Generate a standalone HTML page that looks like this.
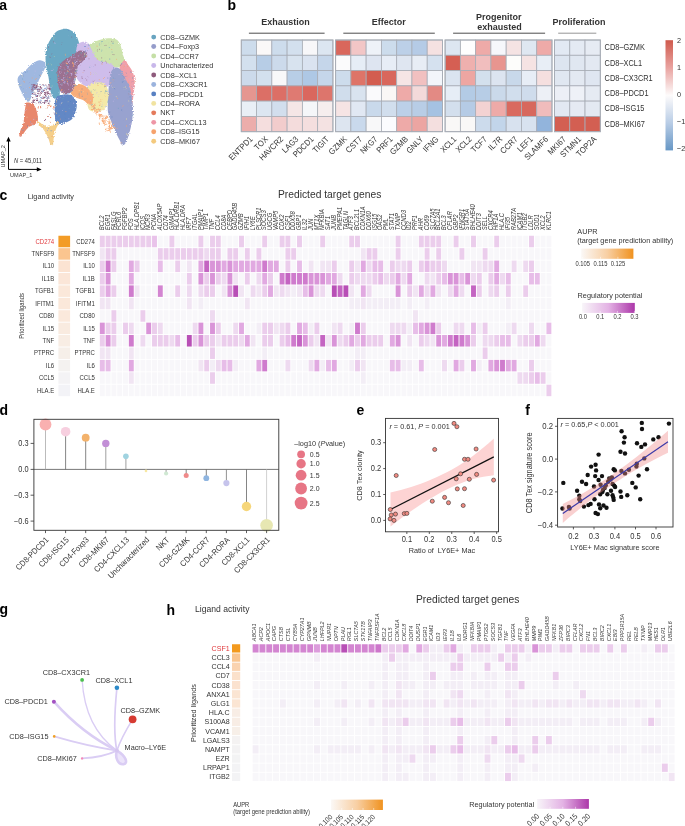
<!DOCTYPE html>
<html><head><meta charset="utf-8"><title>Figure</title>
<style>
html,body{margin:0;padding:0;background:#fff;}
body{width:685px;height:826px;overflow:hidden;}
svg{display:block;font-family:"Liberation Sans",sans-serif;will-change:transform;-webkit-font-smoothing:antialiased;}
</style></head><body>
<svg width="685" height="826" viewBox="0 0 685 826">
<rect width="685" height="826" fill="#fff"/>
<text transform="translate(-0.8 10)" font-size="14" font-weight="bold">a</text>
<defs><filter id="rough" x="-10%" y="-10%" width="120%" height="120%"><feTurbulence type="fractalNoise" baseFrequency="0.9" numOctaves="1" seed="3" result="n"/><feDisplacementMap in="SourceGraphic" in2="n" scale="3.2" xChannelSelector="R" yChannelSelector="G"/></filter></defs>
<g filter="url(#rough)">
<path d="M17.8 78C18.25 76.55 19.27 75.7 20.7 74.3C22.13 72.9 24.68 71.18 26.4 69.6C28.12 68.02 29.27 66.23 31 64.8C32.73 63.37 35.13 61.72 36.8 61C38.47 60.28 39.63 60.25 41 60.5C42.37 60.75 44.33 61.25 45 62.5C45.67 63.75 45.67 65.75 45 68C44.33 70.25 42.33 73.33 41 76C39.67 78.67 38.33 81.17 37 84C35.67 86.83 34.25 90.17 33 93C31.75 95.83 30.67 99.75 29.5 101C28.33 102.25 27.25 101.83 26 100.5C24.75 99.17 23.08 95.08 22 93C20.92 90.92 20.17 89.67 19.5 88C18.83 86.33 18.28 84.67 18 83C17.72 81.33 17.35 79.45 17.8 78Z" fill="#9fb8e0"/>
<path d="M66 28.8C68 28.97 70.33 29.97 72 31C73.67 32.03 74.92 33.33 76 35C77.08 36.67 77.83 38.67 78.5 41C79.17 43.33 80.08 46.67 80 49C79.92 51.33 79.67 53.17 78 55C76.33 56.83 72.5 58.17 70 60C67.5 61.83 64.67 63.5 63 66C61.33 68.5 60.5 71.33 60 75C59.5 78.67 60.17 84.33 60 88C59.83 91.67 60 95.33 59 97C58 98.67 55.33 98.67 54 98C52.67 97.33 51.75 95.33 51 93C50.25 90.67 50 87.17 49.5 84C49 80.83 48.58 77.17 48 74C47.42 70.83 46.42 68 46 65C45.58 62 45.42 58.83 45.5 56C45.58 53.17 45.92 50.33 46.5 48C47.08 45.67 48.08 43.83 49 42C49.92 40.17 50.83 38.67 52 37C53.17 35.33 54.67 33.17 56 32C57.33 30.83 58.33 30.53 60 30C61.67 29.47 64 28.63 66 28.8Z" fill="#6ba8c4"/>
<path d="M84 47C84.37 45.67 87.75 45.13 90.2 44C92.65 42.87 95.7 41.15 98.7 40.2C101.7 39.25 105.35 38.47 108.2 38.3C111.05 38.13 113.9 38.42 115.8 39.2C117.7 39.98 118.65 41.42 119.6 43C120.55 44.58 120.87 46.48 121.5 48.7C122.13 50.92 122.77 54.25 123.4 56.3C124.03 58.35 125.53 59.22 125.3 61C125.07 62.78 124.05 66 122 67C119.95 68 116.08 67.17 113 67C109.92 66.83 106.2 66.67 103.5 66C100.8 65.33 98.72 64.5 96.8 63C94.88 61.5 93.47 58.83 92 57C90.53 55.17 89.33 53.67 88 52C86.67 50.33 83.63 48.33 84 47Z" fill="#cde3ad"/>
<path d="M77 46C78 43 80.17 42.5 82 42C83.83 41.5 86.33 41.67 88 43C89.67 44.33 90.33 47.17 92 50C93.67 52.83 95.33 57.83 98 60C100.67 62.17 105.33 61.83 108 63C110.67 64.17 113 64.17 114 67C115 69.83 114.67 76.83 114 80C113.33 83.17 112.33 84.83 110 86C107.67 87.17 103.33 86.83 100 87C96.67 87.17 93 87.5 90 87C87 86.5 84.33 85.83 82 84C79.67 82.17 77 80 76 76C75 72 75.83 65 76 60C76.17 55 76 49 77 46Z" fill="#cfbdeb"/>
<path d="M121 64C122.05 61.75 124.12 60.37 125.3 60.5C126.48 60.63 126.98 63.13 128.1 64.8C129.22 66.47 130.97 68.43 132 70.5C133.03 72.57 133.83 74.95 134.3 77.2C134.77 79.45 134.93 81.03 134.8 84C134.67 86.97 133.88 91.83 133.5 95C133.12 98.17 132.92 100.67 132.5 103C132.08 105.33 131.58 108.33 131 109C130.42 109.67 129.83 108.83 129 107C128.17 105.17 127.33 101.17 126 98C124.67 94.83 122.17 92 121 88C119.83 84 119 78 119 74C119 70 119.95 66.25 121 64Z" fill="#f19fa8"/>
<path d="M111 72C112.17 69.25 114.33 67.83 116 67.5C117.67 67.17 119.33 67.92 121 70C122.67 72.08 124.5 77 126 80C127.5 83 129 84.83 130 88C131 91.17 131.5 95.5 132 99C132.5 102.5 133 105.33 133 109C133 112.67 132.5 117.42 132 121C131.5 124.58 130.97 127 130 130.5C129.03 134 127.47 139.5 126.2 142C124.93 144.5 123.5 145.83 122.4 145.5C121.3 145.17 120.87 142.5 119.6 140C118.33 137.5 116.23 133.67 114.8 130.5C113.37 127.33 112.1 123.83 111 121C109.9 118.17 108.75 116.33 108.2 113.5C107.65 110.67 107.7 107.17 107.7 104C107.7 100.83 107.98 97.83 108.2 94.5C108.42 91.17 108.53 87.75 109 84C109.47 80.25 109.83 74.75 111 72Z" fill="#98a2cf"/>
<path d="M87.3 86.9C88.57 84.98 91.72 83.73 94 83C96.28 82.27 98.95 82 101 82.5C103.05 83 105.05 84 106.3 86C107.55 88 108.47 91.18 108.5 94.5C108.53 97.82 107.65 103.22 106.5 105.9C105.35 108.58 103.68 109.65 101.6 110.6C99.52 111.55 96.07 111.75 94 111.6C91.93 111.45 90.32 110.97 89.2 109.7C88.08 108.43 87.77 106.53 87.3 104C86.83 101.47 86.4 97.35 86.4 94.5C86.4 91.65 86.03 88.82 87.3 86.9Z" fill="#f4e9a8"/>
<path d="M70 89C70.17 87.33 71.5 85.83 73 85C74.5 84.17 77 83.83 79 84C81 84.17 83.17 84.83 85 86C86.83 87.17 88.67 89.17 90 91C91.33 92.83 92.67 94.83 93 97C93.33 99.17 92.83 102.83 92 104C91.17 105.17 89.5 104.67 88 104C86.5 103.33 84.83 101 83 100C81.17 99 78.83 98.83 77 98C75.17 97.17 73.17 96.5 72 95C70.83 93.5 69.83 90.67 70 89Z" fill="#f8ad7a"/>
<path d="M58 68C58.75 65.33 60.33 63.67 62 62C63.67 60.33 66 59.33 68 58C70 56.67 72 55.25 74 54C76 52.75 78 50.83 80 50.5C82 50.17 84.83 51.08 86 52C87.17 52.92 87.5 54.5 87 56C86.5 57.5 84.5 59.33 83 61C81.5 62.67 79.17 63.5 78 66C76.83 68.5 76.67 72.67 76 76C75.33 79.33 75 83.17 74 86C73 88.83 71.83 91.67 70 93C68.17 94.33 64.83 94.83 63 94C61.17 93.17 59.92 90.67 59 88C58.08 85.33 57.67 81.33 57.5 78C57.33 74.67 57.25 70.67 58 68Z" fill="#9b7090"/>
<path d="M55.8 98.3C56.6 96.87 57.55 96.03 59.6 95.4C61.65 94.77 65.73 94.18 68.1 94.5C70.47 94.82 72.37 95.72 73.8 97.3C75.23 98.88 76.38 101.62 76.7 104C77.02 106.38 76.5 109.07 75.7 111.6C74.9 114.13 73.8 117.3 71.9 119.2C70 121.1 66.35 122.22 64.3 123C62.25 123.78 61.02 124.23 59.6 123.9C58.18 123.57 56.6 122.73 55.8 121C55 119.27 54.97 116.33 54.8 113.5C54.63 110.67 54.63 106.53 54.8 104C54.97 101.47 55 99.73 55.8 98.3Z" fill="#6488c5"/>
<path d="M26.4 102.6C27.5 102.05 30.57 102.8 32 103.5C33.43 104.2 34.12 105.13 35 106.8C35.88 108.47 36.83 111.13 37.3 113.5C37.77 115.87 38.35 119.12 37.8 121C37.25 122.88 35.43 123.85 34 124.8C32.57 125.75 30.47 125.9 29.2 126.7C27.93 127.5 27.67 128.02 26.4 129.6C25.13 131.18 22.78 135.17 21.6 136.2C20.42 137.23 19.45 136.9 19.3 135.8C19.15 134.7 20 131.73 20.7 129.6C21.4 127.47 22.87 125.68 23.5 123C24.13 120.32 24.18 116.2 24.5 113.5C24.82 110.8 25.08 108.62 25.4 106.8C25.72 104.98 25.3 103.15 26.4 102.6Z" fill="#e8876c"/>
<path d="M37.8 121.5C38.43 121.33 41.6 123.93 43.5 124.8C45.4 125.67 47.47 126.7 49.2 126.7C50.93 126.7 52.57 125.58 53.9 124.8C55.23 124.02 56.38 122.3 57.2 122C58.02 121.7 59.03 121.73 58.8 123C58.57 124.27 56.62 127.4 55.8 129.6C54.98 131.8 54.37 133.75 53.9 136.2C53.43 138.65 53.55 142.87 53 144.3C52.45 145.73 51.4 145.85 50.6 144.8C49.8 143.75 49.38 140.53 48.2 138C47.02 135.47 44.92 131.63 43.5 129.6C42.08 127.57 40.65 127.15 39.7 125.8C38.75 124.45 37.17 121.67 37.8 121.5Z" fill="#f5cf8a"/>
<rect x="100.34" y="115.01" width="1.1" height="1.1" fill="#f8ad7a"/>
<rect x="91.4" y="105.41" width="1.1" height="1.1" fill="#f8ad7a"/>
<rect x="92.55" y="105.48" width="1.1" height="1.1" fill="#f8ad7a"/>
<rect x="101.54" y="115.68" width="1.1" height="1.1" fill="#f8ad7a"/>
<rect x="101.02" y="114.04" width="1.1" height="1.1" fill="#f8ad7a"/>
<rect x="92.74" y="105.97" width="1.1" height="1.1" fill="#f8ad7a"/>
<rect x="98.75" y="122.64" width="1.1" height="1.1" fill="#f8ad7a"/>
<rect x="94.08" y="103.8" width="1.1" height="1.1" fill="#f8ad7a"/>
<rect x="96.28" y="109.02" width="1.1" height="1.1" fill="#f8ad7a"/>
<rect x="109.55" y="127.85" width="1.1" height="1.1" fill="#f8ad7a"/>
<rect x="102.85" y="122.6" width="1.1" height="1.1" fill="#f8ad7a"/>
<rect x="94.65" y="106.18" width="1.1" height="1.1" fill="#f8ad7a"/>
<rect x="103.89" y="122.53" width="1.1" height="1.1" fill="#f8ad7a"/>
<rect x="101.93" y="119.76" width="1.1" height="1.1" fill="#f8ad7a"/>
<rect x="107.37" y="123.09" width="1.1" height="1.1" fill="#f8ad7a"/>
<rect x="99.06" y="118.23" width="1.1" height="1.1" fill="#f8ad7a"/>
<rect x="105.13" y="128.95" width="1.1" height="1.1" fill="#f8ad7a"/>
<rect x="91.14" y="108.89" width="1.1" height="1.1" fill="#f8ad7a"/>
<rect x="94.42" y="107.99" width="1.1" height="1.1" fill="#f8ad7a"/>
<rect x="105.63" y="118.52" width="1.1" height="1.1" fill="#f8ad7a"/>
<rect x="108.19" y="129.89" width="1.1" height="1.1" fill="#f8ad7a"/>
<rect x="101.76" y="118.29" width="1.1" height="1.1" fill="#f8ad7a"/>
<rect x="111.14" y="124.99" width="1.1" height="1.1" fill="#f8ad7a"/>
<rect x="108.46" y="122.54" width="1.1" height="1.1" fill="#f8ad7a"/>
<rect x="109.03" y="120.65" width="1.1" height="1.1" fill="#f8ad7a"/>
<rect x="95.23" y="113.55" width="1.1" height="1.1" fill="#f8ad7a"/>
<rect x="91.16" y="104.9" width="1.1" height="1.1" fill="#f8ad7a"/>
<rect x="97.85" y="108.41" width="1.1" height="1.1" fill="#f8ad7a"/>
<rect x="94.62" y="109.55" width="1.1" height="1.1" fill="#f8ad7a"/>
<rect x="111.53" y="127.82" width="1.1" height="1.1" fill="#f8ad7a"/>
<rect x="106.01" y="115.56" width="1.1" height="1.1" fill="#f8ad7a"/>
<rect x="108.87" y="128.71" width="1.1" height="1.1" fill="#f8ad7a"/>
<rect x="103.31" y="109.65" width="1.1" height="1.1" fill="#f8ad7a"/>
<rect x="95.73" y="109.35" width="1.1" height="1.1" fill="#f8ad7a"/>
<rect x="93.75" y="110.34" width="1.1" height="1.1" fill="#f8ad7a"/>
<rect x="99.55" y="110.89" width="1.1" height="1.1" fill="#f8ad7a"/>
<rect x="94.41" y="111.4" width="1.1" height="1.1" fill="#f8ad7a"/>
<rect x="102.77" y="121.66" width="1.1" height="1.1" fill="#f8ad7a"/>
<rect x="109.97" y="123.15" width="1.1" height="1.1" fill="#f8ad7a"/>
<rect x="110.37" y="121.49" width="1.1" height="1.1" fill="#f8ad7a"/>
<rect x="99.02" y="114.81" width="1.1" height="1.1" fill="#f8ad7a"/>
<rect x="105.45" y="120.8" width="1.1" height="1.1" fill="#f8ad7a"/>
<rect x="97.23" y="111.14" width="1.1" height="1.1" fill="#f8ad7a"/>
<rect x="94.31" y="105.37" width="1.1" height="1.1" fill="#f8ad7a"/>
<rect x="93.7" y="107.02" width="1.1" height="1.1" fill="#f8ad7a"/>
<rect x="108.55" y="125.91" width="1.1" height="1.1" fill="#f8ad7a"/>
<rect x="95.84" y="112.27" width="1.1" height="1.1" fill="#f8ad7a"/>
<rect x="98.5" y="101.55" width="1.1" height="1.1" fill="#f8ad7a"/>
<rect x="100.39" y="116.21" width="1.1" height="1.1" fill="#f8ad7a"/>
<rect x="93.1" y="108.1" width="1.1" height="1.1" fill="#f8ad7a"/>
<rect x="108.83" y="125.95" width="1.1" height="1.1" fill="#f8ad7a"/>
<rect x="109.8" y="128.51" width="1.1" height="1.1" fill="#f8ad7a"/>
<rect x="105.52" y="118.58" width="1.1" height="1.1" fill="#f8ad7a"/>
<rect x="113.79" y="126.87" width="1.1" height="1.1" fill="#f8ad7a"/>
<rect x="96.33" y="111.78" width="1.1" height="1.1" fill="#f8ad7a"/>
<rect x="103.7" y="123.29" width="1.1" height="1.1" fill="#f8ad7a"/>
<rect x="99.27" y="116.53" width="1.1" height="1.1" fill="#f8ad7a"/>
<rect x="114.09" y="126.42" width="1.1" height="1.1" fill="#f8ad7a"/>
<rect x="108.27" y="123.7" width="1.1" height="1.1" fill="#f8ad7a"/>
<rect x="102.02" y="117.88" width="1.1" height="1.1" fill="#f8ad7a"/>
<rect x="92.25" y="106.4" width="1.1" height="1.1" fill="#f8ad7a"/>
<rect x="108.16" y="121.36" width="1.1" height="1.1" fill="#f8ad7a"/>
<rect x="116.2" y="127.95" width="1.1" height="1.1" fill="#f8ad7a"/>
<rect x="99.58" y="115.03" width="1.1" height="1.1" fill="#f8ad7a"/>
<rect x="96.8" y="112.07" width="1.1" height="1.1" fill="#f8ad7a"/>
<rect x="111.36" y="125.29" width="1.1" height="1.1" fill="#f8ad7a"/>
<rect x="105.34" y="120.1" width="1.1" height="1.1" fill="#f8ad7a"/>
<rect x="108.45" y="119.11" width="1.1" height="1.1" fill="#f8ad7a"/>
<rect x="105.64" y="123.69" width="1.1" height="1.1" fill="#f8ad7a"/>
<rect x="105.82" y="127.95" width="1.1" height="1.1" fill="#f8ad7a"/>
<rect x="109.66" y="130.62" width="1.1" height="1.1" fill="#f8ad7a"/>
<rect x="110.72" y="127.29" width="1.1" height="1.1" fill="#f8ad7a"/>
<rect x="97.32" y="111.18" width="1.1" height="1.1" fill="#f8ad7a"/>
<rect x="110.63" y="128.24" width="1.1" height="1.1" fill="#f8ad7a"/>
<rect x="110.48" y="127.78" width="1.1" height="1.1" fill="#f8ad7a"/>
<rect x="103.23" y="118.54" width="1.1" height="1.1" fill="#f8ad7a"/>
<rect x="109.83" y="127.07" width="1.1" height="1.1" fill="#f8ad7a"/>
<rect x="106.59" y="130.08" width="1.1" height="1.1" fill="#f8ad7a"/>
<rect x="108.93" y="127.11" width="1.1" height="1.1" fill="#f8ad7a"/>
<rect x="98.03" y="114.54" width="1.1" height="1.1" fill="#f8ad7a"/>
<rect x="96.17" y="111.31" width="1.1" height="1.1" fill="#f8ad7a"/>
<rect x="108.72" y="129.6" width="1.1" height="1.1" fill="#f8ad7a"/>
<rect x="105.56" y="117.87" width="1.1" height="1.1" fill="#f8ad7a"/>
<rect x="107.64" y="127.83" width="1.1" height="1.1" fill="#f8ad7a"/>
<rect x="104.82" y="117.89" width="1.1" height="1.1" fill="#f8ad7a"/>
<rect x="99.6" y="108.86" width="1.1" height="1.1" fill="#f8ad7a"/>
<rect x="91.96" y="109.07" width="1.1" height="1.1" fill="#f8ad7a"/>
<rect x="101.91" y="120.83" width="1.1" height="1.1" fill="#f8ad7a"/>
<rect x="103.33" y="117.42" width="1.1" height="1.1" fill="#f8ad7a"/>
<rect x="103.22" y="120.34" width="1.1" height="1.1" fill="#f8ad7a"/>
<rect x="104.62" y="123.94" width="1.1" height="1.1" fill="#f8ad7a"/>
<rect x="109.23" y="122.52" width="1.1" height="1.1" fill="#f8ad7a"/>
<rect x="101.62" y="119.83" width="1.1" height="1.1" fill="#f8ad7a"/>
<rect x="103.26" y="122.81" width="1.1" height="1.1" fill="#f8ad7a"/>
<rect x="104.74" y="115.2" width="1.1" height="1.1" fill="#f8ad7a"/>
<rect x="111.13" y="126.18" width="1.1" height="1.1" fill="#f8ad7a"/>
<rect x="107.14" y="117.08" width="1.1" height="1.1" fill="#f8ad7a"/>
<rect x="96.46" y="109.21" width="1.1" height="1.1" fill="#f8ad7a"/>
<rect x="93.5" y="106.74" width="1.1" height="1.1" fill="#f8ad7a"/>
<rect x="106.38" y="116.82" width="1.1" height="1.1" fill="#f8ad7a"/>
<rect x="94.41" y="104.86" width="1.1" height="1.1" fill="#f8ad7a"/>
<rect x="99.13" y="103.85" width="1.1" height="1.1" fill="#f8ad7a"/>
<rect x="98.51" y="109.06" width="1.1" height="1.1" fill="#f8ad7a"/>
<rect x="105.9" y="116.4" width="1.1" height="1.1" fill="#f8ad7a"/>
<rect x="92.82" y="109.3" width="1.1" height="1.1" fill="#f8ad7a"/>
<rect x="99.43" y="114.63" width="1.1" height="1.1" fill="#f8ad7a"/>
<rect x="109.22" y="123.12" width="1.1" height="1.1" fill="#f8ad7a"/>
<rect x="102.77" y="115.68" width="1.1" height="1.1" fill="#f8ad7a"/>
<rect x="103.68" y="120.16" width="1.1" height="1.1" fill="#f8ad7a"/>
<rect x="113.1" y="123.91" width="1.1" height="1.1" fill="#f8ad7a"/>
<rect x="32.99" y="89.05" width="1.1" height="1.1" fill="#8e5a7c"/>
<rect x="45.8" y="89.14" width="1.1" height="1.1" fill="#8e5a7c"/>
<rect x="39.02" y="101.32" width="1.1" height="1.1" fill="#9bb3dd"/>
<rect x="35.91" y="86.84" width="1.1" height="1.1" fill="#9bb3dd"/>
<rect x="41.84" y="97.31" width="1.1" height="1.1" fill="#8e5a7c"/>
<rect x="32.09" y="97.08" width="1.1" height="1.1" fill="#8e5a7c"/>
<rect x="32.38" y="101.83" width="1.1" height="1.1" fill="#8e5a7c"/>
<rect x="46.23" y="85.59" width="1.1" height="1.1" fill="#9bb3dd"/>
<rect x="32.27" y="100.39" width="1.1" height="1.1" fill="#8e5a7c"/>
<rect x="37.44" y="94.51" width="1.1" height="1.1" fill="#9bb3dd"/>
<rect x="36.09" y="86.46" width="1.1" height="1.1" fill="#8e5a7c"/>
<rect x="35.53" y="86.08" width="1.1" height="1.1" fill="#8e5a7c"/>
<rect x="31.96" y="87.83" width="1.1" height="1.1" fill="#8e5a7c"/>
<rect x="36.8" y="98.43" width="1.1" height="1.1" fill="#8e5a7c"/>
<rect x="40.5" y="87.38" width="1.1" height="1.1" fill="#8e5a7c"/>
<rect x="31.35" y="88.76" width="1.1" height="1.1" fill="#8e5a7c"/>
<rect x="44.93" y="94.47" width="1.1" height="1.1" fill="#8e5a7c"/>
<rect x="40.02" y="101.76" width="1.1" height="1.1" fill="#8e5a7c"/>
<rect x="46.56" y="92.21" width="1.1" height="1.1" fill="#8e5a7c"/>
<rect x="46.86" y="91.47" width="1.1" height="1.1" fill="#8e5a7c"/>
<rect x="44.07" y="102.67" width="1.1" height="1.1" fill="#8e5a7c"/>
<rect x="46.81" y="97.43" width="1.1" height="1.1" fill="#8e5a7c"/>
<rect x="38.69" y="90.6" width="1.1" height="1.1" fill="#8e5a7c"/>
<rect x="33.47" y="85.34" width="1.1" height="1.1" fill="#9bb3dd"/>
<rect x="35.86" y="87.1" width="1.1" height="1.1" fill="#8e5a7c"/>
<rect x="46.98" y="100.54" width="1.1" height="1.1" fill="#8e5a7c"/>
<rect x="36.36" y="88.6" width="1.1" height="1.1" fill="#8e5a7c"/>
<rect x="39.73" y="86.99" width="1.1" height="1.1" fill="#8e5a7c"/>
<rect x="36" y="102.27" width="1.1" height="1.1" fill="#9bb3dd"/>
<rect x="41.39" y="88.64" width="1.1" height="1.1" fill="#9bb3dd"/>
<rect x="36.88" y="90.78" width="1.1" height="1.1" fill="#8e5a7c"/>
<rect x="38.25" y="93.02" width="1.1" height="1.1" fill="#8e5a7c"/>
<rect x="34.82" y="93.59" width="1.1" height="1.1" fill="#8e5a7c"/>
<rect x="36.02" y="85.71" width="1.1" height="1.1" fill="#8e5a7c"/>
<rect x="31.79" y="84.43" width="1.1" height="1.1" fill="#8e5a7c"/>
<rect x="35.42" y="95.13" width="1.1" height="1.1" fill="#8e5a7c"/>
<rect x="45.26" y="96.49" width="1.1" height="1.1" fill="#9bb3dd"/>
<rect x="47.7" y="91.4" width="1.1" height="1.1" fill="#8e5a7c"/>
<rect x="49.71" y="86.84" width="1.1" height="1.1" fill="#9bb3dd"/>
<rect x="43.22" y="84.83" width="1.1" height="1.1" fill="#9bb3dd"/>
<rect x="47.95" y="95.92" width="1.1" height="1.1" fill="#9bb3dd"/>
<rect x="46.43" y="86.65" width="1.1" height="1.1" fill="#8e5a7c"/>
<rect x="40.58" y="99.86" width="1.1" height="1.1" fill="#9bb3dd"/>
<rect x="46.7" y="95.1" width="1.1" height="1.1" fill="#9bb3dd"/>
<rect x="43.98" y="97.17" width="1.1" height="1.1" fill="#8e5a7c"/>
<rect x="31.59" y="86.53" width="1.1" height="1.1" fill="#8e5a7c"/>
<rect x="32.99" y="99.88" width="1.1" height="1.1" fill="#8e5a7c"/>
<rect x="42.93" y="95.9" width="1.1" height="1.1" fill="#8e5a7c"/>
<rect x="40.3" y="84.06" width="1.1" height="1.1" fill="#9bb3dd"/>
<rect x="45.22" y="93.56" width="1.1" height="1.1" fill="#8e5a7c"/>
<rect x="43.53" y="85.25" width="1.1" height="1.1" fill="#9bb3dd"/>
<rect x="35.79" y="85.41" width="1.1" height="1.1" fill="#8e5a7c"/>
<rect x="44.86" y="87.9" width="1.1" height="1.1" fill="#9bb3dd"/>
<rect x="49.54" y="93.39" width="1.1" height="1.1" fill="#8e5a7c"/>
<rect x="40.1" y="96.99" width="1.1" height="1.1" fill="#9bb3dd"/>
<rect x="42.72" y="96.21" width="1.1" height="1.1" fill="#8e5a7c"/>
<rect x="33.8" y="88.82" width="1.1" height="1.1" fill="#9bb3dd"/>
<rect x="36.78" y="94.79" width="1.1" height="1.1" fill="#8e5a7c"/>
<rect x="32.15" y="89.11" width="1.1" height="1.1" fill="#8e5a7c"/>
<rect x="44.15" y="96.84" width="1.1" height="1.1" fill="#8e5a7c"/>
<rect x="40.81" y="92.83" width="1.1" height="1.1" fill="#8e5a7c"/>
<rect x="33.25" y="100.98" width="1.1" height="1.1" fill="#8e5a7c"/>
<rect x="49.58" y="101.79" width="1.1" height="1.1" fill="#8e5a7c"/>
<rect x="39.72" y="99.58" width="1.1" height="1.1" fill="#9bb3dd"/>
<rect x="39.54" y="89.1" width="1.1" height="1.1" fill="#8e5a7c"/>
<rect x="48.97" y="88" width="1.1" height="1.1" fill="#8e5a7c"/>
<rect x="33.69" y="93.96" width="1.1" height="1.1" fill="#9bb3dd"/>
<rect x="33.52" y="99.58" width="1.1" height="1.1" fill="#8e5a7c"/>
<rect x="47.85" y="97.36" width="1.1" height="1.1" fill="#8e5a7c"/>
<rect x="48.06" y="93.24" width="1.1" height="1.1" fill="#8e5a7c"/>
<rect x="31.07" y="93.34" width="1.1" height="1.1" fill="#8e5a7c"/>
<rect x="36.74" y="86.67" width="1.1" height="1.1" fill="#8e5a7c"/>
<rect x="37.01" y="99.96" width="1.1" height="1.1" fill="#8e5a7c"/>
<rect x="45.26" y="99.94" width="1.1" height="1.1" fill="#8e5a7c"/>
<rect x="48.6" y="97.55" width="1.1" height="1.1" fill="#9bb3dd"/>
<rect x="36.51" y="91.07" width="1.1" height="1.1" fill="#8e5a7c"/>
<rect x="49.98" y="95.19" width="1.1" height="1.1" fill="#8e5a7c"/>
<rect x="39.13" y="89.23" width="1.1" height="1.1" fill="#8e5a7c"/>
<rect x="32.93" y="99.86" width="1.1" height="1.1" fill="#8e5a7c"/>
<rect x="48.78" y="88.74" width="1.1" height="1.1" fill="#8e5a7c"/>
<rect x="40.71" y="87.61" width="1.1" height="1.1" fill="#8e5a7c"/>
<rect x="49.17" y="100.8" width="1.1" height="1.1" fill="#9bb3dd"/>
<rect x="42.99" y="101.36" width="1.1" height="1.1" fill="#9bb3dd"/>
<rect x="41.44" y="97.67" width="1.1" height="1.1" fill="#8e5a7c"/>
<rect x="44.91" y="92.57" width="1.1" height="1.1" fill="#9bb3dd"/>
<rect x="43.25" y="89.44" width="1.1" height="1.1" fill="#8e5a7c"/>
<rect x="48.61" y="86.42" width="1.1" height="1.1" fill="#8e5a7c"/>
<rect x="37.53" y="89.66" width="1.1" height="1.1" fill="#9bb3dd"/>
<rect x="49.55" y="88.94" width="1.1" height="1.1" fill="#8e5a7c"/>
<rect x="36.72" y="94.59" width="1.1" height="1.1" fill="#8e5a7c"/>
<rect x="34.18" y="87.07" width="1.1" height="1.1" fill="#8e5a7c"/>
<rect x="48.21" y="93.44" width="1.1" height="1.1" fill="#8e5a7c"/>
<rect x="48.22" y="102.93" width="1.1" height="1.1" fill="#8e5a7c"/>
<rect x="33.65" y="87.66" width="1.1" height="1.1" fill="#8e5a7c"/>
<rect x="37.5" y="85.73" width="1.1" height="1.1" fill="#8e5a7c"/>
<rect x="35.91" y="94.82" width="1.1" height="1.1" fill="#9bb3dd"/>
<rect x="45.24" y="91.84" width="1.1" height="1.1" fill="#8e5a7c"/>
<rect x="40.96" y="91.16" width="1.1" height="1.1" fill="#8e5a7c"/>
<rect x="32.18" y="89.27" width="1.1" height="1.1" fill="#9bb3dd"/>
<rect x="33.39" y="93.56" width="1.1" height="1.1" fill="#8e5a7c"/>
<rect x="47.39" y="88.1" width="1.1" height="1.1" fill="#8e5a7c"/>
<rect x="35.72" y="91.6" width="1.1" height="1.1" fill="#8e5a7c"/>
<rect x="49.12" y="100.12" width="1.1" height="1.1" fill="#9bb3dd"/>
<rect x="31.41" y="84.61" width="1.1" height="1.1" fill="#9bb3dd"/>
<rect x="48.02" y="92.99" width="1.1" height="1.1" fill="#8e5a7c"/>
<rect x="31" y="91.44" width="1.1" height="1.1" fill="#9bb3dd"/>
<rect x="46.69" y="100.25" width="1.1" height="1.1" fill="#9bb3dd"/>
<rect x="35.72" y="86.07" width="1.1" height="1.1" fill="#8e5a7c"/>
<rect x="40.92" y="96.96" width="1.1" height="1.1" fill="#9bb3dd"/>
<rect x="44.71" y="96.3" width="1.1" height="1.1" fill="#9bb3dd"/>
<rect x="39.69" y="94.48" width="1.1" height="1.1" fill="#8e5a7c"/>
<rect x="45.86" y="88.42" width="1.1" height="1.1" fill="#9bb3dd"/>
<rect x="43.26" y="89.77" width="1.1" height="1.1" fill="#8e5a7c"/>
<rect x="35.78" y="96.09" width="1.1" height="1.1" fill="#8e5a7c"/>
<rect x="33.13" y="85.34" width="1.1" height="1.1" fill="#8e5a7c"/>
<rect x="42.07" y="91.37" width="1.1" height="1.1" fill="#8e5a7c"/>
<rect x="42.42" y="84.2" width="1.1" height="1.1" fill="#8e5a7c"/>
<rect x="39.75" y="102.22" width="1.1" height="1.1" fill="#8e5a7c"/>
<rect x="47.79" y="93.03" width="1.1" height="1.1" fill="#8e5a7c"/>
<rect x="35.69" y="102.25" width="1.1" height="1.1" fill="#9bb3dd"/>
<rect x="36.84" y="84.41" width="1.1" height="1.1" fill="#8e5a7c"/>
<rect x="43.81" y="91.98" width="1.1" height="1.1" fill="#8e5a7c"/>
<rect x="43.68" y="101.58" width="1.1" height="1.1" fill="#8e5a7c"/>
<rect x="31.65" y="90.42" width="1.1" height="1.1" fill="#8e5a7c"/>
<rect x="43.97" y="87.76" width="1.1" height="1.1" fill="#9bb3dd"/>
<rect x="45.04" y="93.59" width="1.1" height="1.1" fill="#8e5a7c"/>
<rect x="49.43" y="89.92" width="1.1" height="1.1" fill="#9bb3dd"/>
<rect x="35.39" y="88.21" width="1.1" height="1.1" fill="#9bb3dd"/>
<rect x="36.6" y="102.09" width="1.1" height="1.1" fill="#8e5a7c"/>
<rect x="34.56" y="88.24" width="1.1" height="1.1" fill="#8e5a7c"/>
<rect x="43.64" y="102.03" width="1.1" height="1.1" fill="#8e5a7c"/>
<rect x="38.48" y="88.05" width="1.1" height="1.1" fill="#9bb3dd"/>
<rect x="33.7" y="84.98" width="1.1" height="1.1" fill="#8e5a7c"/>
<rect x="38.47" y="101.07" width="1.1" height="1.1" fill="#9bb3dd"/>
<rect x="44.92" y="102.95" width="1.1" height="1.1" fill="#9bb3dd"/>
<rect x="37.26" y="87.52" width="1.1" height="1.1" fill="#9bb3dd"/>
<rect x="45.18" y="84.61" width="1.1" height="1.1" fill="#8e5a7c"/>
<rect x="38.19" y="91.1" width="1.1" height="1.1" fill="#8e5a7c"/>
<rect x="34.22" y="84.05" width="1.1" height="1.1" fill="#8e5a7c"/>
<rect x="37.68" y="102.15" width="1.1" height="1.1" fill="#8e5a7c"/>
<rect x="49.32" y="87.94" width="1.1" height="1.1" fill="#8e5a7c"/>
<rect x="46.61" y="99.62" width="1.1" height="1.1" fill="#8e5a7c"/>
<rect x="31.94" y="93" width="1.1" height="1.1" fill="#8e5a7c"/>
<rect x="48.47" y="87.67" width="1.1" height="1.1" fill="#8e5a7c"/>
<rect x="48.04" y="84.58" width="1.1" height="1.1" fill="#8e5a7c"/>
<rect x="46.42" y="98.57" width="1.1" height="1.1" fill="#8e5a7c"/>
<rect x="31.66" y="85.19" width="1.1" height="1.1" fill="#9bb3dd"/>
<rect x="35.88" y="98.2" width="1.1" height="1.1" fill="#9bb3dd"/>
<rect x="37.44" y="89.17" width="1.1" height="1.1" fill="#9bb3dd"/>
<rect x="42.72" y="88.98" width="1.1" height="1.1" fill="#9bb3dd"/>
<rect x="37.01" y="89.24" width="1.1" height="1.1" fill="#8e5a7c"/>
<rect x="45.36" y="101.41" width="1.1" height="1.1" fill="#8e5a7c"/>
<rect x="48.92" y="84.46" width="1.1" height="1.1" fill="#8e5a7c"/>
<rect x="40.03" y="102.18" width="1.1" height="1.1" fill="#9bb3dd"/>
<rect x="38.34" y="88.77" width="1.1" height="1.1" fill="#8e5a7c"/>
<rect x="40.38" y="101.63" width="1.1" height="1.1" fill="#8e5a7c"/>
<rect x="46.25" y="98.03" width="1.1" height="1.1" fill="#9bb3dd"/>
<rect x="45.68" y="95.54" width="1.1" height="1.1" fill="#8e5a7c"/>
<rect x="37.07" y="90.88" width="1.1" height="1.1" fill="#9bb3dd"/>
<rect x="32.5" y="87.75" width="1.1" height="1.1" fill="#9bb3dd"/>
<rect x="35.7" y="85.23" width="1.1" height="1.1" fill="#8e5a7c"/>
<rect x="41.5" y="90.19" width="1.1" height="1.1" fill="#9bb3dd"/>
<rect x="47.79" y="102.77" width="1.1" height="1.1" fill="#8e5a7c"/>
<rect x="32.6" y="85.83" width="1.1" height="1.1" fill="#8e5a7c"/>
<rect x="44.49" y="92.49" width="1.1" height="1.1" fill="#8e5a7c"/>
<rect x="38.92" y="95.79" width="1.1" height="1.1" fill="#8e5a7c"/>
<rect x="45.21" y="100.09" width="1.1" height="1.1" fill="#8e5a7c"/>
<rect x="33.3" y="99.98" width="1.1" height="1.1" fill="#8e5a7c"/>
<rect x="41.77" y="91.09" width="1.1" height="1.1" fill="#9bb3dd"/>
<rect x="34.78" y="88.7" width="1.1" height="1.1" fill="#8e5a7c"/>
<rect x="49.41" y="121.84" width="1.1" height="1.1" fill="#e47a5b"/>
<rect x="44.1" y="119.78" width="1.1" height="1.1" fill="#8e5a7c"/>
<rect x="48.39" y="115.73" width="1.1" height="1.1" fill="#8e5a7c"/>
<rect x="48.8" y="105.4" width="1.1" height="1.1" fill="#e47a5b"/>
<rect x="47.41" y="105.14" width="1.1" height="1.1" fill="#e47a5b"/>
<rect x="39.97" y="106.04" width="1.1" height="1.1" fill="#f4ca7e"/>
<rect x="53.77" y="112.3" width="1.1" height="1.1" fill="#8e5a7c"/>
<rect x="40.07" y="107.09" width="1.1" height="1.1" fill="#e47a5b"/>
<rect x="55.54" y="112.69" width="1.1" height="1.1" fill="#f4ca7e"/>
<rect x="52.75" y="107.29" width="1.1" height="1.1" fill="#e47a5b"/>
<rect x="46.57" y="107.22" width="1.1" height="1.1" fill="#e47a5b"/>
<rect x="49.48" y="104.73" width="1.1" height="1.1" fill="#f4ca7e"/>
<rect x="42.96" y="116.97" width="1.1" height="1.1" fill="#f4ca7e"/>
<rect x="50.16" y="105.97" width="1.1" height="1.1" fill="#e47a5b"/>
<rect x="50.04" y="116.98" width="1.1" height="1.1" fill="#e47a5b"/>
<rect x="48.25" y="115.09" width="1.1" height="1.1" fill="#e47a5b"/>
<rect x="37.7" y="107.28" width="1.1" height="1.1" fill="#e47a5b"/>
<rect x="61.4" y="84.53" width="1" height="1" fill="#c8b7ea" opacity="0.85"/>
<rect x="80.58" y="52.14" width="1" height="1" fill="#6aa4c0" opacity="0.85"/>
<rect x="72.69" y="80.3" width="1" height="1" fill="#c8b7ea" opacity="0.85"/>
<rect x="64.07" y="73.57" width="1" height="1" fill="#c8b7ea" opacity="0.85"/>
<rect x="68.02" y="66.23" width="1" height="1" fill="#b9a3d6" opacity="0.85"/>
<rect x="67.53" y="83.64" width="1" height="1" fill="#c8b7ea" opacity="0.85"/>
<rect x="63.36" y="77.08" width="1" height="1" fill="#c8b7ea" opacity="0.85"/>
<rect x="65.48" y="72.71" width="1" height="1" fill="#6aa4c0" opacity="0.85"/>
<rect x="74.75" y="79.2" width="1" height="1" fill="#6aa4c0" opacity="0.85"/>
<rect x="63.09" y="62.8" width="1" height="1" fill="#a98aa6" opacity="0.85"/>
<rect x="69.83" y="72.56" width="1" height="1" fill="#c8b7ea" opacity="0.85"/>
<rect x="63.18" y="75.68" width="1" height="1" fill="#f6a26c" opacity="0.85"/>
<rect x="60.28" y="66.11" width="1" height="1" fill="#c8b7ea" opacity="0.85"/>
<rect x="60.63" y="79.28" width="1" height="1" fill="#6aa4c0" opacity="0.85"/>
<rect x="68.86" y="61.63" width="1" height="1" fill="#c8b7ea" opacity="0.85"/>
<rect x="74.51" y="76.48" width="1" height="1" fill="#f6a26c" opacity="0.85"/>
<rect x="79.47" y="60.93" width="1" height="1" fill="#c8b7ea" opacity="0.85"/>
<rect x="68.99" y="60.46" width="1" height="1" fill="#c8b7ea" opacity="0.85"/>
<rect x="85.18" y="54.62" width="1" height="1" fill="#f6a26c" opacity="0.85"/>
<rect x="75.46" y="72.31" width="1" height="1" fill="#a98aa6" opacity="0.85"/>
<rect x="69.29" y="76.98" width="1" height="1" fill="#f6a26c" opacity="0.85"/>
<rect x="65.9" y="63.21" width="1" height="1" fill="#c8b7ea" opacity="0.85"/>
<rect x="71.29" y="73.69" width="1" height="1" fill="#c8b7ea" opacity="0.85"/>
<rect x="70.89" y="82.64" width="1" height="1" fill="#c8b7ea" opacity="0.85"/>
<rect x="64.37" y="78.34" width="1" height="1" fill="#c8b7ea" opacity="0.85"/>
<rect x="66.74" y="82.98" width="1" height="1" fill="#a98aa6" opacity="0.85"/>
<rect x="57.68" y="77.98" width="1" height="1" fill="#a98aa6" opacity="0.85"/>
<rect x="69.95" y="84.69" width="1" height="1" fill="#f6a26c" opacity="0.85"/>
<rect x="58.73" y="72.33" width="1" height="1" fill="#b9a3d6" opacity="0.85"/>
<rect x="63.65" y="89.93" width="1" height="1" fill="#a98aa6" opacity="0.85"/>
<rect x="71.11" y="73.35" width="1" height="1" fill="#c8b7ea" opacity="0.85"/>
<rect x="75.92" y="53.42" width="1" height="1" fill="#b9a3d6" opacity="0.85"/>
<rect x="58.1" y="75.98" width="1" height="1" fill="#6aa4c0" opacity="0.85"/>
<rect x="62.38" y="92" width="1" height="1" fill="#f6a26c" opacity="0.85"/>
<rect x="84.52" y="52.9" width="1" height="1" fill="#a98aa6" opacity="0.85"/>
<rect x="86.22" y="54.71" width="1" height="1" fill="#b9a3d6" opacity="0.85"/>
<rect x="80.12" y="53.85" width="1" height="1" fill="#a98aa6" opacity="0.85"/>
<rect x="76.23" y="70.99" width="1" height="1" fill="#b9a3d6" opacity="0.85"/>
<rect x="59.13" y="83.32" width="1" height="1" fill="#b9a3d6" opacity="0.85"/>
<rect x="65.42" y="64.81" width="1" height="1" fill="#6aa4c0" opacity="0.85"/>
<rect x="65.04" y="81.49" width="1" height="1" fill="#6aa4c0" opacity="0.85"/>
<rect x="75.26" y="70.95" width="1" height="1" fill="#6aa4c0" opacity="0.85"/>
<rect x="69.21" y="69.2" width="1" height="1" fill="#c8b7ea" opacity="0.85"/>
<rect x="67.1" y="81.01" width="1" height="1" fill="#f6a26c" opacity="0.85"/>
<rect x="74.12" y="81.43" width="1" height="1" fill="#c8b7ea" opacity="0.85"/>
<rect x="74.39" y="62.63" width="1" height="1" fill="#c8b7ea" opacity="0.85"/>
<rect x="71.73" y="85.06" width="1" height="1" fill="#b9a3d6" opacity="0.85"/>
<rect x="74.5" y="56.99" width="1" height="1" fill="#b9a3d6" opacity="0.85"/>
<rect x="61.31" y="91.3" width="1" height="1" fill="#c8b7ea" opacity="0.85"/>
<rect x="73.96" y="54.6" width="1" height="1" fill="#6aa4c0" opacity="0.85"/>
<rect x="67.38" y="67.66" width="1" height="1" fill="#c8b7ea" opacity="0.85"/>
<rect x="69.51" y="78.42" width="1" height="1" fill="#6aa4c0" opacity="0.85"/>
<rect x="68.14" y="88.9" width="1" height="1" fill="#b9a3d6" opacity="0.85"/>
<rect x="86.21" y="55.58" width="1" height="1" fill="#f6a26c" opacity="0.85"/>
<rect x="76.68" y="65.33" width="1" height="1" fill="#6aa4c0" opacity="0.85"/>
<rect x="72.7" y="88.19" width="1" height="1" fill="#c8b7ea" opacity="0.85"/>
<rect x="61.43" y="69.31" width="1" height="1" fill="#6aa4c0" opacity="0.85"/>
<rect x="74.53" y="55.55" width="1" height="1" fill="#c8b7ea" opacity="0.85"/>
<rect x="72.25" y="61.77" width="1" height="1" fill="#a98aa6" opacity="0.85"/>
<rect x="67.16" y="60.39" width="1" height="1" fill="#b9a3d6" opacity="0.85"/>
<rect x="64.28" y="92.02" width="1" height="1" fill="#c8b7ea" opacity="0.85"/>
<rect x="61.27" y="78.95" width="1" height="1" fill="#b9a3d6" opacity="0.85"/>
<rect x="69.92" y="58.63" width="1" height="1" fill="#a98aa6" opacity="0.85"/>
<rect x="69.97" y="59.79" width="1" height="1" fill="#a98aa6" opacity="0.85"/>
<rect x="64.23" y="82.48" width="1" height="1" fill="#c8b7ea" opacity="0.85"/>
<rect x="69.76" y="75.26" width="1" height="1" fill="#a98aa6" opacity="0.85"/>
<rect x="74.68" y="60.06" width="1" height="1" fill="#b9a3d6" opacity="0.85"/>
<rect x="76.53" y="69.97" width="1" height="1" fill="#6aa4c0" opacity="0.85"/>
<rect x="64.31" y="80.83" width="1" height="1" fill="#c8b7ea" opacity="0.85"/>
<rect x="63.76" y="67.61" width="1" height="1" fill="#a98aa6" opacity="0.85"/>
<rect x="76.15" y="61" width="1" height="1" fill="#c8b7ea" opacity="0.85"/>
<rect x="85.06" y="54.68" width="1" height="1" fill="#6aa4c0" opacity="0.85"/>
<rect x="73.39" y="57.08" width="1" height="1" fill="#b9a3d6" opacity="0.85"/>
<rect x="74.39" y="73.81" width="1" height="1" fill="#a98aa6" opacity="0.85"/>
<rect x="66.97" y="82.65" width="1" height="1" fill="#c8b7ea" opacity="0.85"/>
<rect x="62.72" y="80.11" width="1" height="1" fill="#c8b7ea" opacity="0.85"/>
<rect x="76.4" y="61.11" width="1" height="1" fill="#c8b7ea" opacity="0.85"/>
<rect x="69.39" y="68.5" width="1" height="1" fill="#a98aa6" opacity="0.85"/>
<rect x="68.82" y="91.96" width="1" height="1" fill="#b9a3d6" opacity="0.85"/>
<rect x="70.79" y="57.24" width="1" height="1" fill="#c8b7ea" opacity="0.85"/>
<rect x="71.01" y="74.73" width="1" height="1" fill="#b9a3d6" opacity="0.85"/>
<rect x="82.07" y="56.44" width="1" height="1" fill="#a98aa6" opacity="0.85"/>
<rect x="65.42" y="74.12" width="1" height="1" fill="#b9a3d6" opacity="0.85"/>
<rect x="81.07" y="60.14" width="1" height="1" fill="#a98aa6" opacity="0.85"/>
<rect x="68.04" y="61.16" width="1" height="1" fill="#c8b7ea" opacity="0.85"/>
<rect x="67.46" y="78.79" width="1" height="1" fill="#6aa4c0" opacity="0.85"/>
<rect x="71.35" y="68.85" width="1" height="1" fill="#a98aa6" opacity="0.85"/>
<rect x="74.07" y="64.29" width="1" height="1" fill="#b9a3d6" opacity="0.85"/>
<rect x="72.98" y="65.19" width="1" height="1" fill="#f6a26c" opacity="0.85"/>
<rect x="60.89" y="89.78" width="1" height="1" fill="#f6a26c" opacity="0.85"/>
<rect x="61.37" y="89.21" width="1" height="1" fill="#f6a26c" opacity="0.85"/>
<rect x="76.37" y="63.07" width="1" height="1" fill="#c8b7ea" opacity="0.85"/>
<rect x="60.46" y="71.7" width="1" height="1" fill="#c8b7ea" opacity="0.85"/>
<rect x="71.5" y="89.84" width="1" height="1" fill="#a98aa6" opacity="0.85"/>
<rect x="71.72" y="71.92" width="1" height="1" fill="#f6a26c" opacity="0.85"/>
<rect x="61.13" y="64.11" width="1" height="1" fill="#a98aa6" opacity="0.85"/>
<rect x="74" y="79.27" width="1" height="1" fill="#c8b7ea" opacity="0.85"/>
<rect x="68" y="68.43" width="1" height="1" fill="#a98aa6" opacity="0.85"/>
<rect x="58.41" y="78.03" width="1" height="1" fill="#a98aa6" opacity="0.85"/>
<rect x="59.01" y="71.3" width="1" height="1" fill="#b9a3d6" opacity="0.85"/>
<rect x="76.01" y="64.9" width="1" height="1" fill="#a98aa6" opacity="0.85"/>
<rect x="67.72" y="70.88" width="1" height="1" fill="#f6a26c" opacity="0.85"/>
<rect x="65.09" y="65.05" width="1" height="1" fill="#6aa4c0" opacity="0.85"/>
<rect x="73.73" y="86.38" width="1" height="1" fill="#6aa4c0" opacity="0.85"/>
<rect x="67.37" y="71.72" width="1" height="1" fill="#6aa4c0" opacity="0.85"/>
<rect x="72.12" y="61.95" width="1" height="1" fill="#f6a26c" opacity="0.85"/>
<rect x="67.03" y="58.96" width="1" height="1" fill="#c8b7ea" opacity="0.85"/>
<rect x="66.15" y="63.17" width="1" height="1" fill="#f6a26c" opacity="0.85"/>
<rect x="73.74" y="67.87" width="1" height="1" fill="#f6a26c" opacity="0.85"/>
<rect x="77.79" y="59.35" width="1" height="1" fill="#a98aa6" opacity="0.85"/>
<rect x="61.56" y="79.2" width="1" height="1" fill="#c8b7ea" opacity="0.85"/>
<rect x="83.9" y="56.1" width="1" height="1" fill="#6aa4c0" opacity="0.85"/>
<rect x="73.99" y="61.35" width="1" height="1" fill="#6aa4c0" opacity="0.85"/>
<rect x="71.93" y="72.97" width="1" height="1" fill="#c8b7ea" opacity="0.85"/>
<rect x="58.15" y="79.92" width="1" height="1" fill="#f6a26c" opacity="0.85"/>
<rect x="76.62" y="59.34" width="1" height="1" fill="#b9a3d6" opacity="0.85"/>
<rect x="76.06" y="68.79" width="1" height="1" fill="#c8b7ea" opacity="0.85"/>
<rect x="77.88" y="55.35" width="1" height="1" fill="#c8b7ea" opacity="0.85"/>
<rect x="71.11" y="62.12" width="1" height="1" fill="#f6a26c" opacity="0.85"/>
<rect x="63.75" y="82.28" width="1" height="1" fill="#b9a3d6" opacity="0.85"/>
<rect x="60.63" y="83.41" width="1" height="1" fill="#6aa4c0" opacity="0.85"/>
<rect x="70.74" y="91.02" width="1" height="1" fill="#6aa4c0" opacity="0.85"/>
<rect x="85.23" y="52.32" width="1" height="1" fill="#c8b7ea" opacity="0.85"/>
<rect x="50.4" y="143.81" width="0.9" height="0.9" fill="#5880c2" opacity="0.7"/>
<rect x="56.11" y="105.31" width="0.9" height="0.9" fill="#f1e3a0" opacity="0.7"/>
<rect x="22.33" y="129.54" width="0.9" height="0.9" fill="#5880c2" opacity="0.7"/>
<rect x="103.6" y="95.68" width="0.9" height="0.9" fill="#f6a26c" opacity="0.7"/>
<rect x="62.11" y="102.73" width="0.9" height="0.9" fill="#f1e3a0" opacity="0.7"/>
<rect x="129.7" y="124.11" width="0.9" height="0.9" fill="#c8b7ea" opacity="0.7"/>
<rect x="108.83" y="47.16" width="0.9" height="0.9" fill="#6aa4c0" opacity="0.7"/>
<rect x="90.31" y="72.82" width="0.9" height="0.9" fill="#f6a26c" opacity="0.7"/>
<rect x="26.55" y="71.35" width="0.9" height="0.9" fill="#6aa4c0" opacity="0.7"/>
<rect x="121.22" y="109.62" width="0.9" height="0.9" fill="#5880c2" opacity="0.7"/>
<rect x="90.83" y="104.33" width="0.9" height="0.9" fill="#6aa4c0" opacity="0.7"/>
<rect x="128.59" y="93.37" width="0.9" height="0.9" fill="#5880c2" opacity="0.7"/>
<rect x="42.14" y="127.44" width="0.9" height="0.9" fill="#c8b7ea" opacity="0.7"/>
<rect x="96.56" y="85.05" width="0.9" height="0.9" fill="#f6a26c" opacity="0.7"/>
<rect x="53.53" y="68.91" width="0.9" height="0.9" fill="#c8b7ea" opacity="0.7"/>
<rect x="66.97" y="72.52" width="0.9" height="0.9" fill="#6aa4c0" opacity="0.7"/>
<rect x="84.08" y="46.15" width="0.9" height="0.9" fill="#5880c2" opacity="0.7"/>
<rect x="117.88" y="107.84" width="0.9" height="0.9" fill="#6aa4c0" opacity="0.7"/>
<rect x="129.62" y="96.49" width="0.9" height="0.9" fill="#5880c2" opacity="0.7"/>
<rect x="50.89" y="70.13" width="0.9" height="0.9" fill="#c8b7ea" opacity="0.7"/>
<rect x="65.45" y="111.18" width="0.9" height="0.9" fill="#f6a26c" opacity="0.7"/>
<rect x="132.33" y="76.93" width="0.9" height="0.9" fill="#6aa4c0" opacity="0.7"/>
<rect x="68.4" y="81.19" width="0.9" height="0.9" fill="#5880c2" opacity="0.7"/>
<rect x="69.87" y="35.03" width="0.9" height="0.9" fill="#c8b7ea" opacity="0.7"/>
<rect x="59.91" y="97.14" width="0.9" height="0.9" fill="#959cca" opacity="0.7"/>
<rect x="69.1" y="70" width="0.9" height="0.9" fill="#6aa4c0" opacity="0.7"/>
<rect x="109.2" y="110.62" width="0.9" height="0.9" fill="#c8b7ea" opacity="0.7"/>
<rect x="24.81" y="81.29" width="0.9" height="0.9" fill="#959cca" opacity="0.7"/>
<rect x="33.39" y="118.84" width="0.9" height="0.9" fill="#c8b7ea" opacity="0.7"/>
<rect x="64.46" y="113.68" width="0.9" height="0.9" fill="#5880c2" opacity="0.7"/>
<rect x="117.1" y="97.92" width="0.9" height="0.9" fill="#f6a26c" opacity="0.7"/>
<rect x="78.73" y="92.83" width="0.9" height="0.9" fill="#6aa4c0" opacity="0.7"/>
<rect x="35.81" y="118.32" width="0.9" height="0.9" fill="#6aa4c0" opacity="0.7"/>
<rect x="34.89" y="78.82" width="0.9" height="0.9" fill="#f6a26c" opacity="0.7"/>
<rect x="128.52" y="104.75" width="0.9" height="0.9" fill="#959cca" opacity="0.7"/>
<rect x="111.31" y="84.79" width="0.9" height="0.9" fill="#c8b7ea" opacity="0.7"/>
<rect x="113.48" y="54.18" width="0.9" height="0.9" fill="#8e5a7c" opacity="0.7"/>
<rect x="73.19" y="104.33" width="0.9" height="0.9" fill="#6aa4c0" opacity="0.7"/>
<rect x="126.76" y="75.93" width="0.9" height="0.9" fill="#5880c2" opacity="0.7"/>
<rect x="50.79" y="64.33" width="0.9" height="0.9" fill="#c5dfa6" opacity="0.7"/>
<rect x="36.42" y="121.41" width="0.9" height="0.9" fill="#f6a26c" opacity="0.7"/>
<rect x="54.39" y="42.75" width="0.9" height="0.9" fill="#c8b7ea" opacity="0.7"/>
<rect x="79.71" y="55.02" width="0.9" height="0.9" fill="#8e5a7c" opacity="0.7"/>
<rect x="121.94" y="81.61" width="0.9" height="0.9" fill="#5880c2" opacity="0.7"/>
<rect x="86.52" y="50.13" width="0.9" height="0.9" fill="#5880c2" opacity="0.7"/>
<rect x="105.54" y="44.91" width="0.9" height="0.9" fill="#8e5a7c" opacity="0.7"/>
<rect x="98.82" y="79.3" width="0.9" height="0.9" fill="#f6a26c" opacity="0.7"/>
<rect x="48.21" y="127.88" width="0.9" height="0.9" fill="#6aa4c0" opacity="0.7"/>
<rect x="109.29" y="58.61" width="0.9" height="0.9" fill="#5880c2" opacity="0.7"/>
<rect x="116.18" y="133.17" width="0.9" height="0.9" fill="#5880c2" opacity="0.7"/>
<rect x="83.07" y="79.42" width="0.9" height="0.9" fill="#c8b7ea" opacity="0.7"/>
<rect x="22.25" y="75.53" width="0.9" height="0.9" fill="#f1e3a0" opacity="0.7"/>
<rect x="27.49" y="98.25" width="0.9" height="0.9" fill="#f1e3a0" opacity="0.7"/>
<rect x="49.67" y="78.25" width="0.9" height="0.9" fill="#5880c2" opacity="0.7"/>
<rect x="127.41" y="135.21" width="0.9" height="0.9" fill="#f1e3a0" opacity="0.7"/>
<rect x="48.19" y="133.46" width="0.9" height="0.9" fill="#f1e3a0" opacity="0.7"/>
<rect x="53.22" y="41.42" width="0.9" height="0.9" fill="#8e5a7c" opacity="0.7"/>
<rect x="68.75" y="108.14" width="0.9" height="0.9" fill="#6aa4c0" opacity="0.7"/>
<rect x="47.13" y="129.67" width="0.9" height="0.9" fill="#c8b7ea" opacity="0.7"/>
<rect x="81.35" y="94.02" width="0.9" height="0.9" fill="#f6a26c" opacity="0.7"/>
<rect x="49.71" y="56.87" width="0.9" height="0.9" fill="#8e5a7c" opacity="0.7"/>
<rect x="111.62" y="51.56" width="0.9" height="0.9" fill="#6aa4c0" opacity="0.7"/>
<rect x="26.49" y="116.73" width="0.9" height="0.9" fill="#f1e3a0" opacity="0.7"/>
<rect x="38.93" y="74.21" width="0.9" height="0.9" fill="#6aa4c0" opacity="0.7"/>
<rect x="125.8" y="133.26" width="0.9" height="0.9" fill="#f1e3a0" opacity="0.7"/>
<rect x="128.32" y="133.62" width="0.9" height="0.9" fill="#c8b7ea" opacity="0.7"/>
<rect x="120.79" y="142.21" width="0.9" height="0.9" fill="#f6a26c" opacity="0.7"/>
<rect x="109.08" y="71.84" width="0.9" height="0.9" fill="#8e5a7c" opacity="0.7"/>
<rect x="110.46" y="82.12" width="0.9" height="0.9" fill="#f6a26c" opacity="0.7"/>
<rect x="90.84" y="101.97" width="0.9" height="0.9" fill="#6aa4c0" opacity="0.7"/>
<rect x="101.38" y="49.7" width="0.9" height="0.9" fill="#6aa4c0" opacity="0.7"/>
<rect x="20.17" y="135.53" width="0.9" height="0.9" fill="#c8b7ea" opacity="0.7"/>
<rect x="30.83" y="123.71" width="0.9" height="0.9" fill="#c8b7ea" opacity="0.7"/>
<rect x="57" y="98.08" width="0.9" height="0.9" fill="#c8b7ea" opacity="0.7"/>
<rect x="56.04" y="73.61" width="0.9" height="0.9" fill="#8e5a7c" opacity="0.7"/>
<rect x="84.09" y="54.17" width="0.9" height="0.9" fill="#f1e3a0" opacity="0.7"/>
<rect x="61.38" y="63.27" width="0.9" height="0.9" fill="#5880c2" opacity="0.7"/>
<rect x="61.11" y="101.66" width="0.9" height="0.9" fill="#c8b7ea" opacity="0.7"/>
<rect x="70.02" y="101.02" width="0.9" height="0.9" fill="#5880c2" opacity="0.7"/>
<rect x="96.85" y="58.51" width="0.9" height="0.9" fill="#f6a26c" opacity="0.7"/>
<rect x="128.68" y="83.24" width="0.9" height="0.9" fill="#f6a26c" opacity="0.7"/>
<rect x="86.66" y="92.76" width="0.9" height="0.9" fill="#6aa4c0" opacity="0.7"/>
<rect x="121.78" y="105.83" width="0.9" height="0.9" fill="#f6a26c" opacity="0.7"/>
<rect x="87.23" y="76.75" width="0.9" height="0.9" fill="#8e5a7c" opacity="0.7"/>
<rect x="59.47" y="88.4" width="0.9" height="0.9" fill="#5880c2" opacity="0.7"/>
<rect x="64.14" y="92.23" width="0.9" height="0.9" fill="#959cca" opacity="0.7"/>
<rect x="101.21" y="57.48" width="0.9" height="0.9" fill="#8e5a7c" opacity="0.7"/>
<rect x="131.97" y="85.61" width="0.9" height="0.9" fill="#959cca" opacity="0.7"/>
<rect x="131.4" y="94.86" width="0.9" height="0.9" fill="#959cca" opacity="0.7"/>
<rect x="101.06" y="41.27" width="0.9" height="0.9" fill="#6aa4c0" opacity="0.7"/>
<rect x="74.78" y="72.16" width="0.9" height="0.9" fill="#f1e3a0" opacity="0.7"/>
<rect x="101.26" y="60.79" width="0.9" height="0.9" fill="#5880c2" opacity="0.7"/>
<rect x="68.1" y="105.66" width="0.9" height="0.9" fill="#5880c2" opacity="0.7"/>
<rect x="124.58" y="86.02" width="0.9" height="0.9" fill="#f1e3a0" opacity="0.7"/>
<rect x="100.73" y="82.7" width="0.9" height="0.9" fill="#959cca" opacity="0.7"/>
<rect x="78.76" y="90" width="0.9" height="0.9" fill="#f1e3a0" opacity="0.7"/>
<rect x="131.69" y="81.63" width="0.9" height="0.9" fill="#5880c2" opacity="0.7"/>
<rect x="59.88" y="118.66" width="0.9" height="0.9" fill="#f6a26c" opacity="0.7"/>
<rect x="132.21" y="114.93" width="0.9" height="0.9" fill="#6aa4c0" opacity="0.7"/>
<rect x="112.87" y="100.76" width="0.9" height="0.9" fill="#c8b7ea" opacity="0.7"/>
<rect x="19.09" y="83.38" width="0.9" height="0.9" fill="#5880c2" opacity="0.7"/>
<rect x="75.79" y="69.52" width="0.9" height="0.9" fill="#f1e3a0" opacity="0.7"/>
<rect x="52.19" y="130.58" width="0.9" height="0.9" fill="#f6a26c" opacity="0.7"/>
<rect x="33.98" y="74.72" width="0.9" height="0.9" fill="#c8b7ea" opacity="0.7"/>
<rect x="94.67" y="94.17" width="0.9" height="0.9" fill="#f1e3a0" opacity="0.7"/>
<rect x="58.18" y="100.03" width="0.9" height="0.9" fill="#5880c2" opacity="0.7"/>
<rect x="62.32" y="110.09" width="0.9" height="0.9" fill="#c8b7ea" opacity="0.7"/>
<rect x="98.98" y="48.82" width="0.9" height="0.9" fill="#8e5a7c" opacity="0.7"/>
<rect x="127.1" y="65.86" width="0.9" height="0.9" fill="#f6a26c" opacity="0.7"/>
<rect x="105.64" y="61.72" width="0.9" height="0.9" fill="#8e5a7c" opacity="0.7"/>
<rect x="34.94" y="84.93" width="0.9" height="0.9" fill="#f6a26c" opacity="0.7"/>
<rect x="26.14" y="88.47" width="0.9" height="0.9" fill="#c8b7ea" opacity="0.7"/>
<rect x="125.28" y="65.28" width="0.9" height="0.9" fill="#c8b7ea" opacity="0.7"/>
<rect x="72.67" y="56.75" width="0.9" height="0.9" fill="#6aa4c0" opacity="0.7"/>
<rect x="99.7" y="86.73" width="0.9" height="0.9" fill="#f1e3a0" opacity="0.7"/>
<rect x="84.1" y="100.13" width="0.9" height="0.9" fill="#c8b7ea" opacity="0.7"/>
<rect x="111.34" y="86.08" width="0.9" height="0.9" fill="#f6a26c" opacity="0.7"/>
<rect x="56.18" y="100.13" width="0.9" height="0.9" fill="#f1e3a0" opacity="0.7"/>
<rect x="99.28" y="110.42" width="0.9" height="0.9" fill="#5880c2" opacity="0.7"/>
<rect x="34.67" y="70.6" width="0.9" height="0.9" fill="#c8b7ea" opacity="0.7"/>
<rect x="122.44" y="62.83" width="0.9" height="0.9" fill="#c8b7ea" opacity="0.7"/>
<rect x="125.61" y="72.72" width="0.9" height="0.9" fill="#5880c2" opacity="0.7"/>
<rect x="53.88" y="55.77" width="0.9" height="0.9" fill="#c5dfa6" opacity="0.7"/>
<rect x="59.65" y="103.59" width="0.9" height="0.9" fill="#959cca" opacity="0.7"/>
<rect x="51.48" y="53.6" width="0.9" height="0.9" fill="#8e5a7c" opacity="0.7"/>
<rect x="68.21" y="65.07" width="0.9" height="0.9" fill="#5880c2" opacity="0.7"/>
<rect x="117.9" y="72.6" width="0.9" height="0.9" fill="#c8b7ea" opacity="0.7"/>
<rect x="104.65" y="92.72" width="0.9" height="0.9" fill="#6aa4c0" opacity="0.7"/>
<rect x="90.63" y="90.75" width="0.9" height="0.9" fill="#6aa4c0" opacity="0.7"/>
<rect x="87.17" y="101.83" width="0.9" height="0.9" fill="#f6a26c" opacity="0.7"/>
<rect x="86.25" y="79.58" width="0.9" height="0.9" fill="#8e5a7c" opacity="0.7"/>
<rect x="70.58" y="86.88" width="0.9" height="0.9" fill="#6aa4c0" opacity="0.7"/>
<rect x="99.19" y="44.51" width="0.9" height="0.9" fill="#6aa4c0" opacity="0.7"/>
<rect x="100.31" y="99.4" width="0.9" height="0.9" fill="#f6a26c" opacity="0.7"/>
<rect x="81.61" y="88.55" width="0.9" height="0.9" fill="#5880c2" opacity="0.7"/>
<rect x="128.42" y="81.86" width="0.9" height="0.9" fill="#f6a26c" opacity="0.7"/>
<rect x="64.76" y="76.96" width="0.9" height="0.9" fill="#6aa4c0" opacity="0.7"/>
<rect x="60.2" y="87.56" width="0.9" height="0.9" fill="#959cca" opacity="0.7"/>
<rect x="96.84" y="49.49" width="0.9" height="0.9" fill="#8e5a7c" opacity="0.7"/>
<rect x="64.89" y="53.81" width="0.9" height="0.9" fill="#f6a26c" opacity="0.7"/>
<rect x="53.31" y="37.53" width="0.9" height="0.9" fill="#c5dfa6" opacity="0.7"/>
<rect x="92.64" y="94.24" width="0.9" height="0.9" fill="#5880c2" opacity="0.7"/>
<rect x="124.89" y="119.26" width="0.9" height="0.9" fill="#f6a26c" opacity="0.7"/>
<rect x="87.28" y="87.21" width="0.9" height="0.9" fill="#6aa4c0" opacity="0.7"/>
<rect x="66.67" y="78.27" width="0.9" height="0.9" fill="#6aa4c0" opacity="0.7"/>
<rect x="73.18" y="111.26" width="0.9" height="0.9" fill="#959cca" opacity="0.7"/>
<rect x="65.01" y="69.42" width="0.9" height="0.9" fill="#959cca" opacity="0.7"/>
<rect x="68.1" y="95.89" width="0.9" height="0.9" fill="#6aa4c0" opacity="0.7"/>
<rect x="21.36" y="129.19" width="0.9" height="0.9" fill="#6aa4c0" opacity="0.7"/>
<rect x="72.95" y="102.77" width="0.9" height="0.9" fill="#c8b7ea" opacity="0.7"/>
<rect x="131.64" y="100.57" width="0.9" height="0.9" fill="#f6a26c" opacity="0.7"/>
<rect x="48.36" y="137.54" width="0.9" height="0.9" fill="#959cca" opacity="0.7"/>
<rect x="27.68" y="104.42" width="0.9" height="0.9" fill="#959cca" opacity="0.7"/>
<rect x="92.28" y="65.03" width="0.9" height="0.9" fill="#5880c2" opacity="0.7"/>
<rect x="104.22" y="43.73" width="0.9" height="0.9" fill="#c5dfa6" opacity="0.7"/>
<rect x="65.21" y="74.27" width="0.9" height="0.9" fill="#959cca" opacity="0.7"/>
<rect x="22.37" y="74.56" width="0.9" height="0.9" fill="#c8b7ea" opacity="0.7"/>
<rect x="32.38" y="125.12" width="0.9" height="0.9" fill="#6aa4c0" opacity="0.7"/>
<rect x="108.27" y="45.21" width="0.9" height="0.9" fill="#c5dfa6" opacity="0.7"/>
<rect x="111.96" y="42.74" width="0.9" height="0.9" fill="#6aa4c0" opacity="0.7"/>
<rect x="104.77" y="85.83" width="0.9" height="0.9" fill="#f6a26c" opacity="0.7"/>
<rect x="27.61" y="68.86" width="0.9" height="0.9" fill="#c8b7ea" opacity="0.7"/>
<rect x="123.8" y="65.86" width="0.9" height="0.9" fill="#f6a26c" opacity="0.7"/>
<rect x="80.78" y="91.26" width="0.9" height="0.9" fill="#6aa4c0" opacity="0.7"/>
<rect x="66.99" y="66.13" width="0.9" height="0.9" fill="#c8b7ea" opacity="0.7"/>
<rect x="24.59" y="123.21" width="0.9" height="0.9" fill="#959cca" opacity="0.7"/>
<rect x="32.24" y="124.54" width="0.9" height="0.9" fill="#c8b7ea" opacity="0.7"/>
<rect x="104.95" y="91.12" width="0.9" height="0.9" fill="#6aa4c0" opacity="0.7"/>
<rect x="22.42" y="128.96" width="0.9" height="0.9" fill="#f6a26c" opacity="0.7"/>
<rect x="50.75" y="130.34" width="0.9" height="0.9" fill="#959cca" opacity="0.7"/>
<rect x="115.8" y="96.25" width="0.9" height="0.9" fill="#f1e3a0" opacity="0.7"/>
<rect x="128.9" y="87.28" width="0.9" height="0.9" fill="#c8b7ea" opacity="0.7"/>
<rect x="94.79" y="64.48" width="0.9" height="0.9" fill="#8e5a7c" opacity="0.7"/>
<rect x="128.52" y="90.88" width="0.9" height="0.9" fill="#6aa4c0" opacity="0.7"/>
<rect x="42.58" y="124.72" width="0.9" height="0.9" fill="#959cca" opacity="0.7"/>
<rect x="81.03" y="88.37" width="0.9" height="0.9" fill="#f6a26c" opacity="0.7"/>
<rect x="18.67" y="85.23" width="0.9" height="0.9" fill="#f1e3a0" opacity="0.7"/>
<rect x="31.8" y="77.56" width="0.9" height="0.9" fill="#f6a26c" opacity="0.7"/>
<rect x="25.74" y="109.17" width="0.9" height="0.9" fill="#c8b7ea" opacity="0.7"/>
<rect x="67.05" y="70.53" width="0.9" height="0.9" fill="#f1e3a0" opacity="0.7"/>
<rect x="68.38" y="118.35" width="0.9" height="0.9" fill="#c8b7ea" opacity="0.7"/>
<rect x="52.01" y="135.69" width="0.9" height="0.9" fill="#f6a26c" opacity="0.7"/>
<rect x="85.1" y="86.74" width="0.9" height="0.9" fill="#f6a26c" opacity="0.7"/>
<rect x="83.61" y="51.71" width="0.9" height="0.9" fill="#6aa4c0" opacity="0.7"/>
<rect x="101.79" y="62.13" width="0.9" height="0.9" fill="#8e5a7c" opacity="0.7"/>
<rect x="111.28" y="48.98" width="0.9" height="0.9" fill="#f6a26c" opacity="0.7"/>
<rect x="94.36" y="89.49" width="0.9" height="0.9" fill="#5880c2" opacity="0.7"/>
<rect x="92.17" y="89.11" width="0.9" height="0.9" fill="#6aa4c0" opacity="0.7"/>
<rect x="79.62" y="60.12" width="0.9" height="0.9" fill="#f6a26c" opacity="0.7"/>
<rect x="130.2" y="71.51" width="0.9" height="0.9" fill="#5880c2" opacity="0.7"/>
<rect x="96.57" y="73.35" width="0.9" height="0.9" fill="#c5dfa6" opacity="0.7"/>
<rect x="101.42" y="105.79" width="0.9" height="0.9" fill="#6aa4c0" opacity="0.7"/>
<rect x="73.74" y="81.59" width="0.9" height="0.9" fill="#c8b7ea" opacity="0.7"/>
<rect x="62.55" y="92.26" width="0.9" height="0.9" fill="#f1e3a0" opacity="0.7"/>
<rect x="56.06" y="101.46" width="0.9" height="0.9" fill="#f6a26c" opacity="0.7"/>
<rect x="101.59" y="63.8" width="0.9" height="0.9" fill="#f6a26c" opacity="0.7"/>
<rect x="97.39" y="83.29" width="0.9" height="0.9" fill="#5880c2" opacity="0.7"/>
<rect x="128.04" y="124.91" width="0.9" height="0.9" fill="#c8b7ea" opacity="0.7"/>
<rect x="120.94" y="78.59" width="0.9" height="0.9" fill="#959cca" opacity="0.7"/>
<rect x="40.01" y="74.81" width="0.9" height="0.9" fill="#f6a26c" opacity="0.7"/>
<rect x="67.16" y="76.73" width="0.9" height="0.9" fill="#c8b7ea" opacity="0.7"/>
<rect x="64.43" y="117.76" width="0.9" height="0.9" fill="#5880c2" opacity="0.7"/>
<rect x="48.04" y="46.68" width="0.9" height="0.9" fill="#8e5a7c" opacity="0.7"/>
<rect x="26.35" y="107.45" width="0.9" height="0.9" fill="#f6a26c" opacity="0.7"/>
<rect x="90.08" y="100.01" width="0.9" height="0.9" fill="#c8b7ea" opacity="0.7"/>
<rect x="51.79" y="85.43" width="0.9" height="0.9" fill="#c5dfa6" opacity="0.7"/>
<rect x="63.4" y="108.49" width="0.9" height="0.9" fill="#6aa4c0" opacity="0.7"/>
<rect x="66.12" y="105.11" width="0.9" height="0.9" fill="#f1e3a0" opacity="0.7"/>
<rect x="87.83" y="47.89" width="0.9" height="0.9" fill="#f6a26c" opacity="0.7"/>
<rect x="23.55" y="93.68" width="0.9" height="0.9" fill="#959cca" opacity="0.7"/>
<rect x="77.62" y="93.37" width="0.9" height="0.9" fill="#f6a26c" opacity="0.7"/>
<rect x="113.43" y="86.9" width="0.9" height="0.9" fill="#f1e3a0" opacity="0.7"/>
<rect x="95.26" y="46.14" width="0.9" height="0.9" fill="#f6a26c" opacity="0.7"/>
<rect x="124.64" y="88.32" width="0.9" height="0.9" fill="#f1e3a0" opacity="0.7"/>
<rect x="84.13" y="54.64" width="0.9" height="0.9" fill="#6aa4c0" opacity="0.7"/>
<rect x="100.39" y="100.97" width="0.9" height="0.9" fill="#f6a26c" opacity="0.7"/>
<rect x="131.53" y="72.04" width="0.9" height="0.9" fill="#6aa4c0" opacity="0.7"/>
<rect x="20.63" y="134.96" width="0.9" height="0.9" fill="#f6a26c" opacity="0.7"/>
<rect x="89.32" y="66.78" width="0.9" height="0.9" fill="#6aa4c0" opacity="0.7"/>
<rect x="109.23" y="93.8" width="0.9" height="0.9" fill="#f6a26c" opacity="0.7"/>
<rect x="79.31" y="91.92" width="0.9" height="0.9" fill="#f6a26c" opacity="0.7"/>
<rect x="108.23" y="42.43" width="0.9" height="0.9" fill="#c5dfa6" opacity="0.7"/>
<rect x="122.98" y="88.24" width="0.9" height="0.9" fill="#959cca" opacity="0.7"/>
<rect x="109.56" y="82.34" width="0.9" height="0.9" fill="#c8b7ea" opacity="0.7"/>
<rect x="58.71" y="111.57" width="0.9" height="0.9" fill="#5880c2" opacity="0.7"/>
<rect x="56.03" y="123.08" width="0.9" height="0.9" fill="#5880c2" opacity="0.7"/>
<rect x="127.63" y="97.29" width="0.9" height="0.9" fill="#959cca" opacity="0.7"/>
<rect x="28.67" y="68.61" width="0.9" height="0.9" fill="#f1e3a0" opacity="0.7"/>
<rect x="132.65" y="91.93" width="0.9" height="0.9" fill="#6aa4c0" opacity="0.7"/>
<rect x="103.89" y="85.34" width="0.9" height="0.9" fill="#f6a26c" opacity="0.7"/>
<rect x="62.27" y="98.52" width="0.9" height="0.9" fill="#6aa4c0" opacity="0.7"/>
<rect x="115.97" y="125.95" width="0.9" height="0.9" fill="#959cca" opacity="0.7"/>
<rect x="79.32" y="97.58" width="0.9" height="0.9" fill="#f6a26c" opacity="0.7"/>
<rect x="20.17" y="85.32" width="0.9" height="0.9" fill="#5880c2" opacity="0.7"/>
<rect x="63.55" y="122.14" width="0.9" height="0.9" fill="#c8b7ea" opacity="0.7"/>
<rect x="109.12" y="115.39" width="0.9" height="0.9" fill="#959cca" opacity="0.7"/>
<rect x="81.42" y="76.52" width="0.9" height="0.9" fill="#8e5a7c" opacity="0.7"/>
<rect x="128.29" y="100.51" width="0.9" height="0.9" fill="#f1e3a0" opacity="0.7"/>
<rect x="30.19" y="121.25" width="0.9" height="0.9" fill="#959cca" opacity="0.7"/>
<rect x="67.39" y="101.26" width="0.9" height="0.9" fill="#f1e3a0" opacity="0.7"/>
<rect x="131.85" y="83.66" width="0.9" height="0.9" fill="#c8b7ea" opacity="0.7"/>
<rect x="25.02" y="128.56" width="0.9" height="0.9" fill="#959cca" opacity="0.7"/>
<rect x="82.86" y="91.23" width="0.9" height="0.9" fill="#f1e3a0" opacity="0.7"/>
<rect x="111.51" y="116.55" width="0.9" height="0.9" fill="#5880c2" opacity="0.7"/>
<rect x="47.58" y="63.53" width="0.9" height="0.9" fill="#f6a26c" opacity="0.7"/>
<rect x="94.7" y="55.69" width="0.9" height="0.9" fill="#c5dfa6" opacity="0.7"/>
<rect x="121.29" y="63.29" width="0.9" height="0.9" fill="#5880c2" opacity="0.7"/>
<rect x="105.83" y="48.37" width="0.9" height="0.9" fill="#c5dfa6" opacity="0.7"/>
<rect x="92.78" y="80.69" width="0.9" height="0.9" fill="#8e5a7c" opacity="0.7"/>
<rect x="96.57" y="91.92" width="0.9" height="0.9" fill="#c8b7ea" opacity="0.7"/>
<rect x="68.27" y="29.87" width="0.9" height="0.9" fill="#5880c2" opacity="0.7"/>
<rect x="109.22" y="111.51" width="0.9" height="0.9" fill="#5880c2" opacity="0.7"/>
<rect x="107.28" y="100.75" width="0.9" height="0.9" fill="#6aa4c0" opacity="0.7"/>
<rect x="24.65" y="71.12" width="0.9" height="0.9" fill="#5880c2" opacity="0.7"/>
<rect x="84.79" y="51.14" width="0.9" height="0.9" fill="#5880c2" opacity="0.7"/>
<rect x="100.6" y="91.19" width="0.9" height="0.9" fill="#5880c2" opacity="0.7"/>
<rect x="113.29" y="77.59" width="0.9" height="0.9" fill="#6aa4c0" opacity="0.7"/>
<rect x="123.46" y="76.58" width="0.9" height="0.9" fill="#5880c2" opacity="0.7"/>
<rect x="82.14" y="72.72" width="0.9" height="0.9" fill="#f6a26c" opacity="0.7"/>
<rect x="74.88" y="85.04" width="0.9" height="0.9" fill="#6aa4c0" opacity="0.7"/>
<rect x="129.83" y="99.54" width="0.9" height="0.9" fill="#6aa4c0" opacity="0.7"/>
<rect x="79.21" y="54.74" width="0.9" height="0.9" fill="#6aa4c0" opacity="0.7"/>
<rect x="123.95" y="119.4" width="0.9" height="0.9" fill="#5880c2" opacity="0.7"/>
<rect x="83.65" y="70.23" width="0.9" height="0.9" fill="#8e5a7c" opacity="0.7"/>
<rect x="21.47" y="84.6" width="0.9" height="0.9" fill="#f1e3a0" opacity="0.7"/>
<rect x="101.84" y="103.7" width="0.9" height="0.9" fill="#c8b7ea" opacity="0.7"/>
<rect x="22.67" y="88.26" width="0.9" height="0.9" fill="#6aa4c0" opacity="0.7"/>
<rect x="32.96" y="119.42" width="0.9" height="0.9" fill="#c8b7ea" opacity="0.7"/>
<rect x="67.93" y="72.09" width="0.9" height="0.9" fill="#c8b7ea" opacity="0.7"/>
<rect x="125.11" y="118.44" width="0.9" height="0.9" fill="#f1e3a0" opacity="0.7"/>
<rect x="127.67" y="93.98" width="0.9" height="0.9" fill="#959cca" opacity="0.7"/>
<rect x="69.86" y="92.82" width="0.9" height="0.9" fill="#5880c2" opacity="0.7"/>
<rect x="105.89" y="105.89" width="0.9" height="0.9" fill="#959cca" opacity="0.7"/>
<rect x="24.3" y="80.79" width="0.9" height="0.9" fill="#f6a26c" opacity="0.7"/>
<rect x="50.63" y="130.28" width="0.9" height="0.9" fill="#6aa4c0" opacity="0.7"/>
<rect x="28.84" y="83.12" width="0.9" height="0.9" fill="#959cca" opacity="0.7"/>
<rect x="27.48" y="125.05" width="0.9" height="0.9" fill="#5880c2" opacity="0.7"/>
<rect x="81.73" y="95.85" width="0.9" height="0.9" fill="#5880c2" opacity="0.7"/>
<rect x="107.35" y="77.61" width="0.9" height="0.9" fill="#5880c2" opacity="0.7"/>
<rect x="94.25" y="84.37" width="0.9" height="0.9" fill="#f1e3a0" opacity="0.7"/>
<rect x="128.68" y="93.34" width="0.9" height="0.9" fill="#f6a26c" opacity="0.7"/>
<rect x="111.11" y="76.44" width="0.9" height="0.9" fill="#c8b7ea" opacity="0.7"/>
<rect x="89.73" y="90.96" width="0.9" height="0.9" fill="#f1e3a0" opacity="0.7"/>
<rect x="113.74" y="80.94" width="0.9" height="0.9" fill="#959cca" opacity="0.7"/>
<rect x="94.39" y="107.63" width="0.9" height="0.9" fill="#5880c2" opacity="0.7"/>
<rect x="59.65" y="77.42" width="0.9" height="0.9" fill="#6aa4c0" opacity="0.7"/>
<rect x="58.08" y="74.68" width="0.9" height="0.9" fill="#f6a26c" opacity="0.7"/>
<rect x="66.42" y="79.31" width="0.9" height="0.9" fill="#f6a26c" opacity="0.7"/>
<rect x="92.82" y="95.48" width="0.9" height="0.9" fill="#c8b7ea" opacity="0.7"/>
<rect x="84.6" y="98.61" width="0.9" height="0.9" fill="#6aa4c0" opacity="0.7"/>
<rect x="61.92" y="80.09" width="0.9" height="0.9" fill="#f6a26c" opacity="0.7"/>
<rect x="81.98" y="88.75" width="0.9" height="0.9" fill="#f6a26c" opacity="0.7"/>
<rect x="67.53" y="67.08" width="0.9" height="0.9" fill="#c8b7ea" opacity="0.7"/>
<rect x="63.43" y="75.32" width="0.9" height="0.9" fill="#c8b7ea" opacity="0.7"/>
<rect x="58.71" y="115.61" width="0.9" height="0.9" fill="#f6a26c" opacity="0.7"/>
<rect x="114.17" y="88.2" width="0.9" height="0.9" fill="#5880c2" opacity="0.7"/>
<rect x="63.62" y="62.94" width="0.9" height="0.9" fill="#8e5a7c" opacity="0.7"/>
<rect x="128.76" y="78.52" width="0.9" height="0.9" fill="#c8b7ea" opacity="0.7"/>
<rect x="47.09" y="130.06" width="0.9" height="0.9" fill="#959cca" opacity="0.7"/>
<rect x="134.32" y="81.4" width="0.9" height="0.9" fill="#f1e3a0" opacity="0.7"/>
<rect x="124.57" y="79.19" width="0.9" height="0.9" fill="#f1e3a0" opacity="0.7"/>
<rect x="88.52" y="45.19" width="0.9" height="0.9" fill="#5880c2" opacity="0.7"/>
<rect x="78.73" y="94.52" width="0.9" height="0.9" fill="#5880c2" opacity="0.7"/>
<rect x="74.05" y="85.3" width="0.9" height="0.9" fill="#5880c2" opacity="0.7"/>
<rect x="98.37" y="109.44" width="0.9" height="0.9" fill="#f6a26c" opacity="0.7"/>
<rect x="67.24" y="67.36" width="0.9" height="0.9" fill="#5880c2" opacity="0.7"/>
<rect x="72.7" y="97.49" width="0.9" height="0.9" fill="#c8b7ea" opacity="0.7"/>
<rect x="32.77" y="90.79" width="0.9" height="0.9" fill="#f1e3a0" opacity="0.7"/>
<rect x="65.6" y="61.91" width="0.9" height="0.9" fill="#f6a26c" opacity="0.7"/>
<rect x="92.04" y="107.49" width="0.9" height="0.9" fill="#f1e3a0" opacity="0.7"/>
<rect x="97.69" y="94.73" width="0.9" height="0.9" fill="#c8b7ea" opacity="0.7"/>
<rect x="105.33" y="89.98" width="0.9" height="0.9" fill="#6aa4c0" opacity="0.7"/>
<rect x="131.29" y="118.69" width="0.9" height="0.9" fill="#959cca" opacity="0.7"/>
<rect x="57.89" y="121.86" width="0.9" height="0.9" fill="#f6a26c" opacity="0.7"/>
<rect x="93.34" y="73.81" width="0.9" height="0.9" fill="#c5dfa6" opacity="0.7"/>
<rect x="59.61" y="67.89" width="0.9" height="0.9" fill="#c8b7ea" opacity="0.7"/>
<rect x="25.24" y="92.74" width="0.9" height="0.9" fill="#f6a26c" opacity="0.7"/>
<rect x="103" y="78.11" width="0.9" height="0.9" fill="#f6a26c" opacity="0.7"/>
<rect x="64.76" y="121.98" width="0.9" height="0.9" fill="#5880c2" opacity="0.7"/>
<rect x="105.36" y="86.12" width="0.9" height="0.9" fill="#6aa4c0" opacity="0.7"/>
<rect x="104.58" y="57.64" width="0.9" height="0.9" fill="#c5dfa6" opacity="0.7"/>
<rect x="43.99" y="126.42" width="0.9" height="0.9" fill="#6aa4c0" opacity="0.7"/>
<rect x="116.11" y="58.83" width="0.9" height="0.9" fill="#f6a26c" opacity="0.7"/>
<rect x="61.57" y="42.75" width="0.9" height="0.9" fill="#8e5a7c" opacity="0.7"/>
<rect x="29.08" y="87.18" width="0.9" height="0.9" fill="#f6a26c" opacity="0.7"/>
<rect x="119.86" y="64.81" width="0.9" height="0.9" fill="#8e5a7c" opacity="0.7"/>
<rect x="22.16" y="78.58" width="0.9" height="0.9" fill="#6aa4c0" opacity="0.7"/>
<rect x="72.26" y="115.28" width="0.9" height="0.9" fill="#959cca" opacity="0.7"/>
<rect x="96.79" y="45.71" width="0.9" height="0.9" fill="#f6a26c" opacity="0.7"/>
<rect x="81.77" y="77.97" width="0.9" height="0.9" fill="#8e5a7c" opacity="0.7"/>
<rect x="110.46" y="44.71" width="0.9" height="0.9" fill="#f6a26c" opacity="0.7"/>
<rect x="88.93" y="106.61" width="0.9" height="0.9" fill="#c8b7ea" opacity="0.7"/>
<rect x="73.03" y="63.15" width="0.9" height="0.9" fill="#f6a26c" opacity="0.7"/>
<rect x="38.21" y="80.61" width="0.9" height="0.9" fill="#c8b7ea" opacity="0.7"/>
<rect x="94.42" y="80.88" width="0.9" height="0.9" fill="#f6a26c" opacity="0.7"/>
<rect x="66.64" y="97.1" width="0.9" height="0.9" fill="#6aa4c0" opacity="0.7"/>
<rect x="112.62" y="79.37" width="0.9" height="0.9" fill="#f6a26c" opacity="0.7"/>
<rect x="22.48" y="74.68" width="0.9" height="0.9" fill="#5880c2" opacity="0.7"/>
<rect x="88.52" y="58.38" width="0.9" height="0.9" fill="#8e5a7c" opacity="0.7"/>
<rect x="131.78" y="95.6" width="0.9" height="0.9" fill="#5880c2" opacity="0.7"/>
<rect x="71.27" y="36.62" width="0.9" height="0.9" fill="#8e5a7c" opacity="0.7"/>
<rect x="63.41" y="95.56" width="0.9" height="0.9" fill="#c8b7ea" opacity="0.7"/>
<rect x="74.59" y="68.47" width="0.9" height="0.9" fill="#959cca" opacity="0.7"/>
<rect x="101.15" y="62.33" width="0.9" height="0.9" fill="#8e5a7c" opacity="0.7"/>
<rect x="126.11" y="124.77" width="0.9" height="0.9" fill="#f6a26c" opacity="0.7"/>
<rect x="111.37" y="40.88" width="0.9" height="0.9" fill="#8e5a7c" opacity="0.7"/>
</g>
<circle cx="153.7" cy="37.1" r="2.45" fill="#68a4c0"/>
<text transform="translate(160.3 39.7) scale(1 1.1)" font-size="7.3" fill="#333333">CD8–GZMK</text>
<circle cx="153.7" cy="46.57" r="2.45" fill="#959cca"/>
<text transform="translate(160.3 49.17) scale(1 1.1)" font-size="7.3" fill="#333333">CD4–Foxp3</text>
<circle cx="153.7" cy="56.04" r="2.45" fill="#c5dfa6"/>
<text transform="translate(160.3 58.64) scale(1 1.1)" font-size="7.3" fill="#333333">CD4–CCR7</text>
<circle cx="153.7" cy="65.51" r="2.45" fill="#c8b7ea"/>
<text transform="translate(160.3 68.11) scale(1 1.1)" font-size="7.3" fill="#333333">Uncharacterized</text>
<circle cx="153.7" cy="74.98" r="2.45" fill="#8e5a7c"/>
<text transform="translate(160.3 77.58) scale(1 1.1)" font-size="7.3" fill="#333333">CD8–XCL1</text>
<circle cx="153.7" cy="84.45" r="2.45" fill="#9bb3dd"/>
<text transform="translate(160.3 87.05) scale(1 1.1)" font-size="7.3" fill="#333333">CD8–CX3CR1</text>
<circle cx="153.7" cy="93.92" r="2.45" fill="#5880c2"/>
<text transform="translate(160.3 96.52) scale(1 1.1)" font-size="7.3" fill="#333333">CD8–PDCD1</text>
<circle cx="153.7" cy="103.39" r="2.45" fill="#f1e3a0"/>
<text transform="translate(160.3 105.99) scale(1 1.1)" font-size="7.3" fill="#333333">CD4–RORA</text>
<circle cx="153.7" cy="112.86" r="2.45" fill="#e47a5b"/>
<text transform="translate(160.3 115.46) scale(1 1.1)" font-size="7.3" fill="#333333">NKT</text>
<circle cx="153.7" cy="122.33" r="2.45" fill="#ee96a6"/>
<text transform="translate(160.3 124.93) scale(1 1.1)" font-size="7.3" fill="#333333">CD4–CXCL13</text>
<circle cx="153.7" cy="131.8" r="2.45" fill="#f6a26c"/>
<text transform="translate(160.3 134.4) scale(1 1.1)" font-size="7.3" fill="#333333">CD8–ISG15</text>
<circle cx="153.7" cy="141.27" r="2.45" fill="#f4ca7e"/>
<text transform="translate(160.3 143.87) scale(1 1.1)" font-size="7.3" fill="#333333">CD8–MKI67</text>
<line x1="8.5" y1="169.4" x2="8.5" y2="140.5" stroke="#000" stroke-width="1"/>
<line x1="8.5" y1="169.4" x2="38.5" y2="169.4" stroke="#000" stroke-width="1"/>
<path d="M8.5 136.8 L6.3 141.6 L10.7 141.6Z" fill="#000"/>
<path d="M41.6 169.4 L36.8 167.2 L36.8 171.6Z" fill="#000"/>
<text transform="translate(5.4 156.3) rotate(-90) scale(1 1.1)" font-size="5.6" text-anchor="middle" fill="#333333">UMAP_2</text>
<text transform="translate(10 176.8) scale(1 1.1)" font-size="5.6" fill="#333333">UMAP_1</text>
<text transform="translate(14 163) scale(1 1.1)" font-size="5.8" fill="#333333"><tspan font-style="italic">N</tspan> = 45,011</text>
<text transform="translate(227.6 9.8)" font-size="14" font-weight="bold">b</text>
<rect x="241.3" y="40" width="15.27" height="15.28" fill="#cddcec" stroke="#a8adb6" stroke-width="0.8"/>
<rect x="256.57" y="40" width="15.27" height="15.28" fill="#faf8f8" stroke="#a8adb6" stroke-width="0.8"/>
<rect x="271.84" y="40" width="15.27" height="15.28" fill="#cddcec" stroke="#a8adb6" stroke-width="0.8"/>
<rect x="287.11" y="40" width="15.27" height="15.28" fill="#d3e0ee" stroke="#a8adb6" stroke-width="0.8"/>
<rect x="302.38" y="40" width="15.27" height="15.28" fill="#f7f7f9" stroke="#a8adb6" stroke-width="0.8"/>
<rect x="317.65" y="40" width="15.27" height="15.28" fill="#dce6f1" stroke="#a8adb6" stroke-width="0.8"/>
<rect x="241.3" y="55.28" width="15.27" height="15.28" fill="#d3e0ee" stroke="#a8adb6" stroke-width="0.8"/>
<rect x="256.57" y="55.28" width="15.27" height="15.28" fill="#b7cde6" stroke="#a8adb6" stroke-width="0.8"/>
<rect x="271.84" y="55.28" width="15.27" height="15.28" fill="#ccdaeb" stroke="#a8adb6" stroke-width="0.8"/>
<rect x="287.11" y="55.28" width="15.27" height="15.28" fill="#d8e3ef" stroke="#a8adb6" stroke-width="0.8"/>
<rect x="302.38" y="55.28" width="15.27" height="15.28" fill="#dae3f0" stroke="#a8adb6" stroke-width="0.8"/>
<rect x="317.65" y="55.28" width="15.27" height="15.28" fill="#c5d6ea" stroke="#a8adb6" stroke-width="0.8"/>
<rect x="241.3" y="70.56" width="15.27" height="15.28" fill="#ccdaeb" stroke="#a8adb6" stroke-width="0.8"/>
<rect x="256.57" y="70.56" width="15.27" height="15.28" fill="#d3e0ee" stroke="#a8adb6" stroke-width="0.8"/>
<rect x="271.84" y="70.56" width="15.27" height="15.28" fill="#f8f8f9" stroke="#a8adb6" stroke-width="0.8"/>
<rect x="287.11" y="70.56" width="15.27" height="15.28" fill="#b8cee6" stroke="#a8adb6" stroke-width="0.8"/>
<rect x="302.38" y="70.56" width="15.27" height="15.28" fill="#aec8e5" stroke="#a8adb6" stroke-width="0.8"/>
<rect x="317.65" y="70.56" width="15.27" height="15.28" fill="#c5d6ea" stroke="#a8adb6" stroke-width="0.8"/>
<rect x="241.3" y="85.84" width="15.27" height="15.28" fill="#e59690" stroke="#a8adb6" stroke-width="0.8"/>
<rect x="256.57" y="85.84" width="15.27" height="15.28" fill="#dc6f66" stroke="#a8adb6" stroke-width="0.8"/>
<rect x="271.84" y="85.84" width="15.27" height="15.28" fill="#dc6f66" stroke="#a8adb6" stroke-width="0.8"/>
<rect x="287.11" y="85.84" width="15.27" height="15.28" fill="#df7a72" stroke="#a8adb6" stroke-width="0.8"/>
<rect x="302.38" y="85.84" width="15.27" height="15.28" fill="#da675e" stroke="#a8adb6" stroke-width="0.8"/>
<rect x="317.65" y="85.84" width="15.27" height="15.28" fill="#dd756c" stroke="#a8adb6" stroke-width="0.8"/>
<rect x="241.3" y="101.12" width="15.27" height="15.28" fill="#e9eff6" stroke="#a8adb6" stroke-width="0.8"/>
<rect x="256.57" y="101.12" width="15.27" height="15.28" fill="#dce6f1" stroke="#a8adb6" stroke-width="0.8"/>
<rect x="271.84" y="101.12" width="15.27" height="15.28" fill="#d2deed" stroke="#a8adb6" stroke-width="0.8"/>
<rect x="287.11" y="101.12" width="15.27" height="15.28" fill="#f5e6e6" stroke="#a8adb6" stroke-width="0.8"/>
<rect x="302.38" y="101.12" width="15.27" height="15.28" fill="#f5f6f9" stroke="#a8adb6" stroke-width="0.8"/>
<rect x="317.65" y="101.12" width="15.27" height="15.28" fill="#f6eeee" stroke="#a8adb6" stroke-width="0.8"/>
<rect x="241.3" y="116.4" width="15.27" height="15.28" fill="#ecadab" stroke="#a8adb6" stroke-width="0.8"/>
<rect x="256.57" y="116.4" width="15.27" height="15.28" fill="#f5dede" stroke="#a8adb6" stroke-width="0.8"/>
<rect x="271.84" y="116.4" width="15.27" height="15.28" fill="#f2cccc" stroke="#a8adb6" stroke-width="0.8"/>
<rect x="287.11" y="116.4" width="15.27" height="15.28" fill="#f4dcdc" stroke="#a8adb6" stroke-width="0.8"/>
<rect x="302.38" y="116.4" width="15.27" height="15.28" fill="#f4dede" stroke="#a8adb6" stroke-width="0.8"/>
<rect x="317.65" y="116.4" width="15.27" height="15.28" fill="#f4e2e2" stroke="#a8adb6" stroke-width="0.8"/>
<rect x="241.3" y="40" width="91.62" height="91.68" fill="none" stroke="#a8adb6" stroke-width="1"/>
<text transform="translate(253.24 139.7) rotate(-45) scale(1 1.1)" font-size="7.6" text-anchor="end" fill="#333333">ENTPD1</text>
<text transform="translate(268.51 139.7) rotate(-45) scale(1 1.1)" font-size="7.6" text-anchor="end" fill="#333333">TOX</text>
<text transform="translate(283.78 139.7) rotate(-45) scale(1 1.1)" font-size="7.6" text-anchor="end" fill="#333333">HAVCR2</text>
<text transform="translate(299.05 139.7) rotate(-45) scale(1 1.1)" font-size="7.6" text-anchor="end" fill="#333333">LAG3</text>
<text transform="translate(314.31 139.7) rotate(-45) scale(1 1.1)" font-size="7.6" text-anchor="end" fill="#333333">PDCD1</text>
<text transform="translate(329.59 139.7) rotate(-45) scale(1 1.1)" font-size="7.6" text-anchor="end" fill="#333333">TIGIT</text>
<rect x="335.6" y="40" width="15.27" height="15.28" fill="#d9675c" stroke="#a8adb6" stroke-width="0.8"/>
<rect x="350.87" y="40" width="15.27" height="15.28" fill="#f2c6c6" stroke="#a8adb6" stroke-width="0.8"/>
<rect x="366.14" y="40" width="15.27" height="15.28" fill="#eef2f8" stroke="#a8adb6" stroke-width="0.8"/>
<rect x="381.41" y="40" width="15.27" height="15.28" fill="#ccdcec" stroke="#a8adb6" stroke-width="0.8"/>
<rect x="396.68" y="40" width="15.27" height="15.28" fill="#bcd0e8" stroke="#a8adb6" stroke-width="0.8"/>
<rect x="411.95" y="40" width="15.27" height="15.28" fill="#b5cbe6" stroke="#a8adb6" stroke-width="0.8"/>
<rect x="427.22" y="40" width="15.27" height="15.28" fill="#f5e1e1" stroke="#a8adb6" stroke-width="0.8"/>
<rect x="335.6" y="55.28" width="15.27" height="15.28" fill="#fbfbfc" stroke="#a8adb6" stroke-width="0.8"/>
<rect x="350.87" y="55.28" width="15.27" height="15.28" fill="#e6edf6" stroke="#a8adb6" stroke-width="0.8"/>
<rect x="366.14" y="55.28" width="15.27" height="15.28" fill="#dee5f1" stroke="#a8adb6" stroke-width="0.8"/>
<rect x="381.41" y="55.28" width="15.27" height="15.28" fill="#e7edf6" stroke="#a8adb6" stroke-width="0.8"/>
<rect x="396.68" y="55.28" width="15.27" height="15.28" fill="#dfe6f1" stroke="#a8adb6" stroke-width="0.8"/>
<rect x="411.95" y="55.28" width="15.27" height="15.28" fill="#e8edf5" stroke="#a8adb6" stroke-width="0.8"/>
<rect x="427.22" y="55.28" width="15.27" height="15.28" fill="#d5e1ef" stroke="#a8adb6" stroke-width="0.8"/>
<rect x="335.6" y="70.56" width="15.27" height="15.28" fill="#cddcec" stroke="#a8adb6" stroke-width="0.8"/>
<rect x="350.87" y="70.56" width="15.27" height="15.28" fill="#de7468" stroke="#a8adb6" stroke-width="0.8"/>
<rect x="366.14" y="70.56" width="15.27" height="15.28" fill="#d35d50" stroke="#a8adb6" stroke-width="0.8"/>
<rect x="381.41" y="70.56" width="15.27" height="15.28" fill="#d9675c" stroke="#a8adb6" stroke-width="0.8"/>
<rect x="396.68" y="70.56" width="15.27" height="15.28" fill="#f6e5e5" stroke="#a8adb6" stroke-width="0.8"/>
<rect x="411.95" y="70.56" width="15.27" height="15.28" fill="#f1c0c0" stroke="#a8adb6" stroke-width="0.8"/>
<rect x="427.22" y="70.56" width="15.27" height="15.28" fill="#f3f5fa" stroke="#a8adb6" stroke-width="0.8"/>
<rect x="335.6" y="85.84" width="15.27" height="15.28" fill="#d0ddec" stroke="#a8adb6" stroke-width="0.8"/>
<rect x="350.87" y="85.84" width="15.27" height="15.28" fill="#d9e3ef" stroke="#a8adb6" stroke-width="0.8"/>
<rect x="366.14" y="85.84" width="15.27" height="15.28" fill="#fafafc" stroke="#a8adb6" stroke-width="0.8"/>
<rect x="381.41" y="85.84" width="15.27" height="15.28" fill="#faf7f6" stroke="#a8adb6" stroke-width="0.8"/>
<rect x="396.68" y="85.84" width="15.27" height="15.28" fill="#eeaaa8" stroke="#a8adb6" stroke-width="0.8"/>
<rect x="411.95" y="85.84" width="15.27" height="15.28" fill="#f3dada" stroke="#a8adb6" stroke-width="0.8"/>
<rect x="427.22" y="85.84" width="15.27" height="15.28" fill="#e38a84" stroke="#a8adb6" stroke-width="0.8"/>
<rect x="335.6" y="101.12" width="15.27" height="15.28" fill="#f6e4e4" stroke="#a8adb6" stroke-width="0.8"/>
<rect x="350.87" y="101.12" width="15.27" height="15.28" fill="#e1e8f3" stroke="#a8adb6" stroke-width="0.8"/>
<rect x="366.14" y="101.12" width="15.27" height="15.28" fill="#c9d9eb" stroke="#a8adb6" stroke-width="0.8"/>
<rect x="381.41" y="101.12" width="15.27" height="15.28" fill="#d1deed" stroke="#a8adb6" stroke-width="0.8"/>
<rect x="396.68" y="101.12" width="15.27" height="15.28" fill="#bcd0e8" stroke="#a8adb6" stroke-width="0.8"/>
<rect x="411.95" y="101.12" width="15.27" height="15.28" fill="#b8cde6" stroke="#a8adb6" stroke-width="0.8"/>
<rect x="427.22" y="101.12" width="15.27" height="15.28" fill="#a5c2e2" stroke="#a8adb6" stroke-width="0.8"/>
<rect x="335.6" y="116.4" width="15.27" height="15.28" fill="#dde5f0" stroke="#a8adb6" stroke-width="0.8"/>
<rect x="350.87" y="116.4" width="15.27" height="15.28" fill="#c9d9ec" stroke="#a8adb6" stroke-width="0.8"/>
<rect x="366.14" y="116.4" width="15.27" height="15.28" fill="#f8f8f9" stroke="#a8adb6" stroke-width="0.8"/>
<rect x="381.41" y="116.4" width="15.27" height="15.28" fill="#fbfcfe" stroke="#a8adb6" stroke-width="0.8"/>
<rect x="396.68" y="116.4" width="15.27" height="15.28" fill="#eeaaa8" stroke="#a8adb6" stroke-width="0.8"/>
<rect x="411.95" y="116.4" width="15.27" height="15.28" fill="#eca5a2" stroke="#a8adb6" stroke-width="0.8"/>
<rect x="427.22" y="116.4" width="15.27" height="15.28" fill="#f4dfdf" stroke="#a8adb6" stroke-width="0.8"/>
<rect x="335.6" y="40" width="106.89" height="91.68" fill="none" stroke="#a8adb6" stroke-width="1"/>
<text transform="translate(347.54 139.7) rotate(-45) scale(1 1.1)" font-size="7.6" text-anchor="end" fill="#333333">GZMK</text>
<text transform="translate(362.81 139.7) rotate(-45) scale(1 1.1)" font-size="7.6" text-anchor="end" fill="#333333">CST7</text>
<text transform="translate(378.08 139.7) rotate(-45) scale(1 1.1)" font-size="7.6" text-anchor="end" fill="#333333">NKG7</text>
<text transform="translate(393.35 139.7) rotate(-45) scale(1 1.1)" font-size="7.6" text-anchor="end" fill="#333333">PRF1</text>
<text transform="translate(408.62 139.7) rotate(-45) scale(1 1.1)" font-size="7.6" text-anchor="end" fill="#333333">GZMB</text>
<text transform="translate(423.89 139.7) rotate(-45) scale(1 1.1)" font-size="7.6" text-anchor="end" fill="#333333">GNLY</text>
<text transform="translate(439.16 139.7) rotate(-45) scale(1 1.1)" font-size="7.6" text-anchor="end" fill="#333333">IFNG</text>
<rect x="445.1" y="40" width="15.27" height="15.28" fill="#dde6f1" stroke="#a8adb6" stroke-width="0.8"/>
<rect x="460.37" y="40" width="15.27" height="15.28" fill="#fefefe" stroke="#a8adb6" stroke-width="0.8"/>
<rect x="475.64" y="40" width="15.27" height="15.28" fill="#eeaaa8" stroke="#a8adb6" stroke-width="0.8"/>
<rect x="490.91" y="40" width="15.27" height="15.28" fill="#f6f7fb" stroke="#a8adb6" stroke-width="0.8"/>
<rect x="506.18" y="40" width="15.27" height="15.28" fill="#f5e3e3" stroke="#a8adb6" stroke-width="0.8"/>
<rect x="521.45" y="40" width="15.27" height="15.28" fill="#dfe7f1" stroke="#a8adb6" stroke-width="0.8"/>
<rect x="536.72" y="40" width="15.27" height="15.28" fill="#eeaaa8" stroke="#a8adb6" stroke-width="0.8"/>
<rect x="445.1" y="55.28" width="15.27" height="15.28" fill="#d55f53" stroke="#a8adb6" stroke-width="0.8"/>
<rect x="460.37" y="55.28" width="15.27" height="15.28" fill="#efb0ae" stroke="#a8adb6" stroke-width="0.8"/>
<rect x="475.64" y="55.28" width="15.27" height="15.28" fill="#f1bebe" stroke="#a8adb6" stroke-width="0.8"/>
<rect x="490.91" y="55.28" width="15.27" height="15.28" fill="#e8958f" stroke="#a8adb6" stroke-width="0.8"/>
<rect x="506.18" y="55.28" width="15.27" height="15.28" fill="#fdfdfb" stroke="#a8adb6" stroke-width="0.8"/>
<rect x="521.45" y="55.28" width="15.27" height="15.28" fill="#f5e3e3" stroke="#a8adb6" stroke-width="0.8"/>
<rect x="536.72" y="55.28" width="15.27" height="15.28" fill="#e8eef6" stroke="#a8adb6" stroke-width="0.8"/>
<rect x="445.1" y="70.56" width="15.27" height="15.28" fill="#dbe4f0" stroke="#a8adb6" stroke-width="0.8"/>
<rect x="460.37" y="70.56" width="15.27" height="15.28" fill="#eda6a2" stroke="#a8adb6" stroke-width="0.8"/>
<rect x="475.64" y="70.56" width="15.27" height="15.28" fill="#d3e0ed" stroke="#a8adb6" stroke-width="0.8"/>
<rect x="490.91" y="70.56" width="15.27" height="15.28" fill="#dce4f0" stroke="#a8adb6" stroke-width="0.8"/>
<rect x="506.18" y="70.56" width="15.27" height="15.28" fill="#c8d8ea" stroke="#a8adb6" stroke-width="0.8"/>
<rect x="521.45" y="70.56" width="15.27" height="15.28" fill="#e7edf6" stroke="#a8adb6" stroke-width="0.8"/>
<rect x="536.72" y="70.56" width="15.27" height="15.28" fill="#f5dfdf" stroke="#a8adb6" stroke-width="0.8"/>
<rect x="445.1" y="85.84" width="15.27" height="15.28" fill="#e6edf6" stroke="#a8adb6" stroke-width="0.8"/>
<rect x="460.37" y="85.84" width="15.27" height="15.28" fill="#b3cbe5" stroke="#a8adb6" stroke-width="0.8"/>
<rect x="475.64" y="85.84" width="15.27" height="15.28" fill="#b7cde6" stroke="#a8adb6" stroke-width="0.8"/>
<rect x="490.91" y="85.84" width="15.27" height="15.28" fill="#cad9ea" stroke="#a8adb6" stroke-width="0.8"/>
<rect x="506.18" y="85.84" width="15.27" height="15.28" fill="#d1deed" stroke="#a8adb6" stroke-width="0.8"/>
<rect x="521.45" y="85.84" width="15.27" height="15.28" fill="#cfdcec" stroke="#a8adb6" stroke-width="0.8"/>
<rect x="536.72" y="85.84" width="15.27" height="15.28" fill="#edf0f6" stroke="#a8adb6" stroke-width="0.8"/>
<rect x="445.1" y="101.12" width="15.27" height="15.28" fill="#d3dfed" stroke="#a8adb6" stroke-width="0.8"/>
<rect x="460.37" y="101.12" width="15.27" height="15.28" fill="#b5cbe5" stroke="#a8adb6" stroke-width="0.8"/>
<rect x="475.64" y="101.12" width="15.27" height="15.28" fill="#f3d2d2" stroke="#a8adb6" stroke-width="0.8"/>
<rect x="490.91" y="101.12" width="15.27" height="15.28" fill="#eeaaa8" stroke="#a8adb6" stroke-width="0.8"/>
<rect x="506.18" y="101.12" width="15.27" height="15.28" fill="#d96a5f" stroke="#a8adb6" stroke-width="0.8"/>
<rect x="521.45" y="101.12" width="15.27" height="15.28" fill="#d7685d" stroke="#a8adb6" stroke-width="0.8"/>
<rect x="536.72" y="101.12" width="15.27" height="15.28" fill="#f0bcbc" stroke="#a8adb6" stroke-width="0.8"/>
<rect x="445.1" y="116.4" width="15.27" height="15.28" fill="#f9f8f7" stroke="#a8adb6" stroke-width="0.8"/>
<rect x="460.37" y="116.4" width="15.27" height="15.28" fill="#f9f8f7" stroke="#a8adb6" stroke-width="0.8"/>
<rect x="475.64" y="116.4" width="15.27" height="15.28" fill="#ccdbec" stroke="#a8adb6" stroke-width="0.8"/>
<rect x="490.91" y="116.4" width="15.27" height="15.28" fill="#c2d5ea" stroke="#a8adb6" stroke-width="0.8"/>
<rect x="506.18" y="116.4" width="15.27" height="15.28" fill="#d8e2ef" stroke="#a8adb6" stroke-width="0.8"/>
<rect x="521.45" y="116.4" width="15.27" height="15.28" fill="#d8e2ef" stroke="#a8adb6" stroke-width="0.8"/>
<rect x="536.72" y="116.4" width="15.27" height="15.28" fill="#92b4dc" stroke="#a8adb6" stroke-width="0.8"/>
<rect x="445.1" y="40" width="106.89" height="91.68" fill="none" stroke="#a8adb6" stroke-width="1"/>
<text transform="translate(457.04 139.7) rotate(-45) scale(1 1.1)" font-size="7.6" text-anchor="end" fill="#333333">XCL1</text>
<text transform="translate(472.31 139.7) rotate(-45) scale(1 1.1)" font-size="7.6" text-anchor="end" fill="#333333">XCL2</text>
<text transform="translate(487.58 139.7) rotate(-45) scale(1 1.1)" font-size="7.6" text-anchor="end" fill="#333333">TCF7</text>
<text transform="translate(502.85 139.7) rotate(-45) scale(1 1.1)" font-size="7.6" text-anchor="end" fill="#333333">IL7R</text>
<text transform="translate(518.12 139.7) rotate(-45) scale(1 1.1)" font-size="7.6" text-anchor="end" fill="#333333">CCR7</text>
<text transform="translate(533.38 139.7) rotate(-45) scale(1 1.1)" font-size="7.6" text-anchor="end" fill="#333333">LEF1</text>
<text transform="translate(548.65 139.7) rotate(-45) scale(1 1.1)" font-size="7.6" text-anchor="end" fill="#333333">SLAMF6</text>
<rect x="554.5" y="40" width="15.27" height="15.28" fill="#e2e9f3" stroke="#a8adb6" stroke-width="0.8"/>
<rect x="569.77" y="40" width="15.27" height="15.28" fill="#e4eaf3" stroke="#a8adb6" stroke-width="0.8"/>
<rect x="585.04" y="40" width="15.27" height="15.28" fill="#e6ebf3" stroke="#a8adb6" stroke-width="0.8"/>
<rect x="554.5" y="55.28" width="15.27" height="15.28" fill="#dde5f0" stroke="#a8adb6" stroke-width="0.8"/>
<rect x="569.77" y="55.28" width="15.27" height="15.28" fill="#e0e7f1" stroke="#a8adb6" stroke-width="0.8"/>
<rect x="585.04" y="55.28" width="15.27" height="15.28" fill="#e3e9f2" stroke="#a8adb6" stroke-width="0.8"/>
<rect x="554.5" y="70.56" width="15.27" height="15.28" fill="#e0e7f1" stroke="#a8adb6" stroke-width="0.8"/>
<rect x="569.77" y="70.56" width="15.27" height="15.28" fill="#e3e9f2" stroke="#a8adb6" stroke-width="0.8"/>
<rect x="585.04" y="70.56" width="15.27" height="15.28" fill="#dfe6f1" stroke="#a8adb6" stroke-width="0.8"/>
<rect x="554.5" y="85.84" width="15.27" height="15.28" fill="#eceff6" stroke="#a8adb6" stroke-width="0.8"/>
<rect x="569.77" y="85.84" width="15.27" height="15.28" fill="#eef1f7" stroke="#a8adb6" stroke-width="0.8"/>
<rect x="585.04" y="85.84" width="15.27" height="15.28" fill="#e6ebf3" stroke="#a8adb6" stroke-width="0.8"/>
<rect x="554.5" y="101.12" width="15.27" height="15.28" fill="#e2e8f2" stroke="#a8adb6" stroke-width="0.8"/>
<rect x="569.77" y="101.12" width="15.27" height="15.28" fill="#e5eaf3" stroke="#a8adb6" stroke-width="0.8"/>
<rect x="585.04" y="101.12" width="15.27" height="15.28" fill="#e3e9f2" stroke="#a8adb6" stroke-width="0.8"/>
<rect x="554.5" y="116.4" width="15.27" height="15.28" fill="#d35f52" stroke="#a8adb6" stroke-width="0.8"/>
<rect x="569.77" y="116.4" width="15.27" height="15.28" fill="#d35f52" stroke="#a8adb6" stroke-width="0.8"/>
<rect x="585.04" y="116.4" width="15.27" height="15.28" fill="#d35f52" stroke="#a8adb6" stroke-width="0.8"/>
<rect x="554.5" y="40" width="45.81" height="91.68" fill="none" stroke="#a8adb6" stroke-width="1"/>
<text transform="translate(566.43 139.7) rotate(-45) scale(1 1.1)" font-size="7.6" text-anchor="end" fill="#333333">MKI67</text>
<text transform="translate(581.7 139.7) rotate(-45) scale(1 1.1)" font-size="7.6" text-anchor="end" fill="#333333">STMN1</text>
<text transform="translate(596.97 139.7) rotate(-45) scale(1 1.1)" font-size="7.6" text-anchor="end" fill="#333333">TOP2A</text>
<text transform="translate(285.6 25.4) scale(1 1.1)" font-size="9" text-anchor="middle" font-weight="bold" fill="#333333">Exhaustion</text>
<text transform="translate(388.7 25.4) scale(1 1.1)" font-size="9" text-anchor="middle" font-weight="bold" fill="#333333">Effector</text>
<text transform="translate(498.7 19.6) scale(1 1.1)" font-size="9" text-anchor="middle" font-weight="bold" fill="#333333">Progenitor</text>
<text transform="translate(499.4 30) scale(1 1.1)" font-size="9" text-anchor="middle" font-weight="bold" fill="#333333">exhausted</text>
<text transform="translate(579 25.3) scale(1 1.1)" font-size="9" text-anchor="middle" font-weight="bold" fill="#333333">Proliferation</text>
<line x1="248.9" y1="33.2" x2="324.6" y2="33.2" stroke="#3a3a3a" stroke-width="0.9"/>
<line x1="343.3" y1="33.2" x2="434.8" y2="33.2" stroke="#3a3a3a" stroke-width="0.9"/>
<line x1="453.1" y1="33.2" x2="545.1" y2="33.2" stroke="#3a3a3a" stroke-width="0.9"/>
<line x1="558.2" y1="33.2" x2="596.3" y2="33.2" stroke="#8a8a8a" stroke-width="0.9"/>
<text transform="translate(604.6 50.34) scale(1 1.17)" font-size="7.4" fill="#333333">CD8–GZMK</text>
<text transform="translate(604.6 65.62) scale(1 1.17)" font-size="7.4" fill="#333333">CD8–XCL1</text>
<text transform="translate(604.6 80.9) scale(1 1.17)" font-size="7.4" fill="#333333">CD8–CX3CR1</text>
<text transform="translate(604.6 96.18) scale(1 1.17)" font-size="7.4" fill="#333333">CD8–PDCD1</text>
<text transform="translate(604.6 111.46) scale(1 1.17)" font-size="7.4" fill="#333333">CD8–ISG15</text>
<text transform="translate(604.6 126.74) scale(1 1.17)" font-size="7.4" fill="#333333">CD8–MKI67</text>
<defs><linearGradient id="rb" x1="0" y1="0" x2="0" y2="1"><stop offset="0" stop-color="#cf5a4d"/><stop offset="0.25" stop-color="#e9a3a0"/><stop offset="0.5" stop-color="#fdfbfb"/><stop offset="0.75" stop-color="#b9cde6"/><stop offset="1" stop-color="#6797c5"/></linearGradient></defs>
<rect x="665.5" y="40.2" width="7.5" height="110.2" fill="url(#rb)"/>
<text transform="translate(677 43.3) scale(1 1.1)" font-size="7.3" fill="#333333">2</text>
<text transform="translate(677 70) scale(1 1.1)" font-size="7.3" fill="#333333">1</text>
<text transform="translate(677 97.1) scale(1 1.1)" font-size="7.3" fill="#333333">0</text>
<text transform="translate(677 123.9) scale(1 1.1)" font-size="7.3" fill="#333333">−1</text>
<text transform="translate(677 151.4) scale(1 1.1)" font-size="7.3" fill="#333333">−2</text>
<text transform="translate(-0.6 200.3)" font-size="14" font-weight="bold">c</text>
<text transform="translate(27.7 198.9) scale(1 1.1)" font-size="7.3" fill="#333333">Ligand activity</text>
<text transform="translate(277.9 197.9) scale(1 1.1)" font-size="10.3" fill="#333333">Predicted target genes</text>
<rect x="58.4" y="235.75" width="11.7" height="11.51" fill="#f39c26"/>
<text transform="translate(54.2 243.66) scale(1 1.1)" font-size="6" text-anchor="end" fill="#e0383b">CD274</text>
<text transform="translate(94.8 243.66) scale(1 1.1)" font-size="6" text-anchor="end" fill="#333333">CD274</text>
<rect x="99.85" y="235.75" width="4.9" height="11.51" fill="#ebcdec"/>
<rect x="105.65" y="235.75" width="4.9" height="11.51" fill="#ebcdec"/>
<rect x="111.45" y="235.75" width="4.9" height="11.51" fill="#ebcdec"/>
<rect x="117.25" y="235.75" width="4.9" height="11.51" fill="#ebcdec"/>
<rect x="123.05" y="235.75" width="4.9" height="11.51" fill="#ebcdec"/>
<rect x="128.85" y="235.75" width="4.9" height="11.51" fill="#ebcdec"/>
<rect x="134.65" y="235.75" width="4.9" height="11.51" fill="#ebcdec"/>
<rect x="140.45" y="235.75" width="4.9" height="11.51" fill="#ebcdec"/>
<rect x="146.25" y="235.75" width="4.9" height="11.51" fill="#ebcdec"/>
<rect x="152.05" y="235.75" width="4.9" height="11.51" fill="#e9c3ea"/>
<rect x="157.85" y="235.75" width="4.9" height="11.51" fill="#f8f7fa"/>
<rect x="163.65" y="235.75" width="4.9" height="11.51" fill="#f8f7fa"/>
<rect x="169.45" y="235.75" width="4.9" height="11.51" fill="#ebcdec"/>
<rect x="175.25" y="235.75" width="4.9" height="11.51" fill="#f8f7fa"/>
<rect x="181.05" y="235.75" width="4.9" height="11.51" fill="#f8f7fa"/>
<rect x="186.85" y="235.75" width="4.9" height="11.51" fill="#f8f7fa"/>
<rect x="192.65" y="235.75" width="4.9" height="11.51" fill="#f8f7fa"/>
<rect x="198.45" y="235.75" width="4.9" height="11.51" fill="#ebcdec"/>
<rect x="204.25" y="235.75" width="4.9" height="11.51" fill="#f8f7fa"/>
<rect x="210.05" y="235.75" width="4.9" height="11.51" fill="#ebcdec"/>
<rect x="215.85" y="235.75" width="4.9" height="11.51" fill="#ebcdec"/>
<rect x="221.65" y="235.75" width="4.9" height="11.51" fill="#f8f7fa"/>
<rect x="227.45" y="235.75" width="4.9" height="11.51" fill="#f8f7fa"/>
<rect x="233.25" y="235.75" width="4.9" height="11.51" fill="#f8f7fa"/>
<rect x="239.05" y="235.75" width="4.9" height="11.51" fill="#ebcdec"/>
<rect x="244.85" y="235.75" width="4.9" height="11.51" fill="#f8f7fa"/>
<rect x="250.65" y="235.75" width="4.9" height="11.51" fill="#f8f7fa"/>
<rect x="256.45" y="235.75" width="4.9" height="11.51" fill="#f8f7fa"/>
<rect x="262.25" y="235.75" width="4.9" height="11.51" fill="#ebcdec"/>
<rect x="268.05" y="235.75" width="4.9" height="11.51" fill="#f8f7fa"/>
<rect x="273.85" y="235.75" width="4.9" height="11.51" fill="#f8f7fa"/>
<rect x="279.65" y="235.75" width="4.9" height="11.51" fill="#ebcdec"/>
<rect x="285.45" y="235.75" width="4.9" height="11.51" fill="#ebcdec"/>
<rect x="291.25" y="235.75" width="4.9" height="11.51" fill="#f8f7fa"/>
<rect x="297.05" y="235.75" width="4.9" height="11.51" fill="#ebcdec"/>
<rect x="302.85" y="235.75" width="4.9" height="11.51" fill="#f8f7fa"/>
<rect x="308.65" y="235.75" width="4.9" height="11.51" fill="#f8f7fa"/>
<rect x="314.45" y="235.75" width="4.9" height="11.51" fill="#f8f7fa"/>
<rect x="320.25" y="235.75" width="4.9" height="11.51" fill="#ebcdec"/>
<rect x="326.05" y="235.75" width="4.9" height="11.51" fill="#f8f7fa"/>
<rect x="331.85" y="235.75" width="4.9" height="11.51" fill="#f8f7fa"/>
<rect x="337.65" y="235.75" width="4.9" height="11.51" fill="#f8f7fa"/>
<rect x="343.45" y="235.75" width="4.9" height="11.51" fill="#f8f7fa"/>
<rect x="349.25" y="235.75" width="4.9" height="11.51" fill="#ebcdec"/>
<rect x="355.05" y="235.75" width="4.9" height="11.51" fill="#ebcdec"/>
<rect x="360.85" y="235.75" width="4.9" height="11.51" fill="#f8f7fa"/>
<rect x="366.65" y="235.75" width="4.9" height="11.51" fill="#f8f7fa"/>
<rect x="372.45" y="235.75" width="4.9" height="11.51" fill="#f8f7fa"/>
<rect x="378.25" y="235.75" width="4.9" height="11.51" fill="#f8f7fa"/>
<rect x="384.05" y="235.75" width="4.9" height="11.51" fill="#f8f7fa"/>
<rect x="389.85" y="235.75" width="4.9" height="11.51" fill="#f8f7fa"/>
<rect x="395.65" y="235.75" width="4.9" height="11.51" fill="#ebcdec"/>
<rect x="401.45" y="235.75" width="4.9" height="11.51" fill="#f8f7fa"/>
<rect x="407.25" y="235.75" width="4.9" height="11.51" fill="#f8f7fa"/>
<rect x="413.05" y="235.75" width="4.9" height="11.51" fill="#f8f7fa"/>
<rect x="418.85" y="235.75" width="4.9" height="11.51" fill="#ebcdec"/>
<rect x="424.65" y="235.75" width="4.9" height="11.51" fill="#ebcdec"/>
<rect x="430.45" y="235.75" width="4.9" height="11.51" fill="#ebcdec"/>
<rect x="436.25" y="235.75" width="4.9" height="11.51" fill="#ebcdec"/>
<rect x="442.05" y="235.75" width="4.9" height="11.51" fill="#f8f7fa"/>
<rect x="447.85" y="235.75" width="4.9" height="11.51" fill="#f8f7fa"/>
<rect x="453.65" y="235.75" width="4.9" height="11.51" fill="#ebcdec"/>
<rect x="459.45" y="235.75" width="4.9" height="11.51" fill="#f8f7fa"/>
<rect x="465.25" y="235.75" width="4.9" height="11.51" fill="#f8f7fa"/>
<rect x="471.05" y="235.75" width="4.9" height="11.51" fill="#ebcdec"/>
<rect x="476.85" y="235.75" width="4.9" height="11.51" fill="#f8f7fa"/>
<rect x="482.65" y="235.75" width="4.9" height="11.51" fill="#f8f7fa"/>
<rect x="488.45" y="235.75" width="4.9" height="11.51" fill="#f8f7fa"/>
<rect x="494.25" y="235.75" width="4.9" height="11.51" fill="#ebcdec"/>
<rect x="500.05" y="235.75" width="4.9" height="11.51" fill="#f8f7fa"/>
<rect x="505.85" y="235.75" width="4.9" height="11.51" fill="#f8f7fa"/>
<rect x="511.65" y="235.75" width="4.9" height="11.51" fill="#f8f7fa"/>
<rect x="517.45" y="235.75" width="4.9" height="11.51" fill="#f8f7fa"/>
<rect x="523.25" y="235.75" width="4.9" height="11.51" fill="#f8f7fa"/>
<rect x="529.05" y="235.75" width="4.9" height="11.51" fill="#ebcdec"/>
<rect x="534.85" y="235.75" width="4.9" height="11.51" fill="#f8f7fa"/>
<rect x="540.65" y="235.75" width="4.9" height="11.51" fill="#f8f7fa"/>
<rect x="546.45" y="235.75" width="4.9" height="11.51" fill="#f8f7fa"/>
<rect x="58.4" y="248.16" width="11.7" height="11.51" fill="#fbc58f"/>
<text transform="translate(54.2 256.06) scale(1 1.1)" font-size="6" text-anchor="end" fill="#333333">TNFSF9</text>
<text transform="translate(94.8 256.06) scale(1 1.1)" font-size="6" text-anchor="end" fill="#333333">TNFSF9</text>
<rect x="99.85" y="248.16" width="4.9" height="11.51" fill="#f1e5f3"/>
<rect x="105.65" y="248.16" width="4.9" height="11.51" fill="#ebcdec"/>
<rect x="111.45" y="248.16" width="4.9" height="11.51" fill="#ebcdec"/>
<rect x="117.25" y="248.16" width="4.9" height="11.51" fill="#f8f7fa"/>
<rect x="123.05" y="248.16" width="4.9" height="11.51" fill="#f8f7fa"/>
<rect x="128.85" y="248.16" width="4.9" height="11.51" fill="#f8f7fa"/>
<rect x="134.65" y="248.16" width="4.9" height="11.51" fill="#f8f7fa"/>
<rect x="140.45" y="248.16" width="4.9" height="11.51" fill="#f8f7fa"/>
<rect x="146.25" y="248.16" width="4.9" height="11.51" fill="#f8f7fa"/>
<rect x="152.05" y="248.16" width="4.9" height="11.51" fill="#f8f7fa"/>
<rect x="157.85" y="248.16" width="4.9" height="11.51" fill="#ebcdec"/>
<rect x="163.65" y="248.16" width="4.9" height="11.51" fill="#ebcdec"/>
<rect x="169.45" y="248.16" width="4.9" height="11.51" fill="#ebcdec"/>
<rect x="175.25" y="248.16" width="4.9" height="11.51" fill="#ebcdec"/>
<rect x="181.05" y="248.16" width="4.9" height="11.51" fill="#ebcdec"/>
<rect x="186.85" y="248.16" width="4.9" height="11.51" fill="#ebcdec"/>
<rect x="192.65" y="248.16" width="4.9" height="11.51" fill="#ebcdec"/>
<rect x="198.45" y="248.16" width="4.9" height="11.51" fill="#ebcdec"/>
<rect x="204.25" y="248.16" width="4.9" height="11.51" fill="#eedaf0"/>
<rect x="210.05" y="248.16" width="4.9" height="11.51" fill="#ebcdec"/>
<rect x="215.85" y="248.16" width="4.9" height="11.51" fill="#ebcdec"/>
<rect x="221.65" y="248.16" width="4.9" height="11.51" fill="#f8f7fa"/>
<rect x="227.45" y="248.16" width="4.9" height="11.51" fill="#ebcdec"/>
<rect x="233.25" y="248.16" width="4.9" height="11.51" fill="#ebcdec"/>
<rect x="239.05" y="248.16" width="4.9" height="11.51" fill="#f8f7fa"/>
<rect x="244.85" y="248.16" width="4.9" height="11.51" fill="#ebcdec"/>
<rect x="250.65" y="248.16" width="4.9" height="11.51" fill="#f8f7fa"/>
<rect x="256.45" y="248.16" width="4.9" height="11.51" fill="#ebcdec"/>
<rect x="262.25" y="248.16" width="4.9" height="11.51" fill="#f8f7fa"/>
<rect x="268.05" y="248.16" width="4.9" height="11.51" fill="#f8f7fa"/>
<rect x="273.85" y="248.16" width="4.9" height="11.51" fill="#f8f7fa"/>
<rect x="279.65" y="248.16" width="4.9" height="11.51" fill="#f8f7fa"/>
<rect x="285.45" y="248.16" width="4.9" height="11.51" fill="#ebcdec"/>
<rect x="291.25" y="248.16" width="4.9" height="11.51" fill="#ebcdec"/>
<rect x="297.05" y="248.16" width="4.9" height="11.51" fill="#f8f7fa"/>
<rect x="302.85" y="248.16" width="4.9" height="11.51" fill="#f8f7fa"/>
<rect x="308.65" y="248.16" width="4.9" height="11.51" fill="#f8f7fa"/>
<rect x="314.45" y="248.16" width="4.9" height="11.51" fill="#f8f7fa"/>
<rect x="320.25" y="248.16" width="4.9" height="11.51" fill="#f8f7fa"/>
<rect x="326.05" y="248.16" width="4.9" height="11.51" fill="#f8f7fa"/>
<rect x="331.85" y="248.16" width="4.9" height="11.51" fill="#f8f7fa"/>
<rect x="337.65" y="248.16" width="4.9" height="11.51" fill="#f8f7fa"/>
<rect x="343.45" y="248.16" width="4.9" height="11.51" fill="#f8f7fa"/>
<rect x="349.25" y="248.16" width="4.9" height="11.51" fill="#f8f7fa"/>
<rect x="355.05" y="248.16" width="4.9" height="11.51" fill="#f8f7fa"/>
<rect x="360.85" y="248.16" width="4.9" height="11.51" fill="#f1e5f3"/>
<rect x="366.65" y="248.16" width="4.9" height="11.51" fill="#ebcdec"/>
<rect x="372.45" y="248.16" width="4.9" height="11.51" fill="#ebcdec"/>
<rect x="378.25" y="248.16" width="4.9" height="11.51" fill="#f8f7fa"/>
<rect x="384.05" y="248.16" width="4.9" height="11.51" fill="#f8f7fa"/>
<rect x="389.85" y="248.16" width="4.9" height="11.51" fill="#f8f7fa"/>
<rect x="395.65" y="248.16" width="4.9" height="11.51" fill="#ebcdec"/>
<rect x="401.45" y="248.16" width="4.9" height="11.51" fill="#f8f7fa"/>
<rect x="407.25" y="248.16" width="4.9" height="11.51" fill="#f8f7fa"/>
<rect x="413.05" y="248.16" width="4.9" height="11.51" fill="#f8f7fa"/>
<rect x="418.85" y="248.16" width="4.9" height="11.51" fill="#f8f7fa"/>
<rect x="424.65" y="248.16" width="4.9" height="11.51" fill="#ebcdec"/>
<rect x="430.45" y="248.16" width="4.9" height="11.51" fill="#f8f7fa"/>
<rect x="436.25" y="248.16" width="4.9" height="11.51" fill="#ebcdec"/>
<rect x="442.05" y="248.16" width="4.9" height="11.51" fill="#f8f7fa"/>
<rect x="447.85" y="248.16" width="4.9" height="11.51" fill="#f8f7fa"/>
<rect x="453.65" y="248.16" width="4.9" height="11.51" fill="#f8f7fa"/>
<rect x="459.45" y="248.16" width="4.9" height="11.51" fill="#ebcdec"/>
<rect x="465.25" y="248.16" width="4.9" height="11.51" fill="#f8f7fa"/>
<rect x="471.05" y="248.16" width="4.9" height="11.51" fill="#f8f7fa"/>
<rect x="476.85" y="248.16" width="4.9" height="11.51" fill="#f8f7fa"/>
<rect x="482.65" y="248.16" width="4.9" height="11.51" fill="#ebcdec"/>
<rect x="488.45" y="248.16" width="4.9" height="11.51" fill="#f8f7fa"/>
<rect x="494.25" y="248.16" width="4.9" height="11.51" fill="#f8f7fa"/>
<rect x="500.05" y="248.16" width="4.9" height="11.51" fill="#f8f7fa"/>
<rect x="505.85" y="248.16" width="4.9" height="11.51" fill="#f8f7fa"/>
<rect x="511.65" y="248.16" width="4.9" height="11.51" fill="#f8f7fa"/>
<rect x="517.45" y="248.16" width="4.9" height="11.51" fill="#f8f7fa"/>
<rect x="523.25" y="248.16" width="4.9" height="11.51" fill="#f8f7fa"/>
<rect x="529.05" y="248.16" width="4.9" height="11.51" fill="#f8f7fa"/>
<rect x="534.85" y="248.16" width="4.9" height="11.51" fill="#f8f7fa"/>
<rect x="540.65" y="248.16" width="4.9" height="11.51" fill="#f8f7fa"/>
<rect x="546.45" y="248.16" width="4.9" height="11.51" fill="#f8f7fa"/>
<rect x="58.4" y="260.57" width="11.7" height="11.51" fill="#fbe3d2"/>
<text transform="translate(54.2 268.47) scale(1 1.1)" font-size="6" text-anchor="end" fill="#333333">IL10</text>
<text transform="translate(94.8 268.47) scale(1 1.1)" font-size="6" text-anchor="end" fill="#333333">IL10</text>
<rect x="99.85" y="260.57" width="4.9" height="11.51" fill="#ebcdec"/>
<rect x="105.65" y="260.57" width="4.9" height="11.51" fill="#cf7bcd"/>
<rect x="111.45" y="260.57" width="4.9" height="11.51" fill="#ebcdec"/>
<rect x="117.25" y="260.57" width="4.9" height="11.51" fill="#f8f7fa"/>
<rect x="123.05" y="260.57" width="4.9" height="11.51" fill="#f8f7fa"/>
<rect x="128.85" y="260.57" width="4.9" height="11.51" fill="#e1a9e1"/>
<rect x="134.65" y="260.57" width="4.9" height="11.51" fill="#ebcdec"/>
<rect x="140.45" y="260.57" width="4.9" height="11.51" fill="#f8f7fa"/>
<rect x="146.25" y="260.57" width="4.9" height="11.51" fill="#f8f7fa"/>
<rect x="152.05" y="260.57" width="4.9" height="11.51" fill="#f8f7fa"/>
<rect x="157.85" y="260.57" width="4.9" height="11.51" fill="#e7bde8"/>
<rect x="163.65" y="260.57" width="4.9" height="11.51" fill="#f8f7fa"/>
<rect x="169.45" y="260.57" width="4.9" height="11.51" fill="#f8f7fa"/>
<rect x="175.25" y="260.57" width="4.9" height="11.51" fill="#ebcdec"/>
<rect x="181.05" y="260.57" width="4.9" height="11.51" fill="#f8f7fa"/>
<rect x="186.85" y="260.57" width="4.9" height="11.51" fill="#f1e5f3"/>
<rect x="192.65" y="260.57" width="4.9" height="11.51" fill="#f8f7fa"/>
<rect x="198.45" y="260.57" width="4.9" height="11.51" fill="#e1a9e1"/>
<rect x="204.25" y="260.57" width="4.9" height="11.51" fill="#c464c2"/>
<rect x="210.05" y="260.57" width="4.9" height="11.51" fill="#d994d8"/>
<rect x="215.85" y="260.57" width="4.9" height="11.51" fill="#d994d8"/>
<rect x="221.65" y="260.57" width="4.9" height="11.51" fill="#e1a9e1"/>
<rect x="227.45" y="260.57" width="4.9" height="11.51" fill="#d994d8"/>
<rect x="233.25" y="260.57" width="4.9" height="11.51" fill="#e1a9e1"/>
<rect x="239.05" y="260.57" width="4.9" height="11.51" fill="#e1a9e1"/>
<rect x="244.85" y="260.57" width="4.9" height="11.51" fill="#e1a9e1"/>
<rect x="250.65" y="260.57" width="4.9" height="11.51" fill="#e1a9e1"/>
<rect x="256.45" y="260.57" width="4.9" height="11.51" fill="#e1a9e1"/>
<rect x="262.25" y="260.57" width="4.9" height="11.51" fill="#cf7bcd"/>
<rect x="268.05" y="260.57" width="4.9" height="11.51" fill="#e1a9e1"/>
<rect x="273.85" y="260.57" width="4.9" height="11.51" fill="#e1a9e1"/>
<rect x="279.65" y="260.57" width="4.9" height="11.51" fill="#f8f7fa"/>
<rect x="285.45" y="260.57" width="4.9" height="11.51" fill="#ebcdec"/>
<rect x="291.25" y="260.57" width="4.9" height="11.51" fill="#f8f7fa"/>
<rect x="297.05" y="260.57" width="4.9" height="11.51" fill="#e7bde8"/>
<rect x="302.85" y="260.57" width="4.9" height="11.51" fill="#f8f7fa"/>
<rect x="308.65" y="260.57" width="4.9" height="11.51" fill="#f1e5f3"/>
<rect x="314.45" y="260.57" width="4.9" height="11.51" fill="#f8f7fa"/>
<rect x="320.25" y="260.57" width="4.9" height="11.51" fill="#f1e5f3"/>
<rect x="326.05" y="260.57" width="4.9" height="11.51" fill="#f1e5f3"/>
<rect x="331.85" y="260.57" width="4.9" height="11.51" fill="#ebcdec"/>
<rect x="337.65" y="260.57" width="4.9" height="11.51" fill="#f8f7fa"/>
<rect x="343.45" y="260.57" width="4.9" height="11.51" fill="#f8f7fa"/>
<rect x="349.25" y="260.57" width="4.9" height="11.51" fill="#ebcdec"/>
<rect x="355.05" y="260.57" width="4.9" height="11.51" fill="#f1e5f3"/>
<rect x="360.85" y="260.57" width="4.9" height="11.51" fill="#e1a9e1"/>
<rect x="366.65" y="260.57" width="4.9" height="11.51" fill="#eedaf0"/>
<rect x="372.45" y="260.57" width="4.9" height="11.51" fill="#e7bde8"/>
<rect x="378.25" y="260.57" width="4.9" height="11.51" fill="#e7bde8"/>
<rect x="384.05" y="260.57" width="4.9" height="11.51" fill="#f8f7fa"/>
<rect x="389.85" y="260.57" width="4.9" height="11.51" fill="#ebcdec"/>
<rect x="395.65" y="260.57" width="4.9" height="11.51" fill="#eedaf0"/>
<rect x="401.45" y="260.57" width="4.9" height="11.51" fill="#eedaf0"/>
<rect x="407.25" y="260.57" width="4.9" height="11.51" fill="#ebcdec"/>
<rect x="413.05" y="260.57" width="4.9" height="11.51" fill="#f8f7fa"/>
<rect x="418.85" y="260.57" width="4.9" height="11.51" fill="#ebcdec"/>
<rect x="424.65" y="260.57" width="4.9" height="11.51" fill="#e7bde8"/>
<rect x="430.45" y="260.57" width="4.9" height="11.51" fill="#ebcdec"/>
<rect x="436.25" y="260.57" width="4.9" height="11.51" fill="#ebcdec"/>
<rect x="442.05" y="260.57" width="4.9" height="11.51" fill="#eedaf0"/>
<rect x="447.85" y="260.57" width="4.9" height="11.51" fill="#f8f7fa"/>
<rect x="453.65" y="260.57" width="4.9" height="11.51" fill="#f8f7fa"/>
<rect x="459.45" y="260.57" width="4.9" height="11.51" fill="#f8f7fa"/>
<rect x="465.25" y="260.57" width="4.9" height="11.51" fill="#f8f7fa"/>
<rect x="471.05" y="260.57" width="4.9" height="11.51" fill="#f1e5f3"/>
<rect x="476.85" y="260.57" width="4.9" height="11.51" fill="#f1e5f3"/>
<rect x="482.65" y="260.57" width="4.9" height="11.51" fill="#eedaf0"/>
<rect x="488.45" y="260.57" width="4.9" height="11.51" fill="#eedaf0"/>
<rect x="494.25" y="260.57" width="4.9" height="11.51" fill="#e1a9e1"/>
<rect x="500.05" y="260.57" width="4.9" height="11.51" fill="#f8f7fa"/>
<rect x="505.85" y="260.57" width="4.9" height="11.51" fill="#f8f7fa"/>
<rect x="511.65" y="260.57" width="4.9" height="11.51" fill="#eedaf0"/>
<rect x="517.45" y="260.57" width="4.9" height="11.51" fill="#f8f7fa"/>
<rect x="523.25" y="260.57" width="4.9" height="11.51" fill="#eedaf0"/>
<rect x="529.05" y="260.57" width="4.9" height="11.51" fill="#ebcdec"/>
<rect x="534.85" y="260.57" width="4.9" height="11.51" fill="#f8f7fa"/>
<rect x="540.65" y="260.57" width="4.9" height="11.51" fill="#f8f7fa"/>
<rect x="546.45" y="260.57" width="4.9" height="11.51" fill="#f8f7fa"/>
<rect x="58.4" y="272.98" width="11.7" height="11.51" fill="#fbe6d8"/>
<text transform="translate(54.2 280.88) scale(1 1.1)" font-size="6" text-anchor="end" fill="#333333">IL1B</text>
<text transform="translate(94.8 280.88) scale(1 1.1)" font-size="6" text-anchor="end" fill="#333333">IL1B</text>
<rect x="99.85" y="272.98" width="4.9" height="11.51" fill="#ebcdec"/>
<rect x="105.65" y="272.98" width="4.9" height="11.51" fill="#d994d8"/>
<rect x="111.45" y="272.98" width="4.9" height="11.51" fill="#f8f7fa"/>
<rect x="117.25" y="272.98" width="4.9" height="11.51" fill="#f8f7fa"/>
<rect x="123.05" y="272.98" width="4.9" height="11.51" fill="#f8f7fa"/>
<rect x="128.85" y="272.98" width="4.9" height="11.51" fill="#e1a9e1"/>
<rect x="134.65" y="272.98" width="4.9" height="11.51" fill="#f8f7fa"/>
<rect x="140.45" y="272.98" width="4.9" height="11.51" fill="#f8f7fa"/>
<rect x="146.25" y="272.98" width="4.9" height="11.51" fill="#f8f7fa"/>
<rect x="152.05" y="272.98" width="4.9" height="11.51" fill="#f8f7fa"/>
<rect x="157.85" y="272.98" width="4.9" height="11.51" fill="#f8f7fa"/>
<rect x="163.65" y="272.98" width="4.9" height="11.51" fill="#f8f7fa"/>
<rect x="169.45" y="272.98" width="4.9" height="11.51" fill="#f8f7fa"/>
<rect x="175.25" y="272.98" width="4.9" height="11.51" fill="#f8f7fa"/>
<rect x="181.05" y="272.98" width="4.9" height="11.51" fill="#f8f7fa"/>
<rect x="186.85" y="272.98" width="4.9" height="11.51" fill="#ebcdec"/>
<rect x="192.65" y="272.98" width="4.9" height="11.51" fill="#f8f7fa"/>
<rect x="198.45" y="272.98" width="4.9" height="11.51" fill="#d994d8"/>
<rect x="204.25" y="272.98" width="4.9" height="11.51" fill="#ebcdec"/>
<rect x="210.05" y="272.98" width="4.9" height="11.51" fill="#d994d8"/>
<rect x="215.85" y="272.98" width="4.9" height="11.51" fill="#ebcdec"/>
<rect x="221.65" y="272.98" width="4.9" height="11.51" fill="#eedaf0"/>
<rect x="227.45" y="272.98" width="4.9" height="11.51" fill="#d994d8"/>
<rect x="233.25" y="272.98" width="4.9" height="11.51" fill="#f1e5f3"/>
<rect x="239.05" y="272.98" width="4.9" height="11.51" fill="#f8f7fa"/>
<rect x="244.85" y="272.98" width="4.9" height="11.51" fill="#ebcdec"/>
<rect x="250.65" y="272.98" width="4.9" height="11.51" fill="#f8f7fa"/>
<rect x="256.45" y="272.98" width="4.9" height="11.51" fill="#eedaf0"/>
<rect x="262.25" y="272.98" width="4.9" height="11.51" fill="#e1a9e1"/>
<rect x="268.05" y="272.98" width="4.9" height="11.51" fill="#ebcdec"/>
<rect x="273.85" y="272.98" width="4.9" height="11.51" fill="#f8f7fa"/>
<rect x="279.65" y="272.98" width="4.9" height="11.51" fill="#cf7bcd"/>
<rect x="285.45" y="272.98" width="4.9" height="11.51" fill="#c464c2"/>
<rect x="291.25" y="272.98" width="4.9" height="11.51" fill="#cf7bcd"/>
<rect x="297.05" y="272.98" width="4.9" height="11.51" fill="#cf7bcd"/>
<rect x="302.85" y="272.98" width="4.9" height="11.51" fill="#cf7bcd"/>
<rect x="308.65" y="272.98" width="4.9" height="11.51" fill="#d994d8"/>
<rect x="314.45" y="272.98" width="4.9" height="11.51" fill="#d994d8"/>
<rect x="320.25" y="272.98" width="4.9" height="11.51" fill="#d994d8"/>
<rect x="326.05" y="272.98" width="4.9" height="11.51" fill="#e1a9e1"/>
<rect x="331.85" y="272.98" width="4.9" height="11.51" fill="#e1a9e1"/>
<rect x="337.65" y="272.98" width="4.9" height="11.51" fill="#eedaf0"/>
<rect x="343.45" y="272.98" width="4.9" height="11.51" fill="#f8f7fa"/>
<rect x="349.25" y="272.98" width="4.9" height="11.51" fill="#ebcdec"/>
<rect x="355.05" y="272.98" width="4.9" height="11.51" fill="#eedaf0"/>
<rect x="360.85" y="272.98" width="4.9" height="11.51" fill="#eedaf0"/>
<rect x="366.65" y="272.98" width="4.9" height="11.51" fill="#eedaf0"/>
<rect x="372.45" y="272.98" width="4.9" height="11.51" fill="#ebcdec"/>
<rect x="378.25" y="272.98" width="4.9" height="11.51" fill="#e7bde8"/>
<rect x="384.05" y="272.98" width="4.9" height="11.51" fill="#eedaf0"/>
<rect x="389.85" y="272.98" width="4.9" height="11.51" fill="#ebcdec"/>
<rect x="395.65" y="272.98" width="4.9" height="11.51" fill="#e1a9e1"/>
<rect x="401.45" y="272.98" width="4.9" height="11.51" fill="#eedaf0"/>
<rect x="407.25" y="272.98" width="4.9" height="11.51" fill="#e1a9e1"/>
<rect x="413.05" y="272.98" width="4.9" height="11.51" fill="#f8f7fa"/>
<rect x="418.85" y="272.98" width="4.9" height="11.51" fill="#f8f7fa"/>
<rect x="424.65" y="272.98" width="4.9" height="11.51" fill="#eedaf0"/>
<rect x="430.45" y="272.98" width="4.9" height="11.51" fill="#f1e5f3"/>
<rect x="436.25" y="272.98" width="4.9" height="11.51" fill="#ebcdec"/>
<rect x="442.05" y="272.98" width="4.9" height="11.51" fill="#e7bde8"/>
<rect x="447.85" y="272.98" width="4.9" height="11.51" fill="#d994d8"/>
<rect x="453.65" y="272.98" width="4.9" height="11.51" fill="#d994d8"/>
<rect x="459.45" y="272.98" width="4.9" height="11.51" fill="#e7bde8"/>
<rect x="465.25" y="272.98" width="4.9" height="11.51" fill="#d994d8"/>
<rect x="471.05" y="272.98" width="4.9" height="11.51" fill="#eedaf0"/>
<rect x="476.85" y="272.98" width="4.9" height="11.51" fill="#ebcdec"/>
<rect x="482.65" y="272.98" width="4.9" height="11.51" fill="#f8f7fa"/>
<rect x="488.45" y="272.98" width="4.9" height="11.51" fill="#ebcdec"/>
<rect x="494.25" y="272.98" width="4.9" height="11.51" fill="#e1a9e1"/>
<rect x="500.05" y="272.98" width="4.9" height="11.51" fill="#eedaf0"/>
<rect x="505.85" y="272.98" width="4.9" height="11.51" fill="#e7bde8"/>
<rect x="511.65" y="272.98" width="4.9" height="11.51" fill="#f8f7fa"/>
<rect x="517.45" y="272.98" width="4.9" height="11.51" fill="#f8f7fa"/>
<rect x="523.25" y="272.98" width="4.9" height="11.51" fill="#f8f7fa"/>
<rect x="529.05" y="272.98" width="4.9" height="11.51" fill="#e7bde8"/>
<rect x="534.85" y="272.98" width="4.9" height="11.51" fill="#e7bde8"/>
<rect x="540.65" y="272.98" width="4.9" height="11.51" fill="#f8f7fa"/>
<rect x="546.45" y="272.98" width="4.9" height="11.51" fill="#f8f7fa"/>
<rect x="58.4" y="285.39" width="11.7" height="11.51" fill="#fbe8da"/>
<text transform="translate(54.2 293.29) scale(1 1.1)" font-size="6" text-anchor="end" fill="#333333">TGFB1</text>
<text transform="translate(94.8 293.29) scale(1 1.1)" font-size="6" text-anchor="end" fill="#333333">TGFB1</text>
<rect x="99.85" y="285.39" width="4.9" height="11.51" fill="#ebcdec"/>
<rect x="105.65" y="285.39" width="4.9" height="11.51" fill="#e1a9e1"/>
<rect x="111.45" y="285.39" width="4.9" height="11.51" fill="#ebcdec"/>
<rect x="117.25" y="285.39" width="4.9" height="11.51" fill="#f8f7fa"/>
<rect x="123.05" y="285.39" width="4.9" height="11.51" fill="#f8f7fa"/>
<rect x="128.85" y="285.39" width="4.9" height="11.51" fill="#cf7bcd"/>
<rect x="134.65" y="285.39" width="4.9" height="11.51" fill="#f1e5f3"/>
<rect x="140.45" y="285.39" width="4.9" height="11.51" fill="#f8f7fa"/>
<rect x="146.25" y="285.39" width="4.9" height="11.51" fill="#f8f7fa"/>
<rect x="152.05" y="285.39" width="4.9" height="11.51" fill="#f8f7fa"/>
<rect x="157.85" y="285.39" width="4.9" height="11.51" fill="#d385d1"/>
<rect x="163.65" y="285.39" width="4.9" height="11.51" fill="#f8f7fa"/>
<rect x="169.45" y="285.39" width="4.9" height="11.51" fill="#f8f7fa"/>
<rect x="175.25" y="285.39" width="4.9" height="11.51" fill="#ebcdec"/>
<rect x="181.05" y="285.39" width="4.9" height="11.51" fill="#f8f7fa"/>
<rect x="186.85" y="285.39" width="4.9" height="11.51" fill="#eedaf0"/>
<rect x="192.65" y="285.39" width="4.9" height="11.51" fill="#f8f7fa"/>
<rect x="198.45" y="285.39" width="4.9" height="11.51" fill="#eedaf0"/>
<rect x="204.25" y="285.39" width="4.9" height="11.51" fill="#ebcdec"/>
<rect x="210.05" y="285.39" width="4.9" height="11.51" fill="#ebcdec"/>
<rect x="215.85" y="285.39" width="4.9" height="11.51" fill="#f8f7fa"/>
<rect x="221.65" y="285.39" width="4.9" height="11.51" fill="#f1e5f3"/>
<rect x="227.45" y="285.39" width="4.9" height="11.51" fill="#d994d8"/>
<rect x="233.25" y="285.39" width="4.9" height="11.51" fill="#b84fb6"/>
<rect x="239.05" y="285.39" width="4.9" height="11.51" fill="#f1e5f3"/>
<rect x="244.85" y="285.39" width="4.9" height="11.51" fill="#f8f7fa"/>
<rect x="250.65" y="285.39" width="4.9" height="11.51" fill="#eedaf0"/>
<rect x="256.45" y="285.39" width="4.9" height="11.51" fill="#f1e5f3"/>
<rect x="262.25" y="285.39" width="4.9" height="11.51" fill="#ebcdec"/>
<rect x="268.05" y="285.39" width="4.9" height="11.51" fill="#e1a9e1"/>
<rect x="273.85" y="285.39" width="4.9" height="11.51" fill="#f1e5f3"/>
<rect x="279.65" y="285.39" width="4.9" height="11.51" fill="#eedaf0"/>
<rect x="285.45" y="285.39" width="4.9" height="11.51" fill="#f1e5f3"/>
<rect x="291.25" y="285.39" width="4.9" height="11.51" fill="#f3eef6"/>
<rect x="297.05" y="285.39" width="4.9" height="11.51" fill="#f1e5f3"/>
<rect x="302.85" y="285.39" width="4.9" height="11.51" fill="#e7bde8"/>
<rect x="308.65" y="285.39" width="4.9" height="11.51" fill="#d994d8"/>
<rect x="314.45" y="285.39" width="4.9" height="11.51" fill="#eedaf0"/>
<rect x="320.25" y="285.39" width="4.9" height="11.51" fill="#eedaf0"/>
<rect x="326.05" y="285.39" width="4.9" height="11.51" fill="#f8f7fa"/>
<rect x="331.85" y="285.39" width="4.9" height="11.51" fill="#b84fb6"/>
<rect x="337.65" y="285.39" width="4.9" height="11.51" fill="#c464c2"/>
<rect x="343.45" y="285.39" width="4.9" height="11.51" fill="#b84fb6"/>
<rect x="349.25" y="285.39" width="4.9" height="11.51" fill="#f1e5f3"/>
<rect x="355.05" y="285.39" width="4.9" height="11.51" fill="#f8f7fa"/>
<rect x="360.85" y="285.39" width="4.9" height="11.51" fill="#e1a9e1"/>
<rect x="366.65" y="285.39" width="4.9" height="11.51" fill="#eedaf0"/>
<rect x="372.45" y="285.39" width="4.9" height="11.51" fill="#f8f7fa"/>
<rect x="378.25" y="285.39" width="4.9" height="11.51" fill="#f8f7fa"/>
<rect x="384.05" y="285.39" width="4.9" height="11.51" fill="#f8f7fa"/>
<rect x="389.85" y="285.39" width="4.9" height="11.51" fill="#f8f7fa"/>
<rect x="395.65" y="285.39" width="4.9" height="11.51" fill="#d994d8"/>
<rect x="401.45" y="285.39" width="4.9" height="11.51" fill="#f8f7fa"/>
<rect x="407.25" y="285.39" width="4.9" height="11.51" fill="#ebcdec"/>
<rect x="413.05" y="285.39" width="4.9" height="11.51" fill="#f1e5f3"/>
<rect x="418.85" y="285.39" width="4.9" height="11.51" fill="#e1a9e1"/>
<rect x="424.65" y="285.39" width="4.9" height="11.51" fill="#eedaf0"/>
<rect x="430.45" y="285.39" width="4.9" height="11.51" fill="#e1a9e1"/>
<rect x="436.25" y="285.39" width="4.9" height="11.51" fill="#f1e5f3"/>
<rect x="442.05" y="285.39" width="4.9" height="11.51" fill="#f8f7fa"/>
<rect x="447.85" y="285.39" width="4.9" height="11.51" fill="#eedaf0"/>
<rect x="453.65" y="285.39" width="4.9" height="11.51" fill="#e1a9e1"/>
<rect x="459.45" y="285.39" width="4.9" height="11.51" fill="#eedaf0"/>
<rect x="465.25" y="285.39" width="4.9" height="11.51" fill="#f8f7fa"/>
<rect x="471.05" y="285.39" width="4.9" height="11.51" fill="#c464c2"/>
<rect x="476.85" y="285.39" width="4.9" height="11.51" fill="#ebcdec"/>
<rect x="482.65" y="285.39" width="4.9" height="11.51" fill="#f8f7fa"/>
<rect x="488.45" y="285.39" width="4.9" height="11.51" fill="#eedaf0"/>
<rect x="494.25" y="285.39" width="4.9" height="11.51" fill="#ebcdec"/>
<rect x="500.05" y="285.39" width="4.9" height="11.51" fill="#f8f7fa"/>
<rect x="505.85" y="285.39" width="4.9" height="11.51" fill="#ebcdec"/>
<rect x="511.65" y="285.39" width="4.9" height="11.51" fill="#f8f7fa"/>
<rect x="517.45" y="285.39" width="4.9" height="11.51" fill="#f8f7fa"/>
<rect x="523.25" y="285.39" width="4.9" height="11.51" fill="#ebcdec"/>
<rect x="529.05" y="285.39" width="4.9" height="11.51" fill="#f8f7fa"/>
<rect x="534.85" y="285.39" width="4.9" height="11.51" fill="#f8f7fa"/>
<rect x="540.65" y="285.39" width="4.9" height="11.51" fill="#f8f7fa"/>
<rect x="546.45" y="285.39" width="4.9" height="11.51" fill="#f8f7fa"/>
<rect x="58.4" y="297.8" width="11.7" height="11.51" fill="#fbe8da"/>
<text transform="translate(54.2 305.7) scale(1 1.1)" font-size="6" text-anchor="end" fill="#333333">IFITM1</text>
<text transform="translate(94.8 305.7) scale(1 1.1)" font-size="6" text-anchor="end" fill="#333333">IFITM1</text>
<rect x="99.85" y="297.8" width="4.9" height="11.51" fill="#f1e5f3"/>
<rect x="105.65" y="297.8" width="4.9" height="11.51" fill="#f1e5f3"/>
<rect x="111.45" y="297.8" width="4.9" height="11.51" fill="#f8f7fa"/>
<rect x="117.25" y="297.8" width="4.9" height="11.51" fill="#f8f7fa"/>
<rect x="123.05" y="297.8" width="4.9" height="11.51" fill="#f8f7fa"/>
<rect x="128.85" y="297.8" width="4.9" height="11.51" fill="#f1e5f3"/>
<rect x="134.65" y="297.8" width="4.9" height="11.51" fill="#f8f7fa"/>
<rect x="140.45" y="297.8" width="4.9" height="11.51" fill="#f8f7fa"/>
<rect x="146.25" y="297.8" width="4.9" height="11.51" fill="#f8f7fa"/>
<rect x="152.05" y="297.8" width="4.9" height="11.51" fill="#f8f7fa"/>
<rect x="157.85" y="297.8" width="4.9" height="11.51" fill="#f8f7fa"/>
<rect x="163.65" y="297.8" width="4.9" height="11.51" fill="#f8f7fa"/>
<rect x="169.45" y="297.8" width="4.9" height="11.51" fill="#f8f7fa"/>
<rect x="175.25" y="297.8" width="4.9" height="11.51" fill="#f8f7fa"/>
<rect x="181.05" y="297.8" width="4.9" height="11.51" fill="#f8f7fa"/>
<rect x="186.85" y="297.8" width="4.9" height="11.51" fill="#f1e5f3"/>
<rect x="192.65" y="297.8" width="4.9" height="11.51" fill="#f8f7fa"/>
<rect x="198.45" y="297.8" width="4.9" height="11.51" fill="#f3eef6"/>
<rect x="204.25" y="297.8" width="4.9" height="11.51" fill="#f8f7fa"/>
<rect x="210.05" y="297.8" width="4.9" height="11.51" fill="#f8f7fa"/>
<rect x="215.85" y="297.8" width="4.9" height="11.51" fill="#f8f7fa"/>
<rect x="221.65" y="297.8" width="4.9" height="11.51" fill="#f8f7fa"/>
<rect x="227.45" y="297.8" width="4.9" height="11.51" fill="#f8f7fa"/>
<rect x="233.25" y="297.8" width="4.9" height="11.51" fill="#f8f7fa"/>
<rect x="239.05" y="297.8" width="4.9" height="11.51" fill="#f8f7fa"/>
<rect x="244.85" y="297.8" width="4.9" height="11.51" fill="#f1e5f3"/>
<rect x="250.65" y="297.8" width="4.9" height="11.51" fill="#f8f7fa"/>
<rect x="256.45" y="297.8" width="4.9" height="11.51" fill="#f8f7fa"/>
<rect x="262.25" y="297.8" width="4.9" height="11.51" fill="#f8f7fa"/>
<rect x="268.05" y="297.8" width="4.9" height="11.51" fill="#f8f7fa"/>
<rect x="273.85" y="297.8" width="4.9" height="11.51" fill="#f8f7fa"/>
<rect x="279.65" y="297.8" width="4.9" height="11.51" fill="#f8f7fa"/>
<rect x="285.45" y="297.8" width="4.9" height="11.51" fill="#f8f7fa"/>
<rect x="291.25" y="297.8" width="4.9" height="11.51" fill="#f8f7fa"/>
<rect x="297.05" y="297.8" width="4.9" height="11.51" fill="#f8f7fa"/>
<rect x="302.85" y="297.8" width="4.9" height="11.51" fill="#f8f7fa"/>
<rect x="308.65" y="297.8" width="4.9" height="11.51" fill="#f8f7fa"/>
<rect x="314.45" y="297.8" width="4.9" height="11.51" fill="#f8f7fa"/>
<rect x="320.25" y="297.8" width="4.9" height="11.51" fill="#f8f7fa"/>
<rect x="326.05" y="297.8" width="4.9" height="11.51" fill="#f8f7fa"/>
<rect x="331.85" y="297.8" width="4.9" height="11.51" fill="#f8f7fa"/>
<rect x="337.65" y="297.8" width="4.9" height="11.51" fill="#f8f7fa"/>
<rect x="343.45" y="297.8" width="4.9" height="11.51" fill="#f8f7fa"/>
<rect x="349.25" y="297.8" width="4.9" height="11.51" fill="#f3eef6"/>
<rect x="355.05" y="297.8" width="4.9" height="11.51" fill="#f3eef6"/>
<rect x="360.85" y="297.8" width="4.9" height="11.51" fill="#f1e5f3"/>
<rect x="366.65" y="297.8" width="4.9" height="11.51" fill="#f3eef6"/>
<rect x="372.45" y="297.8" width="4.9" height="11.51" fill="#f3eef6"/>
<rect x="378.25" y="297.8" width="4.9" height="11.51" fill="#f3eef6"/>
<rect x="384.05" y="297.8" width="4.9" height="11.51" fill="#f3eef6"/>
<rect x="389.85" y="297.8" width="4.9" height="11.51" fill="#f3eef6"/>
<rect x="395.65" y="297.8" width="4.9" height="11.51" fill="#f3eef6"/>
<rect x="401.45" y="297.8" width="4.9" height="11.51" fill="#f8f7fa"/>
<rect x="407.25" y="297.8" width="4.9" height="11.51" fill="#f3eef6"/>
<rect x="413.05" y="297.8" width="4.9" height="11.51" fill="#f8f7fa"/>
<rect x="418.85" y="297.8" width="4.9" height="11.51" fill="#f8f7fa"/>
<rect x="424.65" y="297.8" width="4.9" height="11.51" fill="#f3eef6"/>
<rect x="430.45" y="297.8" width="4.9" height="11.51" fill="#f8f7fa"/>
<rect x="436.25" y="297.8" width="4.9" height="11.51" fill="#f8f7fa"/>
<rect x="442.05" y="297.8" width="4.9" height="11.51" fill="#f8f7fa"/>
<rect x="447.85" y="297.8" width="4.9" height="11.51" fill="#f8f7fa"/>
<rect x="453.65" y="297.8" width="4.9" height="11.51" fill="#f8f7fa"/>
<rect x="459.45" y="297.8" width="4.9" height="11.51" fill="#f8f7fa"/>
<rect x="465.25" y="297.8" width="4.9" height="11.51" fill="#f8f7fa"/>
<rect x="471.05" y="297.8" width="4.9" height="11.51" fill="#f8f7fa"/>
<rect x="476.85" y="297.8" width="4.9" height="11.51" fill="#f8f7fa"/>
<rect x="482.65" y="297.8" width="4.9" height="11.51" fill="#f8f7fa"/>
<rect x="488.45" y="297.8" width="4.9" height="11.51" fill="#f8f7fa"/>
<rect x="494.25" y="297.8" width="4.9" height="11.51" fill="#f8f7fa"/>
<rect x="500.05" y="297.8" width="4.9" height="11.51" fill="#f8f7fa"/>
<rect x="505.85" y="297.8" width="4.9" height="11.51" fill="#f3eef6"/>
<rect x="511.65" y="297.8" width="4.9" height="11.51" fill="#f8f7fa"/>
<rect x="517.45" y="297.8" width="4.9" height="11.51" fill="#f8f7fa"/>
<rect x="523.25" y="297.8" width="4.9" height="11.51" fill="#f8f7fa"/>
<rect x="529.05" y="297.8" width="4.9" height="11.51" fill="#f8f7fa"/>
<rect x="534.85" y="297.8" width="4.9" height="11.51" fill="#f8f7fa"/>
<rect x="540.65" y="297.8" width="4.9" height="11.51" fill="#f8f7fa"/>
<rect x="546.45" y="297.8" width="4.9" height="11.51" fill="#f8f7fa"/>
<rect x="58.4" y="310.21" width="11.7" height="11.51" fill="#fbe9dc"/>
<text transform="translate(54.2 318.11) scale(1 1.1)" font-size="6" text-anchor="end" fill="#333333">CD80</text>
<text transform="translate(94.8 318.11) scale(1 1.1)" font-size="6" text-anchor="end" fill="#333333">CD80</text>
<rect x="99.85" y="310.21" width="4.9" height="11.51" fill="#f8f7fa"/>
<rect x="105.65" y="310.21" width="4.9" height="11.51" fill="#f8f7fa"/>
<rect x="111.45" y="310.21" width="4.9" height="11.51" fill="#ebcdec"/>
<rect x="117.25" y="310.21" width="4.9" height="11.51" fill="#f8f7fa"/>
<rect x="123.05" y="310.21" width="4.9" height="11.51" fill="#f8f7fa"/>
<rect x="128.85" y="310.21" width="4.9" height="11.51" fill="#f8f7fa"/>
<rect x="134.65" y="310.21" width="4.9" height="11.51" fill="#f8f7fa"/>
<rect x="140.45" y="310.21" width="4.9" height="11.51" fill="#ebcdec"/>
<rect x="146.25" y="310.21" width="4.9" height="11.51" fill="#f8f7fa"/>
<rect x="152.05" y="310.21" width="4.9" height="11.51" fill="#f8f7fa"/>
<rect x="157.85" y="310.21" width="4.9" height="11.51" fill="#f8f7fa"/>
<rect x="163.65" y="310.21" width="4.9" height="11.51" fill="#f8f7fa"/>
<rect x="169.45" y="310.21" width="4.9" height="11.51" fill="#f8f7fa"/>
<rect x="175.25" y="310.21" width="4.9" height="11.51" fill="#f8f7fa"/>
<rect x="181.05" y="310.21" width="4.9" height="11.51" fill="#f8f7fa"/>
<rect x="186.85" y="310.21" width="4.9" height="11.51" fill="#f8f7fa"/>
<rect x="192.65" y="310.21" width="4.9" height="11.51" fill="#f8f7fa"/>
<rect x="198.45" y="310.21" width="4.9" height="11.51" fill="#f8f7fa"/>
<rect x="204.25" y="310.21" width="4.9" height="11.51" fill="#f8f7fa"/>
<rect x="210.05" y="310.21" width="4.9" height="11.51" fill="#eedaf0"/>
<rect x="215.85" y="310.21" width="4.9" height="11.51" fill="#f8f7fa"/>
<rect x="221.65" y="310.21" width="4.9" height="11.51" fill="#f8f7fa"/>
<rect x="227.45" y="310.21" width="4.9" height="11.51" fill="#f8f7fa"/>
<rect x="233.25" y="310.21" width="4.9" height="11.51" fill="#f8f7fa"/>
<rect x="239.05" y="310.21" width="4.9" height="11.51" fill="#f8f7fa"/>
<rect x="244.85" y="310.21" width="4.9" height="11.51" fill="#f8f7fa"/>
<rect x="250.65" y="310.21" width="4.9" height="11.51" fill="#f8f7fa"/>
<rect x="256.45" y="310.21" width="4.9" height="11.51" fill="#f8f7fa"/>
<rect x="262.25" y="310.21" width="4.9" height="11.51" fill="#f8f7fa"/>
<rect x="268.05" y="310.21" width="4.9" height="11.51" fill="#f8f7fa"/>
<rect x="273.85" y="310.21" width="4.9" height="11.51" fill="#f8f7fa"/>
<rect x="279.65" y="310.21" width="4.9" height="11.51" fill="#f8f7fa"/>
<rect x="285.45" y="310.21" width="4.9" height="11.51" fill="#f8f7fa"/>
<rect x="291.25" y="310.21" width="4.9" height="11.51" fill="#f8f7fa"/>
<rect x="297.05" y="310.21" width="4.9" height="11.51" fill="#f8f7fa"/>
<rect x="302.85" y="310.21" width="4.9" height="11.51" fill="#f8f7fa"/>
<rect x="308.65" y="310.21" width="4.9" height="11.51" fill="#f8f7fa"/>
<rect x="314.45" y="310.21" width="4.9" height="11.51" fill="#f8f7fa"/>
<rect x="320.25" y="310.21" width="4.9" height="11.51" fill="#f8f7fa"/>
<rect x="326.05" y="310.21" width="4.9" height="11.51" fill="#f8f7fa"/>
<rect x="331.85" y="310.21" width="4.9" height="11.51" fill="#f8f7fa"/>
<rect x="337.65" y="310.21" width="4.9" height="11.51" fill="#f8f7fa"/>
<rect x="343.45" y="310.21" width="4.9" height="11.51" fill="#f8f7fa"/>
<rect x="349.25" y="310.21" width="4.9" height="11.51" fill="#f8f7fa"/>
<rect x="355.05" y="310.21" width="4.9" height="11.51" fill="#f8f7fa"/>
<rect x="360.85" y="310.21" width="4.9" height="11.51" fill="#f8f7fa"/>
<rect x="366.65" y="310.21" width="4.9" height="11.51" fill="#f8f7fa"/>
<rect x="372.45" y="310.21" width="4.9" height="11.51" fill="#f8f7fa"/>
<rect x="378.25" y="310.21" width="4.9" height="11.51" fill="#f8f7fa"/>
<rect x="384.05" y="310.21" width="4.9" height="11.51" fill="#f8f7fa"/>
<rect x="389.85" y="310.21" width="4.9" height="11.51" fill="#f8f7fa"/>
<rect x="395.65" y="310.21" width="4.9" height="11.51" fill="#f8f7fa"/>
<rect x="401.45" y="310.21" width="4.9" height="11.51" fill="#f8f7fa"/>
<rect x="407.25" y="310.21" width="4.9" height="11.51" fill="#f8f7fa"/>
<rect x="413.05" y="310.21" width="4.9" height="11.51" fill="#f1e5f3"/>
<rect x="418.85" y="310.21" width="4.9" height="11.51" fill="#f8f7fa"/>
<rect x="424.65" y="310.21" width="4.9" height="11.51" fill="#f8f7fa"/>
<rect x="430.45" y="310.21" width="4.9" height="11.51" fill="#f8f7fa"/>
<rect x="436.25" y="310.21" width="4.9" height="11.51" fill="#f8f7fa"/>
<rect x="442.05" y="310.21" width="4.9" height="11.51" fill="#f8f7fa"/>
<rect x="447.85" y="310.21" width="4.9" height="11.51" fill="#f8f7fa"/>
<rect x="453.65" y="310.21" width="4.9" height="11.51" fill="#f8f7fa"/>
<rect x="459.45" y="310.21" width="4.9" height="11.51" fill="#f8f7fa"/>
<rect x="465.25" y="310.21" width="4.9" height="11.51" fill="#f8f7fa"/>
<rect x="471.05" y="310.21" width="4.9" height="11.51" fill="#f8f7fa"/>
<rect x="476.85" y="310.21" width="4.9" height="11.51" fill="#f8f7fa"/>
<rect x="482.65" y="310.21" width="4.9" height="11.51" fill="#f8f7fa"/>
<rect x="488.45" y="310.21" width="4.9" height="11.51" fill="#f8f7fa"/>
<rect x="494.25" y="310.21" width="4.9" height="11.51" fill="#f8f7fa"/>
<rect x="500.05" y="310.21" width="4.9" height="11.51" fill="#f8f7fa"/>
<rect x="505.85" y="310.21" width="4.9" height="11.51" fill="#f8f7fa"/>
<rect x="511.65" y="310.21" width="4.9" height="11.51" fill="#f8f7fa"/>
<rect x="517.45" y="310.21" width="4.9" height="11.51" fill="#f8f7fa"/>
<rect x="523.25" y="310.21" width="4.9" height="11.51" fill="#f8f7fa"/>
<rect x="529.05" y="310.21" width="4.9" height="11.51" fill="#f8f7fa"/>
<rect x="534.85" y="310.21" width="4.9" height="11.51" fill="#f8f7fa"/>
<rect x="540.65" y="310.21" width="4.9" height="11.51" fill="#f8f7fa"/>
<rect x="546.45" y="310.21" width="4.9" height="11.51" fill="#f8f7fa"/>
<rect x="58.4" y="322.62" width="11.7" height="11.51" fill="#f9ebe0"/>
<text transform="translate(54.2 330.52) scale(1 1.1)" font-size="6" text-anchor="end" fill="#333333">IL15</text>
<text transform="translate(94.8 330.52) scale(1 1.1)" font-size="6" text-anchor="end" fill="#333333">IL15</text>
<rect x="99.85" y="322.62" width="4.9" height="11.51" fill="#d994d8"/>
<rect x="105.65" y="322.62" width="4.9" height="11.51" fill="#ebcdec"/>
<rect x="111.45" y="322.62" width="4.9" height="11.51" fill="#ebcdec"/>
<rect x="117.25" y="322.62" width="4.9" height="11.51" fill="#f8f7fa"/>
<rect x="123.05" y="322.62" width="4.9" height="11.51" fill="#ebcdec"/>
<rect x="128.85" y="322.62" width="4.9" height="11.51" fill="#eedaf0"/>
<rect x="134.65" y="322.62" width="4.9" height="11.51" fill="#f8f7fa"/>
<rect x="140.45" y="322.62" width="4.9" height="11.51" fill="#f8f7fa"/>
<rect x="146.25" y="322.62" width="4.9" height="11.51" fill="#d994d8"/>
<rect x="152.05" y="322.62" width="4.9" height="11.51" fill="#ebcdec"/>
<rect x="157.85" y="322.62" width="4.9" height="11.51" fill="#eedaf0"/>
<rect x="163.65" y="322.62" width="4.9" height="11.51" fill="#f8f7fa"/>
<rect x="169.45" y="322.62" width="4.9" height="11.51" fill="#f8f7fa"/>
<rect x="175.25" y="322.62" width="4.9" height="11.51" fill="#f8f7fa"/>
<rect x="181.05" y="322.62" width="4.9" height="11.51" fill="#f8f7fa"/>
<rect x="186.85" y="322.62" width="4.9" height="11.51" fill="#f8f7fa"/>
<rect x="192.65" y="322.62" width="4.9" height="11.51" fill="#eedaf0"/>
<rect x="198.45" y="322.62" width="4.9" height="11.51" fill="#d994d8"/>
<rect x="204.25" y="322.62" width="4.9" height="11.51" fill="#f8f7fa"/>
<rect x="210.05" y="322.62" width="4.9" height="11.51" fill="#d994d8"/>
<rect x="215.85" y="322.62" width="4.9" height="11.51" fill="#ebcdec"/>
<rect x="221.65" y="322.62" width="4.9" height="11.51" fill="#f8f7fa"/>
<rect x="227.45" y="322.62" width="4.9" height="11.51" fill="#f8f7fa"/>
<rect x="233.25" y="322.62" width="4.9" height="11.51" fill="#eedaf0"/>
<rect x="239.05" y="322.62" width="4.9" height="11.51" fill="#e1a9e1"/>
<rect x="244.85" y="322.62" width="4.9" height="11.51" fill="#f8f7fa"/>
<rect x="250.65" y="322.62" width="4.9" height="11.51" fill="#f8f7fa"/>
<rect x="256.45" y="322.62" width="4.9" height="11.51" fill="#f3eef6"/>
<rect x="262.25" y="322.62" width="4.9" height="11.51" fill="#ebcdec"/>
<rect x="268.05" y="322.62" width="4.9" height="11.51" fill="#ebcdec"/>
<rect x="273.85" y="322.62" width="4.9" height="11.51" fill="#f1e5f3"/>
<rect x="279.65" y="322.62" width="4.9" height="11.51" fill="#eedaf0"/>
<rect x="285.45" y="322.62" width="4.9" height="11.51" fill="#ebcdec"/>
<rect x="291.25" y="322.62" width="4.9" height="11.51" fill="#f8f7fa"/>
<rect x="297.05" y="322.62" width="4.9" height="11.51" fill="#e1a9e1"/>
<rect x="302.85" y="322.62" width="4.9" height="11.51" fill="#e7bde8"/>
<rect x="308.65" y="322.62" width="4.9" height="11.51" fill="#f3eef6"/>
<rect x="314.45" y="322.62" width="4.9" height="11.51" fill="#ebcdec"/>
<rect x="320.25" y="322.62" width="4.9" height="11.51" fill="#f8f7fa"/>
<rect x="326.05" y="322.62" width="4.9" height="11.51" fill="#f8f7fa"/>
<rect x="331.85" y="322.62" width="4.9" height="11.51" fill="#f1e5f3"/>
<rect x="337.65" y="322.62" width="4.9" height="11.51" fill="#eedaf0"/>
<rect x="343.45" y="322.62" width="4.9" height="11.51" fill="#f8f7fa"/>
<rect x="349.25" y="322.62" width="4.9" height="11.51" fill="#f3eef6"/>
<rect x="355.05" y="322.62" width="4.9" height="11.51" fill="#cf7bcd"/>
<rect x="360.85" y="322.62" width="4.9" height="11.51" fill="#ebcdec"/>
<rect x="366.65" y="322.62" width="4.9" height="11.51" fill="#f8f7fa"/>
<rect x="372.45" y="322.62" width="4.9" height="11.51" fill="#f8f7fa"/>
<rect x="378.25" y="322.62" width="4.9" height="11.51" fill="#f8f7fa"/>
<rect x="384.05" y="322.62" width="4.9" height="11.51" fill="#f8f7fa"/>
<rect x="389.85" y="322.62" width="4.9" height="11.51" fill="#eedaf0"/>
<rect x="395.65" y="322.62" width="4.9" height="11.51" fill="#eedaf0"/>
<rect x="401.45" y="322.62" width="4.9" height="11.51" fill="#eedaf0"/>
<rect x="407.25" y="322.62" width="4.9" height="11.51" fill="#f3eef6"/>
<rect x="413.05" y="322.62" width="4.9" height="11.51" fill="#e7bde8"/>
<rect x="418.85" y="322.62" width="4.9" height="11.51" fill="#e1a9e1"/>
<rect x="424.65" y="322.62" width="4.9" height="11.51" fill="#d994d8"/>
<rect x="430.45" y="322.62" width="4.9" height="11.51" fill="#cf7bcd"/>
<rect x="436.25" y="322.62" width="4.9" height="11.51" fill="#ebcdec"/>
<rect x="442.05" y="322.62" width="4.9" height="11.51" fill="#f8f7fa"/>
<rect x="447.85" y="322.62" width="4.9" height="11.51" fill="#f8f7fa"/>
<rect x="453.65" y="322.62" width="4.9" height="11.51" fill="#eedaf0"/>
<rect x="459.45" y="322.62" width="4.9" height="11.51" fill="#eedaf0"/>
<rect x="465.25" y="322.62" width="4.9" height="11.51" fill="#f8f7fa"/>
<rect x="471.05" y="322.62" width="4.9" height="11.51" fill="#e7bde8"/>
<rect x="476.85" y="322.62" width="4.9" height="11.51" fill="#f3eef6"/>
<rect x="482.65" y="322.62" width="4.9" height="11.51" fill="#ebcdec"/>
<rect x="488.45" y="322.62" width="4.9" height="11.51" fill="#f8f7fa"/>
<rect x="494.25" y="322.62" width="4.9" height="11.51" fill="#f8f7fa"/>
<rect x="500.05" y="322.62" width="4.9" height="11.51" fill="#f8f7fa"/>
<rect x="505.85" y="322.62" width="4.9" height="11.51" fill="#f3eef6"/>
<rect x="511.65" y="322.62" width="4.9" height="11.51" fill="#eedaf0"/>
<rect x="517.45" y="322.62" width="4.9" height="11.51" fill="#f8f7fa"/>
<rect x="523.25" y="322.62" width="4.9" height="11.51" fill="#f8f7fa"/>
<rect x="529.05" y="322.62" width="4.9" height="11.51" fill="#eedaf0"/>
<rect x="534.85" y="322.62" width="4.9" height="11.51" fill="#f8f7fa"/>
<rect x="540.65" y="322.62" width="4.9" height="11.51" fill="#f8f7fa"/>
<rect x="546.45" y="322.62" width="4.9" height="11.51" fill="#e7bde8"/>
<rect x="58.4" y="335.03" width="11.7" height="11.51" fill="#f8ede4"/>
<text transform="translate(54.2 342.94) scale(1 1.1)" font-size="6" text-anchor="end" fill="#333333">TNF</text>
<text transform="translate(94.8 342.94) scale(1 1.1)" font-size="6" text-anchor="end" fill="#333333">TNF</text>
<rect x="99.85" y="335.03" width="4.9" height="11.51" fill="#ebcdec"/>
<rect x="105.65" y="335.03" width="4.9" height="11.51" fill="#d994d8"/>
<rect x="111.45" y="335.03" width="4.9" height="11.51" fill="#ebcdec"/>
<rect x="117.25" y="335.03" width="4.9" height="11.51" fill="#f8f7fa"/>
<rect x="123.05" y="335.03" width="4.9" height="11.51" fill="#f8f7fa"/>
<rect x="128.85" y="335.03" width="4.9" height="11.51" fill="#cf7bcd"/>
<rect x="134.65" y="335.03" width="4.9" height="11.51" fill="#f8f7fa"/>
<rect x="140.45" y="335.03" width="4.9" height="11.51" fill="#eedaf0"/>
<rect x="146.25" y="335.03" width="4.9" height="11.51" fill="#f8f7fa"/>
<rect x="152.05" y="335.03" width="4.9" height="11.51" fill="#ebcdec"/>
<rect x="157.85" y="335.03" width="4.9" height="11.51" fill="#ebcdec"/>
<rect x="163.65" y="335.03" width="4.9" height="11.51" fill="#ebcdec"/>
<rect x="169.45" y="335.03" width="4.9" height="11.51" fill="#eedaf0"/>
<rect x="175.25" y="335.03" width="4.9" height="11.51" fill="#e7bde8"/>
<rect x="181.05" y="335.03" width="4.9" height="11.51" fill="#f8f7fa"/>
<rect x="186.85" y="335.03" width="4.9" height="11.51" fill="#b84fb6"/>
<rect x="192.65" y="335.03" width="4.9" height="11.51" fill="#ebcdec"/>
<rect x="198.45" y="335.03" width="4.9" height="11.51" fill="#d994d8"/>
<rect x="204.25" y="335.03" width="4.9" height="11.51" fill="#ebcdec"/>
<rect x="210.05" y="335.03" width="4.9" height="11.51" fill="#ebcdec"/>
<rect x="215.85" y="335.03" width="4.9" height="11.51" fill="#f1e5f3"/>
<rect x="221.65" y="335.03" width="4.9" height="11.51" fill="#ebcdec"/>
<rect x="227.45" y="335.03" width="4.9" height="11.51" fill="#ebcdec"/>
<rect x="233.25" y="335.03" width="4.9" height="11.51" fill="#ebcdec"/>
<rect x="239.05" y="335.03" width="4.9" height="11.51" fill="#eedaf0"/>
<rect x="244.85" y="335.03" width="4.9" height="11.51" fill="#e1a9e1"/>
<rect x="250.65" y="335.03" width="4.9" height="11.51" fill="#f1e5f3"/>
<rect x="256.45" y="335.03" width="4.9" height="11.51" fill="#f8f7fa"/>
<rect x="262.25" y="335.03" width="4.9" height="11.51" fill="#ebcdec"/>
<rect x="268.05" y="335.03" width="4.9" height="11.51" fill="#ebcdec"/>
<rect x="273.85" y="335.03" width="4.9" height="11.51" fill="#f8f7fa"/>
<rect x="279.65" y="335.03" width="4.9" height="11.51" fill="#ebcdec"/>
<rect x="285.45" y="335.03" width="4.9" height="11.51" fill="#e7bde8"/>
<rect x="291.25" y="335.03" width="4.9" height="11.51" fill="#cf7bcd"/>
<rect x="297.05" y="335.03" width="4.9" height="11.51" fill="#c464c2"/>
<rect x="302.85" y="335.03" width="4.9" height="11.51" fill="#d994d8"/>
<rect x="308.65" y="335.03" width="4.9" height="11.51" fill="#ebcdec"/>
<rect x="314.45" y="335.03" width="4.9" height="11.51" fill="#f1e5f3"/>
<rect x="320.25" y="335.03" width="4.9" height="11.51" fill="#c464c2"/>
<rect x="326.05" y="335.03" width="4.9" height="11.51" fill="#f1e5f3"/>
<rect x="331.85" y="335.03" width="4.9" height="11.51" fill="#d994d8"/>
<rect x="337.65" y="335.03" width="4.9" height="11.51" fill="#eedaf0"/>
<rect x="343.45" y="335.03" width="4.9" height="11.51" fill="#ebcdec"/>
<rect x="349.25" y="335.03" width="4.9" height="11.51" fill="#e1a9e1"/>
<rect x="355.05" y="335.03" width="4.9" height="11.51" fill="#ebcdec"/>
<rect x="360.85" y="335.03" width="4.9" height="11.51" fill="#e1a9e1"/>
<rect x="366.65" y="335.03" width="4.9" height="11.51" fill="#ebcdec"/>
<rect x="372.45" y="335.03" width="4.9" height="11.51" fill="#ebcdec"/>
<rect x="378.25" y="335.03" width="4.9" height="11.51" fill="#ebcdec"/>
<rect x="384.05" y="335.03" width="4.9" height="11.51" fill="#f8f7fa"/>
<rect x="389.85" y="335.03" width="4.9" height="11.51" fill="#e1a9e1"/>
<rect x="395.65" y="335.03" width="4.9" height="11.51" fill="#d994d8"/>
<rect x="401.45" y="335.03" width="4.9" height="11.51" fill="#f8f7fa"/>
<rect x="407.25" y="335.03" width="4.9" height="11.51" fill="#f1e5f3"/>
<rect x="413.05" y="335.03" width="4.9" height="11.51" fill="#f8f7fa"/>
<rect x="418.85" y="335.03" width="4.9" height="11.51" fill="#ebcdec"/>
<rect x="424.65" y="335.03" width="4.9" height="11.51" fill="#eedaf0"/>
<rect x="430.45" y="335.03" width="4.9" height="11.51" fill="#f1e5f3"/>
<rect x="436.25" y="335.03" width="4.9" height="11.51" fill="#d994d8"/>
<rect x="442.05" y="335.03" width="4.9" height="11.51" fill="#e1a9e1"/>
<rect x="447.85" y="335.03" width="4.9" height="11.51" fill="#cf7bcd"/>
<rect x="453.65" y="335.03" width="4.9" height="11.51" fill="#c464c2"/>
<rect x="459.45" y="335.03" width="4.9" height="11.51" fill="#cf7bcd"/>
<rect x="465.25" y="335.03" width="4.9" height="11.51" fill="#d994d8"/>
<rect x="471.05" y="335.03" width="4.9" height="11.51" fill="#ebcdec"/>
<rect x="476.85" y="335.03" width="4.9" height="11.51" fill="#f8f7fa"/>
<rect x="482.65" y="335.03" width="4.9" height="11.51" fill="#eedaf0"/>
<rect x="488.45" y="335.03" width="4.9" height="11.51" fill="#eedaf0"/>
<rect x="494.25" y="335.03" width="4.9" height="11.51" fill="#ebcdec"/>
<rect x="500.05" y="335.03" width="4.9" height="11.51" fill="#e7bde8"/>
<rect x="505.85" y="335.03" width="4.9" height="11.51" fill="#e7bde8"/>
<rect x="511.65" y="335.03" width="4.9" height="11.51" fill="#f8f7fa"/>
<rect x="517.45" y="335.03" width="4.9" height="11.51" fill="#eedaf0"/>
<rect x="523.25" y="335.03" width="4.9" height="11.51" fill="#ebcdec"/>
<rect x="529.05" y="335.03" width="4.9" height="11.51" fill="#ebcdec"/>
<rect x="534.85" y="335.03" width="4.9" height="11.51" fill="#e1a9e1"/>
<rect x="540.65" y="335.03" width="4.9" height="11.51" fill="#eedaf0"/>
<rect x="546.45" y="335.03" width="4.9" height="11.51" fill="#f8f7fa"/>
<rect x="58.4" y="347.44" width="11.7" height="11.51" fill="#f6efe9"/>
<text transform="translate(54.2 355.34) scale(1 1.1)" font-size="6" text-anchor="end" fill="#333333">PTPRC</text>
<text transform="translate(94.8 355.34) scale(1 1.1)" font-size="6" text-anchor="end" fill="#333333">PTPRC</text>
<rect x="99.85" y="347.44" width="4.9" height="11.51" fill="#f1e5f3"/>
<rect x="105.65" y="347.44" width="4.9" height="11.51" fill="#f1e5f3"/>
<rect x="111.45" y="347.44" width="4.9" height="11.51" fill="#f8f7fa"/>
<rect x="117.25" y="347.44" width="4.9" height="11.51" fill="#f8f7fa"/>
<rect x="123.05" y="347.44" width="4.9" height="11.51" fill="#f8f7fa"/>
<rect x="128.85" y="347.44" width="4.9" height="11.51" fill="#f1e5f3"/>
<rect x="134.65" y="347.44" width="4.9" height="11.51" fill="#f8f7fa"/>
<rect x="140.45" y="347.44" width="4.9" height="11.51" fill="#f8f7fa"/>
<rect x="146.25" y="347.44" width="4.9" height="11.51" fill="#f8f7fa"/>
<rect x="152.05" y="347.44" width="4.9" height="11.51" fill="#f8f7fa"/>
<rect x="157.85" y="347.44" width="4.9" height="11.51" fill="#f8f7fa"/>
<rect x="163.65" y="347.44" width="4.9" height="11.51" fill="#f8f7fa"/>
<rect x="169.45" y="347.44" width="4.9" height="11.51" fill="#f8f7fa"/>
<rect x="175.25" y="347.44" width="4.9" height="11.51" fill="#f8f7fa"/>
<rect x="181.05" y="347.44" width="4.9" height="11.51" fill="#f8f7fa"/>
<rect x="186.85" y="347.44" width="4.9" height="11.51" fill="#f8f7fa"/>
<rect x="192.65" y="347.44" width="4.9" height="11.51" fill="#f8f7fa"/>
<rect x="198.45" y="347.44" width="4.9" height="11.51" fill="#f8f7fa"/>
<rect x="204.25" y="347.44" width="4.9" height="11.51" fill="#f8f7fa"/>
<rect x="210.05" y="347.44" width="4.9" height="11.51" fill="#ebcdec"/>
<rect x="215.85" y="347.44" width="4.9" height="11.51" fill="#f8f7fa"/>
<rect x="221.65" y="347.44" width="4.9" height="11.51" fill="#f8f7fa"/>
<rect x="227.45" y="347.44" width="4.9" height="11.51" fill="#f8f7fa"/>
<rect x="233.25" y="347.44" width="4.9" height="11.51" fill="#f8f7fa"/>
<rect x="239.05" y="347.44" width="4.9" height="11.51" fill="#f8f7fa"/>
<rect x="244.85" y="347.44" width="4.9" height="11.51" fill="#f8f7fa"/>
<rect x="250.65" y="347.44" width="4.9" height="11.51" fill="#f8f7fa"/>
<rect x="256.45" y="347.44" width="4.9" height="11.51" fill="#f8f7fa"/>
<rect x="262.25" y="347.44" width="4.9" height="11.51" fill="#f3eef6"/>
<rect x="268.05" y="347.44" width="4.9" height="11.51" fill="#f8f7fa"/>
<rect x="273.85" y="347.44" width="4.9" height="11.51" fill="#f8f7fa"/>
<rect x="279.65" y="347.44" width="4.9" height="11.51" fill="#f8f7fa"/>
<rect x="285.45" y="347.44" width="4.9" height="11.51" fill="#f8f7fa"/>
<rect x="291.25" y="347.44" width="4.9" height="11.51" fill="#f8f7fa"/>
<rect x="297.05" y="347.44" width="4.9" height="11.51" fill="#f8f7fa"/>
<rect x="302.85" y="347.44" width="4.9" height="11.51" fill="#f8f7fa"/>
<rect x="308.65" y="347.44" width="4.9" height="11.51" fill="#f8f7fa"/>
<rect x="314.45" y="347.44" width="4.9" height="11.51" fill="#f8f7fa"/>
<rect x="320.25" y="347.44" width="4.9" height="11.51" fill="#f8f7fa"/>
<rect x="326.05" y="347.44" width="4.9" height="11.51" fill="#f8f7fa"/>
<rect x="331.85" y="347.44" width="4.9" height="11.51" fill="#f8f7fa"/>
<rect x="337.65" y="347.44" width="4.9" height="11.51" fill="#f8f7fa"/>
<rect x="343.45" y="347.44" width="4.9" height="11.51" fill="#f8f7fa"/>
<rect x="349.25" y="347.44" width="4.9" height="11.51" fill="#f8f7fa"/>
<rect x="355.05" y="347.44" width="4.9" height="11.51" fill="#f3eef6"/>
<rect x="360.85" y="347.44" width="4.9" height="11.51" fill="#f3eef6"/>
<rect x="366.65" y="347.44" width="4.9" height="11.51" fill="#f8f7fa"/>
<rect x="372.45" y="347.44" width="4.9" height="11.51" fill="#f8f7fa"/>
<rect x="378.25" y="347.44" width="4.9" height="11.51" fill="#f8f7fa"/>
<rect x="384.05" y="347.44" width="4.9" height="11.51" fill="#f8f7fa"/>
<rect x="389.85" y="347.44" width="4.9" height="11.51" fill="#f8f7fa"/>
<rect x="395.65" y="347.44" width="4.9" height="11.51" fill="#f8f7fa"/>
<rect x="401.45" y="347.44" width="4.9" height="11.51" fill="#f8f7fa"/>
<rect x="407.25" y="347.44" width="4.9" height="11.51" fill="#f8f7fa"/>
<rect x="413.05" y="347.44" width="4.9" height="11.51" fill="#f8f7fa"/>
<rect x="418.85" y="347.44" width="4.9" height="11.51" fill="#f8f7fa"/>
<rect x="424.65" y="347.44" width="4.9" height="11.51" fill="#f8f7fa"/>
<rect x="430.45" y="347.44" width="4.9" height="11.51" fill="#f8f7fa"/>
<rect x="436.25" y="347.44" width="4.9" height="11.51" fill="#f8f7fa"/>
<rect x="442.05" y="347.44" width="4.9" height="11.51" fill="#f8f7fa"/>
<rect x="447.85" y="347.44" width="4.9" height="11.51" fill="#f8f7fa"/>
<rect x="453.65" y="347.44" width="4.9" height="11.51" fill="#f8f7fa"/>
<rect x="459.45" y="347.44" width="4.9" height="11.51" fill="#f8f7fa"/>
<rect x="465.25" y="347.44" width="4.9" height="11.51" fill="#f8f7fa"/>
<rect x="471.05" y="347.44" width="4.9" height="11.51" fill="#f8f7fa"/>
<rect x="476.85" y="347.44" width="4.9" height="11.51" fill="#f8f7fa"/>
<rect x="482.65" y="347.44" width="4.9" height="11.51" fill="#ebcdec"/>
<rect x="488.45" y="347.44" width="4.9" height="11.51" fill="#f8f7fa"/>
<rect x="494.25" y="347.44" width="4.9" height="11.51" fill="#f8f7fa"/>
<rect x="500.05" y="347.44" width="4.9" height="11.51" fill="#f8f7fa"/>
<rect x="505.85" y="347.44" width="4.9" height="11.51" fill="#f8f7fa"/>
<rect x="511.65" y="347.44" width="4.9" height="11.51" fill="#f8f7fa"/>
<rect x="517.45" y="347.44" width="4.9" height="11.51" fill="#f8f7fa"/>
<rect x="523.25" y="347.44" width="4.9" height="11.51" fill="#f8f7fa"/>
<rect x="529.05" y="347.44" width="4.9" height="11.51" fill="#f8f7fa"/>
<rect x="534.85" y="347.44" width="4.9" height="11.51" fill="#f8f7fa"/>
<rect x="540.65" y="347.44" width="4.9" height="11.51" fill="#f8f7fa"/>
<rect x="546.45" y="347.44" width="4.9" height="11.51" fill="#f8f7fa"/>
<rect x="58.4" y="359.85" width="11.7" height="11.51" fill="#f4f2f0"/>
<text transform="translate(54.2 367.75) scale(1 1.1)" font-size="6" text-anchor="end" fill="#333333">IL6</text>
<text transform="translate(94.8 367.75) scale(1 1.1)" font-size="6" text-anchor="end" fill="#333333">IL6</text>
<rect x="99.85" y="359.85" width="4.9" height="11.51" fill="#e7bde8"/>
<rect x="105.65" y="359.85" width="4.9" height="11.51" fill="#e7bde8"/>
<rect x="111.45" y="359.85" width="4.9" height="11.51" fill="#f8f7fa"/>
<rect x="117.25" y="359.85" width="4.9" height="11.51" fill="#f8f7fa"/>
<rect x="123.05" y="359.85" width="4.9" height="11.51" fill="#f8f7fa"/>
<rect x="128.85" y="359.85" width="4.9" height="11.51" fill="#e1a9e1"/>
<rect x="134.65" y="359.85" width="4.9" height="11.51" fill="#f8f7fa"/>
<rect x="140.45" y="359.85" width="4.9" height="11.51" fill="#f8f7fa"/>
<rect x="146.25" y="359.85" width="4.9" height="11.51" fill="#f8f7fa"/>
<rect x="152.05" y="359.85" width="4.9" height="11.51" fill="#f8f7fa"/>
<rect x="157.85" y="359.85" width="4.9" height="11.51" fill="#f8f7fa"/>
<rect x="163.65" y="359.85" width="4.9" height="11.51" fill="#f8f7fa"/>
<rect x="169.45" y="359.85" width="4.9" height="11.51" fill="#f8f7fa"/>
<rect x="175.25" y="359.85" width="4.9" height="11.51" fill="#f8f7fa"/>
<rect x="181.05" y="359.85" width="4.9" height="11.51" fill="#f8f7fa"/>
<rect x="186.85" y="359.85" width="4.9" height="11.51" fill="#f8f7fa"/>
<rect x="192.65" y="359.85" width="4.9" height="11.51" fill="#f8f7fa"/>
<rect x="198.45" y="359.85" width="4.9" height="11.51" fill="#f1e5f3"/>
<rect x="204.25" y="359.85" width="4.9" height="11.51" fill="#ebcdec"/>
<rect x="210.05" y="359.85" width="4.9" height="11.51" fill="#f3eef6"/>
<rect x="215.85" y="359.85" width="4.9" height="11.51" fill="#eedaf0"/>
<rect x="221.65" y="359.85" width="4.9" height="11.51" fill="#e7bde8"/>
<rect x="227.45" y="359.85" width="4.9" height="11.51" fill="#e7bde8"/>
<rect x="233.25" y="359.85" width="4.9" height="11.51" fill="#f3eef6"/>
<rect x="239.05" y="359.85" width="4.9" height="11.51" fill="#f8f7fa"/>
<rect x="244.85" y="359.85" width="4.9" height="11.51" fill="#f8f7fa"/>
<rect x="250.65" y="359.85" width="4.9" height="11.51" fill="#f8f7fa"/>
<rect x="256.45" y="359.85" width="4.9" height="11.51" fill="#e1a9e1"/>
<rect x="262.25" y="359.85" width="4.9" height="11.51" fill="#cf7bcd"/>
<rect x="268.05" y="359.85" width="4.9" height="11.51" fill="#f8f7fa"/>
<rect x="273.85" y="359.85" width="4.9" height="11.51" fill="#f8f7fa"/>
<rect x="279.65" y="359.85" width="4.9" height="11.51" fill="#f8f7fa"/>
<rect x="285.45" y="359.85" width="4.9" height="11.51" fill="#eedaf0"/>
<rect x="291.25" y="359.85" width="4.9" height="11.51" fill="#f8f7fa"/>
<rect x="297.05" y="359.85" width="4.9" height="11.51" fill="#f8f7fa"/>
<rect x="302.85" y="359.85" width="4.9" height="11.51" fill="#f8f7fa"/>
<rect x="308.65" y="359.85" width="4.9" height="11.51" fill="#eedaf0"/>
<rect x="314.45" y="359.85" width="4.9" height="11.51" fill="#e1a9e1"/>
<rect x="320.25" y="359.85" width="4.9" height="11.51" fill="#f3eef6"/>
<rect x="326.05" y="359.85" width="4.9" height="11.51" fill="#e7bde8"/>
<rect x="331.85" y="359.85" width="4.9" height="11.51" fill="#e1a9e1"/>
<rect x="337.65" y="359.85" width="4.9" height="11.51" fill="#f8f7fa"/>
<rect x="343.45" y="359.85" width="4.9" height="11.51" fill="#f8f7fa"/>
<rect x="349.25" y="359.85" width="4.9" height="11.51" fill="#f3eef6"/>
<rect x="355.05" y="359.85" width="4.9" height="11.51" fill="#ebcdec"/>
<rect x="360.85" y="359.85" width="4.9" height="11.51" fill="#f1e5f3"/>
<rect x="366.65" y="359.85" width="4.9" height="11.51" fill="#f8f7fa"/>
<rect x="372.45" y="359.85" width="4.9" height="11.51" fill="#f8f7fa"/>
<rect x="378.25" y="359.85" width="4.9" height="11.51" fill="#f8f7fa"/>
<rect x="384.05" y="359.85" width="4.9" height="11.51" fill="#f8f7fa"/>
<rect x="389.85" y="359.85" width="4.9" height="11.51" fill="#e7bde8"/>
<rect x="395.65" y="359.85" width="4.9" height="11.51" fill="#e7bde8"/>
<rect x="401.45" y="359.85" width="4.9" height="11.51" fill="#f3eef6"/>
<rect x="407.25" y="359.85" width="4.9" height="11.51" fill="#f3eef6"/>
<rect x="413.05" y="359.85" width="4.9" height="11.51" fill="#f8f7fa"/>
<rect x="418.85" y="359.85" width="4.9" height="11.51" fill="#e7bde8"/>
<rect x="424.65" y="359.85" width="4.9" height="11.51" fill="#f8f7fa"/>
<rect x="430.45" y="359.85" width="4.9" height="11.51" fill="#f8f7fa"/>
<rect x="436.25" y="359.85" width="4.9" height="11.51" fill="#f8f7fa"/>
<rect x="442.05" y="359.85" width="4.9" height="11.51" fill="#eedaf0"/>
<rect x="447.85" y="359.85" width="4.9" height="11.51" fill="#f8f7fa"/>
<rect x="453.65" y="359.85" width="4.9" height="11.51" fill="#e1a9e1"/>
<rect x="459.45" y="359.85" width="4.9" height="11.51" fill="#ebcdec"/>
<rect x="465.25" y="359.85" width="4.9" height="11.51" fill="#f8f7fa"/>
<rect x="471.05" y="359.85" width="4.9" height="11.51" fill="#e1a9e1"/>
<rect x="476.85" y="359.85" width="4.9" height="11.51" fill="#f3eef6"/>
<rect x="482.65" y="359.85" width="4.9" height="11.51" fill="#f8f7fa"/>
<rect x="488.45" y="359.85" width="4.9" height="11.51" fill="#e1a9e1"/>
<rect x="494.25" y="359.85" width="4.9" height="11.51" fill="#d994d8"/>
<rect x="500.05" y="359.85" width="4.9" height="11.51" fill="#cf7bcd"/>
<rect x="505.85" y="359.85" width="4.9" height="11.51" fill="#e1a9e1"/>
<rect x="511.65" y="359.85" width="4.9" height="11.51" fill="#e1a9e1"/>
<rect x="517.45" y="359.85" width="4.9" height="11.51" fill="#f8f7fa"/>
<rect x="523.25" y="359.85" width="4.9" height="11.51" fill="#f8f7fa"/>
<rect x="529.05" y="359.85" width="4.9" height="11.51" fill="#ebcdec"/>
<rect x="534.85" y="359.85" width="4.9" height="11.51" fill="#f8f7fa"/>
<rect x="540.65" y="359.85" width="4.9" height="11.51" fill="#f8f7fa"/>
<rect x="546.45" y="359.85" width="4.9" height="11.51" fill="#f8f7fa"/>
<rect x="58.4" y="372.26" width="11.7" height="11.51" fill="#f4f3f5"/>
<text transform="translate(54.2 380.16) scale(1 1.1)" font-size="6" text-anchor="end" fill="#333333">CCL5</text>
<text transform="translate(94.8 380.16) scale(1 1.1)" font-size="6" text-anchor="end" fill="#333333">CCL5</text>
<rect x="99.85" y="372.26" width="4.9" height="11.51" fill="#f8f7fa"/>
<rect x="105.65" y="372.26" width="4.9" height="11.51" fill="#f8f7fa"/>
<rect x="111.45" y="372.26" width="4.9" height="11.51" fill="#f8f7fa"/>
<rect x="117.25" y="372.26" width="4.9" height="11.51" fill="#f8f7fa"/>
<rect x="123.05" y="372.26" width="4.9" height="11.51" fill="#f8f7fa"/>
<rect x="128.85" y="372.26" width="4.9" height="11.51" fill="#f1e5f3"/>
<rect x="134.65" y="372.26" width="4.9" height="11.51" fill="#f8f7fa"/>
<rect x="140.45" y="372.26" width="4.9" height="11.51" fill="#f8f7fa"/>
<rect x="146.25" y="372.26" width="4.9" height="11.51" fill="#f8f7fa"/>
<rect x="152.05" y="372.26" width="4.9" height="11.51" fill="#f8f7fa"/>
<rect x="157.85" y="372.26" width="4.9" height="11.51" fill="#f8f7fa"/>
<rect x="163.65" y="372.26" width="4.9" height="11.51" fill="#f8f7fa"/>
<rect x="169.45" y="372.26" width="4.9" height="11.51" fill="#f8f7fa"/>
<rect x="175.25" y="372.26" width="4.9" height="11.51" fill="#f8f7fa"/>
<rect x="181.05" y="372.26" width="4.9" height="11.51" fill="#f8f7fa"/>
<rect x="186.85" y="372.26" width="4.9" height="11.51" fill="#f8f7fa"/>
<rect x="192.65" y="372.26" width="4.9" height="11.51" fill="#f8f7fa"/>
<rect x="198.45" y="372.26" width="4.9" height="11.51" fill="#f8f7fa"/>
<rect x="204.25" y="372.26" width="4.9" height="11.51" fill="#f8f7fa"/>
<rect x="210.05" y="372.26" width="4.9" height="11.51" fill="#ebcdec"/>
<rect x="215.85" y="372.26" width="4.9" height="11.51" fill="#f8f7fa"/>
<rect x="221.65" y="372.26" width="4.9" height="11.51" fill="#f8f7fa"/>
<rect x="227.45" y="372.26" width="4.9" height="11.51" fill="#f8f7fa"/>
<rect x="233.25" y="372.26" width="4.9" height="11.51" fill="#f8f7fa"/>
<rect x="239.05" y="372.26" width="4.9" height="11.51" fill="#f8f7fa"/>
<rect x="244.85" y="372.26" width="4.9" height="11.51" fill="#f8f7fa"/>
<rect x="250.65" y="372.26" width="4.9" height="11.51" fill="#f8f7fa"/>
<rect x="256.45" y="372.26" width="4.9" height="11.51" fill="#f8f7fa"/>
<rect x="262.25" y="372.26" width="4.9" height="11.51" fill="#f8f7fa"/>
<rect x="268.05" y="372.26" width="4.9" height="11.51" fill="#f8f7fa"/>
<rect x="273.85" y="372.26" width="4.9" height="11.51" fill="#f8f7fa"/>
<rect x="279.65" y="372.26" width="4.9" height="11.51" fill="#f8f7fa"/>
<rect x="285.45" y="372.26" width="4.9" height="11.51" fill="#f8f7fa"/>
<rect x="291.25" y="372.26" width="4.9" height="11.51" fill="#f8f7fa"/>
<rect x="297.05" y="372.26" width="4.9" height="11.51" fill="#f8f7fa"/>
<rect x="302.85" y="372.26" width="4.9" height="11.51" fill="#f8f7fa"/>
<rect x="308.65" y="372.26" width="4.9" height="11.51" fill="#f8f7fa"/>
<rect x="314.45" y="372.26" width="4.9" height="11.51" fill="#f8f7fa"/>
<rect x="320.25" y="372.26" width="4.9" height="11.51" fill="#f8f7fa"/>
<rect x="326.05" y="372.26" width="4.9" height="11.51" fill="#f8f7fa"/>
<rect x="331.85" y="372.26" width="4.9" height="11.51" fill="#f8f7fa"/>
<rect x="337.65" y="372.26" width="4.9" height="11.51" fill="#f8f7fa"/>
<rect x="343.45" y="372.26" width="4.9" height="11.51" fill="#f8f7fa"/>
<rect x="349.25" y="372.26" width="4.9" height="11.51" fill="#f8f7fa"/>
<rect x="355.05" y="372.26" width="4.9" height="11.51" fill="#f8f7fa"/>
<rect x="360.85" y="372.26" width="4.9" height="11.51" fill="#f3eef6"/>
<rect x="366.65" y="372.26" width="4.9" height="11.51" fill="#f8f7fa"/>
<rect x="372.45" y="372.26" width="4.9" height="11.51" fill="#f8f7fa"/>
<rect x="378.25" y="372.26" width="4.9" height="11.51" fill="#f8f7fa"/>
<rect x="384.05" y="372.26" width="4.9" height="11.51" fill="#f8f7fa"/>
<rect x="389.85" y="372.26" width="4.9" height="11.51" fill="#f8f7fa"/>
<rect x="395.65" y="372.26" width="4.9" height="11.51" fill="#f8f7fa"/>
<rect x="401.45" y="372.26" width="4.9" height="11.51" fill="#f8f7fa"/>
<rect x="407.25" y="372.26" width="4.9" height="11.51" fill="#f8f7fa"/>
<rect x="413.05" y="372.26" width="4.9" height="11.51" fill="#f8f7fa"/>
<rect x="418.85" y="372.26" width="4.9" height="11.51" fill="#f8f7fa"/>
<rect x="424.65" y="372.26" width="4.9" height="11.51" fill="#f8f7fa"/>
<rect x="430.45" y="372.26" width="4.9" height="11.51" fill="#f8f7fa"/>
<rect x="436.25" y="372.26" width="4.9" height="11.51" fill="#f8f7fa"/>
<rect x="442.05" y="372.26" width="4.9" height="11.51" fill="#f8f7fa"/>
<rect x="447.85" y="372.26" width="4.9" height="11.51" fill="#f8f7fa"/>
<rect x="453.65" y="372.26" width="4.9" height="11.51" fill="#f8f7fa"/>
<rect x="459.45" y="372.26" width="4.9" height="11.51" fill="#f8f7fa"/>
<rect x="465.25" y="372.26" width="4.9" height="11.51" fill="#f8f7fa"/>
<rect x="471.05" y="372.26" width="4.9" height="11.51" fill="#f8f7fa"/>
<rect x="476.85" y="372.26" width="4.9" height="11.51" fill="#f8f7fa"/>
<rect x="482.65" y="372.26" width="4.9" height="11.51" fill="#f8f7fa"/>
<rect x="488.45" y="372.26" width="4.9" height="11.51" fill="#f8f7fa"/>
<rect x="494.25" y="372.26" width="4.9" height="11.51" fill="#f8f7fa"/>
<rect x="500.05" y="372.26" width="4.9" height="11.51" fill="#f8f7fa"/>
<rect x="505.85" y="372.26" width="4.9" height="11.51" fill="#f8f7fa"/>
<rect x="511.65" y="372.26" width="4.9" height="11.51" fill="#f8f7fa"/>
<rect x="517.45" y="372.26" width="4.9" height="11.51" fill="#eedaf0"/>
<rect x="523.25" y="372.26" width="4.9" height="11.51" fill="#eedaf0"/>
<rect x="529.05" y="372.26" width="4.9" height="11.51" fill="#ebcdec"/>
<rect x="534.85" y="372.26" width="4.9" height="11.51" fill="#e7bde8"/>
<rect x="540.65" y="372.26" width="4.9" height="11.51" fill="#ebcdec"/>
<rect x="546.45" y="372.26" width="4.9" height="11.51" fill="#f8f7fa"/>
<rect x="58.4" y="384.67" width="11.7" height="11.51" fill="#f3f3f7"/>
<text transform="translate(54.2 392.57) scale(1 1.1)" font-size="6" text-anchor="end" fill="#333333">HLA.E</text>
<text transform="translate(94.8 392.57) scale(1 1.1)" font-size="6" text-anchor="end" fill="#333333">HLA.E</text>
<rect x="99.85" y="384.67" width="4.9" height="11.51" fill="#f8f7fa"/>
<rect x="105.65" y="384.67" width="4.9" height="11.51" fill="#f8f7fa"/>
<rect x="111.45" y="384.67" width="4.9" height="11.51" fill="#f8f7fa"/>
<rect x="117.25" y="384.67" width="4.9" height="11.51" fill="#f8f7fa"/>
<rect x="123.05" y="384.67" width="4.9" height="11.51" fill="#f8f7fa"/>
<rect x="128.85" y="384.67" width="4.9" height="11.51" fill="#f8f7fa"/>
<rect x="134.65" y="384.67" width="4.9" height="11.51" fill="#f8f7fa"/>
<rect x="140.45" y="384.67" width="4.9" height="11.51" fill="#f8f7fa"/>
<rect x="146.25" y="384.67" width="4.9" height="11.51" fill="#f8f7fa"/>
<rect x="152.05" y="384.67" width="4.9" height="11.51" fill="#f8f7fa"/>
<rect x="157.85" y="384.67" width="4.9" height="11.51" fill="#f8f7fa"/>
<rect x="163.65" y="384.67" width="4.9" height="11.51" fill="#f8f7fa"/>
<rect x="169.45" y="384.67" width="4.9" height="11.51" fill="#f8f7fa"/>
<rect x="175.25" y="384.67" width="4.9" height="11.51" fill="#f8f7fa"/>
<rect x="181.05" y="384.67" width="4.9" height="11.51" fill="#f8f7fa"/>
<rect x="186.85" y="384.67" width="4.9" height="11.51" fill="#f8f7fa"/>
<rect x="192.65" y="384.67" width="4.9" height="11.51" fill="#f8f7fa"/>
<rect x="198.45" y="384.67" width="4.9" height="11.51" fill="#f8f7fa"/>
<rect x="204.25" y="384.67" width="4.9" height="11.51" fill="#f8f7fa"/>
<rect x="210.05" y="384.67" width="4.9" height="11.51" fill="#f8f7fa"/>
<rect x="215.85" y="384.67" width="4.9" height="11.51" fill="#f8f7fa"/>
<rect x="221.65" y="384.67" width="4.9" height="11.51" fill="#f8f7fa"/>
<rect x="227.45" y="384.67" width="4.9" height="11.51" fill="#f8f7fa"/>
<rect x="233.25" y="384.67" width="4.9" height="11.51" fill="#f8f7fa"/>
<rect x="239.05" y="384.67" width="4.9" height="11.51" fill="#f8f7fa"/>
<rect x="244.85" y="384.67" width="4.9" height="11.51" fill="#f8f7fa"/>
<rect x="250.65" y="384.67" width="4.9" height="11.51" fill="#f8f7fa"/>
<rect x="256.45" y="384.67" width="4.9" height="11.51" fill="#f8f7fa"/>
<rect x="262.25" y="384.67" width="4.9" height="11.51" fill="#f8f7fa"/>
<rect x="268.05" y="384.67" width="4.9" height="11.51" fill="#f8f7fa"/>
<rect x="273.85" y="384.67" width="4.9" height="11.51" fill="#f8f7fa"/>
<rect x="279.65" y="384.67" width="4.9" height="11.51" fill="#f8f7fa"/>
<rect x="285.45" y="384.67" width="4.9" height="11.51" fill="#f8f7fa"/>
<rect x="291.25" y="384.67" width="4.9" height="11.51" fill="#f8f7fa"/>
<rect x="297.05" y="384.67" width="4.9" height="11.51" fill="#f8f7fa"/>
<rect x="302.85" y="384.67" width="4.9" height="11.51" fill="#f8f7fa"/>
<rect x="308.65" y="384.67" width="4.9" height="11.51" fill="#f8f7fa"/>
<rect x="314.45" y="384.67" width="4.9" height="11.51" fill="#f8f7fa"/>
<rect x="320.25" y="384.67" width="4.9" height="11.51" fill="#f8f7fa"/>
<rect x="326.05" y="384.67" width="4.9" height="11.51" fill="#f8f7fa"/>
<rect x="331.85" y="384.67" width="4.9" height="11.51" fill="#f8f7fa"/>
<rect x="337.65" y="384.67" width="4.9" height="11.51" fill="#f8f7fa"/>
<rect x="343.45" y="384.67" width="4.9" height="11.51" fill="#f8f7fa"/>
<rect x="349.25" y="384.67" width="4.9" height="11.51" fill="#f8f7fa"/>
<rect x="355.05" y="384.67" width="4.9" height="11.51" fill="#f8f7fa"/>
<rect x="360.85" y="384.67" width="4.9" height="11.51" fill="#f8f7fa"/>
<rect x="366.65" y="384.67" width="4.9" height="11.51" fill="#f8f7fa"/>
<rect x="372.45" y="384.67" width="4.9" height="11.51" fill="#f8f7fa"/>
<rect x="378.25" y="384.67" width="4.9" height="11.51" fill="#f8f7fa"/>
<rect x="384.05" y="384.67" width="4.9" height="11.51" fill="#f8f7fa"/>
<rect x="389.85" y="384.67" width="4.9" height="11.51" fill="#f8f7fa"/>
<rect x="395.65" y="384.67" width="4.9" height="11.51" fill="#f8f7fa"/>
<rect x="401.45" y="384.67" width="4.9" height="11.51" fill="#f8f7fa"/>
<rect x="407.25" y="384.67" width="4.9" height="11.51" fill="#f8f7fa"/>
<rect x="413.05" y="384.67" width="4.9" height="11.51" fill="#f8f7fa"/>
<rect x="418.85" y="384.67" width="4.9" height="11.51" fill="#f8f7fa"/>
<rect x="424.65" y="384.67" width="4.9" height="11.51" fill="#f8f7fa"/>
<rect x="430.45" y="384.67" width="4.9" height="11.51" fill="#f8f7fa"/>
<rect x="436.25" y="384.67" width="4.9" height="11.51" fill="#f8f7fa"/>
<rect x="442.05" y="384.67" width="4.9" height="11.51" fill="#f8f7fa"/>
<rect x="447.85" y="384.67" width="4.9" height="11.51" fill="#f8f7fa"/>
<rect x="453.65" y="384.67" width="4.9" height="11.51" fill="#f8f7fa"/>
<rect x="459.45" y="384.67" width="4.9" height="11.51" fill="#f8f7fa"/>
<rect x="465.25" y="384.67" width="4.9" height="11.51" fill="#f8f7fa"/>
<rect x="471.05" y="384.67" width="4.9" height="11.51" fill="#f8f7fa"/>
<rect x="476.85" y="384.67" width="4.9" height="11.51" fill="#f8f7fa"/>
<rect x="482.65" y="384.67" width="4.9" height="11.51" fill="#f8f7fa"/>
<rect x="488.45" y="384.67" width="4.9" height="11.51" fill="#f8f7fa"/>
<rect x="494.25" y="384.67" width="4.9" height="11.51" fill="#f8f7fa"/>
<rect x="500.05" y="384.67" width="4.9" height="11.51" fill="#f8f7fa"/>
<rect x="505.85" y="384.67" width="4.9" height="11.51" fill="#f8f7fa"/>
<rect x="511.65" y="384.67" width="4.9" height="11.51" fill="#f8f7fa"/>
<rect x="517.45" y="384.67" width="4.9" height="11.51" fill="#f8f7fa"/>
<rect x="523.25" y="384.67" width="4.9" height="11.51" fill="#f8f7fa"/>
<rect x="529.05" y="384.67" width="4.9" height="11.51" fill="#f8f7fa"/>
<rect x="534.85" y="384.67" width="4.9" height="11.51" fill="#f8f7fa"/>
<rect x="540.65" y="384.67" width="4.9" height="11.51" fill="#f8f7fa"/>
<rect x="546.45" y="384.67" width="4.9" height="11.51" fill="#ebcdec"/>
<text transform="translate(103.9 230.3) rotate(-90) scale(1 1.1)" font-size="5.9" font-style="italic" fill="#333333">BCL2</text>
<text transform="translate(109.7 230.3) rotate(-90) scale(1 1.1)" font-size="5.9" font-style="italic" fill="#333333">EGR1</text>
<text transform="translate(115.5 230.3) rotate(-90) scale(1 1.1)" font-size="5.9" font-style="italic" fill="#333333">FASLG</text>
<text transform="translate(121.3 230.3) rotate(-90) scale(1 1.1)" font-size="5.9" font-style="italic" fill="#333333">FCRL6</text>
<text transform="translate(127.1 230.3) rotate(-90) scale(1 1.1)" font-size="5.9" font-style="italic" fill="#333333">FGFBP2</text>
<text transform="translate(132.9 230.3) rotate(-90) scale(1 1.1)" font-size="5.9" font-style="italic" fill="#333333">FOS</text>
<text transform="translate(138.7 230.3) rotate(-90) scale(1 1.1)" font-size="5.9" font-style="italic" fill="#333333">HLA.DPB1</text>
<text transform="translate(144.5 230.3) rotate(-90) scale(1 1.1)" font-size="5.9" font-style="italic" fill="#333333">ICOS</text>
<text transform="translate(150.3 230.3) rotate(-90) scale(1 1.1)" font-size="5.9" font-style="italic" fill="#333333">NCR3</text>
<text transform="translate(156.1 230.3) rotate(-90) scale(1 1.1)" font-size="5.9" font-style="italic" fill="#333333">PCNA</text>
<text transform="translate(161.9 230.3) rotate(-90) scale(1 1.1)" font-size="5.9" font-style="italic" fill="#333333">ALOX5AP</text>
<text transform="translate(167.7 230.3) rotate(-90) scale(1 1.1)" font-size="5.9" font-style="italic" fill="#333333">CD74</text>
<text transform="translate(173.5 230.3) rotate(-90) scale(1 1.1)" font-size="5.9" font-style="italic" fill="#333333">GIMAP1</text>
<text transform="translate(179.3 230.3) rotate(-90) scale(1 1.1)" font-size="5.9" font-style="italic" fill="#333333">HLA.DRB1</text>
<text transform="translate(185.1 230.3) rotate(-90) scale(1 1.1)" font-size="5.9" font-style="italic" fill="#333333">HLA.DRA</text>
<text transform="translate(190.9 230.3) rotate(-90) scale(1 1.1)" font-size="5.9" font-style="italic" fill="#333333">IRF7</text>
<text transform="translate(196.7 230.3) rotate(-90) scale(1 1.1)" font-size="5.9" font-style="italic" fill="#333333">ITGAL</text>
<text transform="translate(202.5 230.3) rotate(-90) scale(1 1.1)" font-size="5.9" font-style="italic" fill="#333333">PMAIP1</text>
<text transform="translate(208.3 230.3) rotate(-90) scale(1 1.1)" font-size="5.9" font-style="italic" fill="#333333">TIMP1</text>
<text transform="translate(214.1 230.3) rotate(-90) scale(1 1.1)" font-size="5.9" font-style="italic" fill="#333333">TNF</text>
<text transform="translate(219.9 230.3) rotate(-90) scale(1 1.1)" font-size="5.9" font-style="italic" fill="#333333">CCL4</text>
<text transform="translate(225.7 230.3) rotate(-90) scale(1 1.1)" font-size="5.9" font-style="italic" fill="#333333">CD8A</text>
<text transform="translate(231.5 230.3) rotate(-90) scale(1 1.1)" font-size="5.9" font-style="italic" fill="#333333">CEBPD</text>
<text transform="translate(237.3 230.3) rotate(-90) scale(1 1.1)" font-size="5.9" font-style="italic" fill="#333333">GADD45B</text>
<text transform="translate(243.1 230.3) rotate(-90) scale(1 1.1)" font-size="5.9" font-style="italic" fill="#333333">GZMB</text>
<text transform="translate(248.9 230.3) rotate(-90) scale(1 1.1)" font-size="5.9" font-style="italic" fill="#333333">IFIH1</text>
<text transform="translate(254.7 230.3) rotate(-90) scale(1 1.1)" font-size="5.9" font-style="italic" fill="#333333">LY6E</text>
<text transform="translate(260.5 230.3) rotate(-90) scale(1 1.1)" font-size="5.9" font-style="italic" fill="#333333">PLSCR1</text>
<text transform="translate(266.3 230.3) rotate(-90) scale(1 1.1)" font-size="5.9" font-style="italic" fill="#333333">SOCS3</text>
<text transform="translate(272.1 230.3) rotate(-90) scale(1 1.1)" font-size="5.9" font-style="italic" fill="#333333">UGCG</text>
<text transform="translate(277.9 230.3) rotate(-90) scale(1 1.1)" font-size="5.9" font-style="italic" fill="#333333">VAMP5</text>
<text transform="translate(283.7 230.3) rotate(-90) scale(1 1.1)" font-size="5.9" font-style="italic" fill="#333333">CDK2</text>
<text transform="translate(289.5 230.3) rotate(-90) scale(1 1.1)" font-size="5.9" font-style="italic" fill="#333333">CSF1</text>
<text transform="translate(295.3 230.3) rotate(-90) scale(1 1.1)" font-size="5.9" font-style="italic" fill="#333333">DDX58</text>
<text transform="translate(301.1 230.3) rotate(-90) scale(1 1.1)" font-size="5.9" font-style="italic" fill="#333333">GBP1</text>
<text transform="translate(306.9 230.3) rotate(-90) scale(1 1.1)" font-size="5.9" font-style="italic" fill="#333333">IL32</text>
<text transform="translate(312.7 230.3) rotate(-90) scale(1 1.1)" font-size="5.9" font-style="italic" fill="#333333">JUN</text>
<text transform="translate(318.5 230.3) rotate(-90) scale(1 1.1)" font-size="5.9" font-style="italic" fill="#333333">MT1X</text>
<text transform="translate(324.3 230.3) rotate(-90) scale(1 1.1)" font-size="5.9" font-style="italic" fill="#333333">NFKBIA</text>
<text transform="translate(330.1 230.3) rotate(-90) scale(1 1.1)" font-size="5.9" font-style="italic" fill="#333333">SAT1</text>
<text transform="translate(335.9 230.3) rotate(-90) scale(1 1.1)" font-size="5.9" font-style="italic" fill="#333333">JUNB</text>
<text transform="translate(341.7 230.3) rotate(-90) scale(1 1.1)" font-size="5.9" font-style="italic" fill="#333333">PMEPA1</text>
<text transform="translate(347.5 230.3) rotate(-90) scale(1 1.1)" font-size="5.9" font-style="italic" fill="#333333">TAGLN</text>
<text transform="translate(353.3 230.3) rotate(-90) scale(1 1.1)" font-size="5.9" font-style="italic" fill="#333333">ATF3</text>
<text transform="translate(359.1 230.3) rotate(-90) scale(1 1.1)" font-size="5.9" font-style="italic" fill="#333333">BCL2L1</text>
<text transform="translate(364.9 230.3) rotate(-90) scale(1 1.1)" font-size="5.9" font-style="italic" fill="#333333">CDKN1A</text>
<text transform="translate(370.7 230.3) rotate(-90) scale(1 1.1)" font-size="5.9" font-style="italic" fill="#333333">DDX60</text>
<text transform="translate(376.5 230.3) rotate(-90) scale(1 1.1)" font-size="5.9" font-style="italic" fill="#333333">ISG15</text>
<text transform="translate(382.3 230.3) rotate(-90) scale(1 1.1)" font-size="5.9" font-style="italic" fill="#333333">OAS2</text>
<text transform="translate(388.1 230.3) rotate(-90) scale(1 1.1)" font-size="5.9" font-style="italic" fill="#333333">PML</text>
<text transform="translate(393.9 230.3) rotate(-90) scale(1 1.1)" font-size="5.9" font-style="italic" fill="#333333">STAT1</text>
<text transform="translate(399.7 230.3) rotate(-90) scale(1 1.1)" font-size="5.9" font-style="italic" fill="#333333">TXNIP</text>
<text transform="translate(405.5 230.3) rotate(-90) scale(1 1.1)" font-size="5.9" font-style="italic" fill="#333333">CCND3</text>
<text transform="translate(411.3 230.3) rotate(-90) scale(1 1.1)" font-size="5.9" font-style="italic" fill="#333333">ID2</text>
<text transform="translate(417.1 230.3) rotate(-90) scale(1 1.1)" font-size="5.9" font-style="italic" fill="#333333">PRF1</text>
<text transform="translate(422.9 230.3) rotate(-90) scale(1 1.1)" font-size="5.9" font-style="italic" fill="#333333">AHR</text>
<text transform="translate(428.7 230.3) rotate(-90) scale(1 1.1)" font-size="5.9" font-style="italic" fill="#333333">CD69</text>
<text transform="translate(434.5 230.3) rotate(-90) scale(1 1.1)" font-size="5.9" font-style="italic" fill="#333333">SLC7A5</text>
<text transform="translate(440.3 230.3) rotate(-90) scale(1 1.1)" font-size="5.9" font-style="italic" fill="#333333">BCL2A1</text>
<text transform="translate(446.1 230.3) rotate(-90) scale(1 1.1)" font-size="5.9" font-style="italic" fill="#333333">BCL3</text>
<text transform="translate(451.9 230.3) rotate(-90) scale(1 1.1)" font-size="5.9" font-style="italic" fill="#333333">CFLAR</text>
<text transform="translate(457.7 230.3) rotate(-90) scale(1 1.1)" font-size="5.9" font-style="italic" fill="#333333">GBP2</text>
<text transform="translate(463.5 230.3) rotate(-90) scale(1 1.1)" font-size="5.9" font-style="italic" fill="#333333">IFNGR1</text>
<text transform="translate(469.3 230.3) rotate(-90) scale(1 1.1)" font-size="5.9" font-style="italic" fill="#333333">STAT5A</text>
<text transform="translate(475.1 230.3) rotate(-90) scale(1 1.1)" font-size="5.9" font-style="italic" fill="#333333">BHLHE40</text>
<text transform="translate(480.9 230.3) rotate(-90) scale(1 1.1)" font-size="5.9" font-style="italic" fill="#333333">DDIT3</text>
<text transform="translate(486.7 230.3) rotate(-90) scale(1 1.1)" font-size="5.9" font-style="italic" fill="#333333">SELL</text>
<text transform="translate(492.5 230.3) rotate(-90) scale(1 1.1)" font-size="5.9" font-style="italic" fill="#333333">CXCR4</text>
<text transform="translate(498.3 230.3) rotate(-90) scale(1 1.1)" font-size="5.9" font-style="italic" fill="#333333">HIF1A</text>
<text transform="translate(504.1 230.3) rotate(-90) scale(1 1.1)" font-size="5.9" font-style="italic" fill="#333333">HLA.C</text>
<text transform="translate(509.9 230.3) rotate(-90) scale(1 1.1)" font-size="5.9" font-style="italic" fill="#333333">IFI35</text>
<text transform="translate(515.7 230.3) rotate(-90) scale(1 1.1)" font-size="5.9" font-style="italic" fill="#333333">RAB27A</text>
<text transform="translate(521.5 230.3) rotate(-90) scale(1 1.1)" font-size="5.9" font-style="italic" fill="#333333">ICAM1</text>
<text transform="translate(527.3 230.3) rotate(-90) scale(1 1.1)" font-size="5.9" font-style="italic" fill="#333333">ITGB2</text>
<text transform="translate(533.1 230.3) rotate(-90) scale(1 1.1)" font-size="5.9" font-style="italic" fill="#333333">LDLR</text>
<text transform="translate(538.9 230.3) rotate(-90) scale(1 1.1)" font-size="5.9" font-style="italic" fill="#333333">SOD1</text>
<text transform="translate(544.7 230.3) rotate(-90) scale(1 1.1)" font-size="5.9" font-style="italic" fill="#333333">XCL2</text>
<text transform="translate(550.5 230.3) rotate(-90) scale(1 1.1)" font-size="5.9" font-style="italic" fill="#333333">KLRC1</text>
<text transform="translate(24.4 316) rotate(-90) scale(1 1.1)" font-size="5.8" text-anchor="middle" fill="#333333">Prioritized ligands</text>
<text transform="translate(577.3 233.8) scale(1 1.1)" font-size="7.3" fill="#333333">AUPR</text>
<text transform="translate(577.3 242.5) scale(1 1.1)" font-size="7.3" fill="#333333">(target gene prediction ability)</text>
<defs><linearGradient id="og" x1="0" x2="1" y1="0" y2="0"><stop offset="0" stop-color="#fbf8f6"/><stop offset="0.5" stop-color="#f8cfa3"/><stop offset="1" stop-color="#f0921f"/></linearGradient><linearGradient id="pg" x1="0" x2="1" y1="0" y2="0"><stop offset="0" stop-color="#f8f5f9"/><stop offset="0.5" stop-color="#e3b2e4"/><stop offset="1" stop-color="#ac37a9"/></linearGradient></defs>
<rect x="581.2" y="248.6" width="52.2" height="10.2" fill="url(#og)"/>
<line x1="582.7" y1="256.8" x2="582.7" y2="258.8" stroke="#fff" stroke-width="0.5"/>
<line x1="600.5" y1="256.8" x2="600.5" y2="258.8" stroke="#fff" stroke-width="0.5"/>
<line x1="617.9" y1="256.8" x2="617.9" y2="258.8" stroke="#fff" stroke-width="0.5"/>
<text transform="translate(582.7 266.2) scale(1 1.1)" font-size="5.8" text-anchor="middle" fill="#333333">0.105</text>
<text transform="translate(600.5 266.2) scale(1 1.1)" font-size="5.8" text-anchor="middle" fill="#333333">0.115</text>
<text transform="translate(617.9 266.2) scale(1 1.1)" font-size="5.8" text-anchor="middle" fill="#333333">0.125</text>
<text transform="translate(577.6 297.7) scale(1 1.1)" font-size="7.3" fill="#333333">Regulatory potential</text>
<rect x="582.1" y="302.9" width="52.7" height="10" fill="url(#pg)"/>
<line x1="582.9" y1="310.9" x2="582.9" y2="312.9" stroke="#fff" stroke-width="0.5"/>
<text transform="translate(582.9 319.1) scale(1 1.1)" font-size="5.8" text-anchor="middle" fill="#333333">0.0</text>
<line x1="600.2" y1="310.9" x2="600.2" y2="312.9" stroke="#fff" stroke-width="0.5"/>
<text transform="translate(600.2 319.1) scale(1 1.1)" font-size="5.8" text-anchor="middle" fill="#333333">0.1</text>
<line x1="617.4" y1="310.9" x2="617.4" y2="312.9" stroke="#fff" stroke-width="0.5"/>
<text transform="translate(617.4 319.1) scale(1 1.1)" font-size="5.8" text-anchor="middle" fill="#333333">0.2</text>
<line x1="634.4" y1="310.9" x2="634.4" y2="312.9" stroke="#fff" stroke-width="0.5"/>
<text transform="translate(634.4 319.1) scale(1 1.1)" font-size="5.8" text-anchor="middle" fill="#333333">0.3</text>
<text transform="translate(-0.6 414.9)" font-size="14" font-weight="bold">d</text>
<line x1="33.9" y1="469.4" x2="278.8" y2="469.4" stroke="#555" stroke-width="0.8"/>
<line x1="45.5" y1="469.4" x2="45.5" y2="424.5" stroke="#aaa" stroke-width="0.8"/>
<line x1="65.6" y1="469.4" x2="65.6" y2="431.7" stroke="#666" stroke-width="0.8"/>
<line x1="85.7" y1="469.4" x2="85.7" y2="437.7" stroke="#666" stroke-width="0.8"/>
<line x1="105.8" y1="469.4" x2="105.8" y2="443.4" stroke="#888" stroke-width="0.8"/>
<line x1="125.9" y1="469.4" x2="125.9" y2="456.3" stroke="#888" stroke-width="0.8"/>
<line x1="166.1" y1="469.4" x2="166.1" y2="473.5" stroke="#888" stroke-width="0.8"/>
<line x1="186.2" y1="469.4" x2="186.2" y2="475.6" stroke="#666" stroke-width="0.8"/>
<line x1="206.3" y1="469.4" x2="206.3" y2="478.2" stroke="#666" stroke-width="0.8"/>
<line x1="226.4" y1="469.4" x2="226.4" y2="483.1" stroke="#777" stroke-width="0.8"/>
<line x1="246.5" y1="469.4" x2="246.5" y2="506.5" stroke="#666" stroke-width="0.8"/>
<line x1="266.6" y1="469.4" x2="266.6" y2="525.2" stroke="#c4c4c4" stroke-width="0.8"/>
<circle cx="45.5" cy="424.5" r="5.9" fill="#f9b0b0"/>
<circle cx="65.6" cy="431.7" r="4.8" fill="#f7cfdf"/>
<circle cx="85.7" cy="437.7" r="3.9" fill="#f3b26b"/>
<circle cx="105.8" cy="443.4" r="3.7" fill="#c28fd6"/>
<circle cx="125.9" cy="456.3" r="2.8" fill="#a0d3e0"/>
<circle cx="146" cy="470.9" r="1.3" fill="#f7e8a3"/>
<circle cx="166.1" cy="473.5" r="2.1" fill="#cfe8d2"/>
<circle cx="186.2" cy="475.6" r="2.5" fill="#ef8a8a"/>
<circle cx="206.3" cy="478.2" r="2.9" fill="#8fb5e0"/>
<circle cx="226.4" cy="483.1" r="3.1" fill="#c6c4ec"/>
<circle cx="246.5" cy="506.5" r="4.7" fill="#f6d67a"/>
<circle cx="266.6" cy="525.2" r="6.3" fill="#e7e7b2"/>
<rect x="33.9" y="419.3" width="244.9" height="111" fill="none" stroke="#333" stroke-width="0.9"/>
<line x1="30.6" y1="443.4" x2="33.9" y2="443.4" stroke="#333" stroke-width="0.8"/>
<text transform="translate(28.6 446) scale(1 1.1)" font-size="7.4" text-anchor="end" fill="#333333">0.3</text>
<line x1="30.6" y1="469.4" x2="33.9" y2="469.4" stroke="#333" stroke-width="0.8"/>
<text transform="translate(28.6 472) scale(1 1.1)" font-size="7.4" text-anchor="end" fill="#333333">0.0</text>
<line x1="30.6" y1="495.2" x2="33.9" y2="495.2" stroke="#333" stroke-width="0.8"/>
<text transform="translate(28.6 497.8) scale(1 1.1)" font-size="7.4" text-anchor="end" fill="#333333">−0.3</text>
<line x1="30.6" y1="521.1" x2="33.9" y2="521.1" stroke="#333" stroke-width="0.8"/>
<text transform="translate(28.6 523.7) scale(1 1.1)" font-size="7.4" text-anchor="end" fill="#333333">−0.6</text>
<line x1="45.5" y1="530.3" x2="45.5" y2="533.1" stroke="#333" stroke-width="0.8"/>
<text transform="translate(49.3 540.4) rotate(-45) scale(1 1.1)" font-size="7.5" text-anchor="end" fill="#333333">CD8-PDCD1</text>
<line x1="65.6" y1="530.3" x2="65.6" y2="533.1" stroke="#333" stroke-width="0.8"/>
<text transform="translate(69.4 540.4) rotate(-45) scale(1 1.1)" font-size="7.5" text-anchor="end" fill="#333333">CD8-ISG15</text>
<line x1="85.7" y1="530.3" x2="85.7" y2="533.1" stroke="#333" stroke-width="0.8"/>
<text transform="translate(89.5 540.4) rotate(-45) scale(1 1.1)" font-size="7.5" text-anchor="end" fill="#333333">CD4-Foxp3</text>
<line x1="105.8" y1="530.3" x2="105.8" y2="533.1" stroke="#333" stroke-width="0.8"/>
<text transform="translate(109.6 540.4) rotate(-45) scale(1 1.1)" font-size="7.5" text-anchor="end" fill="#333333">CD8-MKI67</text>
<line x1="125.9" y1="530.3" x2="125.9" y2="533.1" stroke="#333" stroke-width="0.8"/>
<text transform="translate(129.7 540.4) rotate(-45) scale(1 1.1)" font-size="7.5" text-anchor="end" fill="#333333">CD4-CXCL13</text>
<line x1="146" y1="530.3" x2="146" y2="533.1" stroke="#333" stroke-width="0.8"/>
<text transform="translate(149.8 540.4) rotate(-45) scale(1 1.1)" font-size="7.5" text-anchor="end" fill="#333333">Uncharacterized</text>
<line x1="166.1" y1="530.3" x2="166.1" y2="533.1" stroke="#333" stroke-width="0.8"/>
<text transform="translate(169.9 540.4) rotate(-45) scale(1 1.1)" font-size="7.5" text-anchor="end" fill="#333333">NKT</text>
<line x1="186.2" y1="530.3" x2="186.2" y2="533.1" stroke="#333" stroke-width="0.8"/>
<text transform="translate(190 540.4) rotate(-45) scale(1 1.1)" font-size="7.5" text-anchor="end" fill="#333333">CD8-GZMK</text>
<line x1="206.3" y1="530.3" x2="206.3" y2="533.1" stroke="#333" stroke-width="0.8"/>
<text transform="translate(210.1 540.4) rotate(-45) scale(1 1.1)" font-size="7.5" text-anchor="end" fill="#333333">CD4-CCR7</text>
<line x1="226.4" y1="530.3" x2="226.4" y2="533.1" stroke="#333" stroke-width="0.8"/>
<text transform="translate(230.2 540.4) rotate(-45) scale(1 1.1)" font-size="7.5" text-anchor="end" fill="#333333">CD4-RORA</text>
<line x1="246.5" y1="530.3" x2="246.5" y2="533.1" stroke="#333" stroke-width="0.8"/>
<text transform="translate(250.3 540.4) rotate(-45) scale(1 1.1)" font-size="7.5" text-anchor="end" fill="#333333">CD8-XCL1</text>
<line x1="266.6" y1="530.3" x2="266.6" y2="533.1" stroke="#333" stroke-width="0.8"/>
<text transform="translate(270.4 540.4) rotate(-45) scale(1 1.1)" font-size="7.5" text-anchor="end" fill="#333333">CD8-CX3CR1</text>
<text transform="translate(294.2 445.8) scale(1 1.1)" font-size="7.3" fill="#333333">–log10 (<tspan font-style="italic">P</tspan>value)</text>
<circle cx="301.1" cy="454.3" r="3.9" fill="#e77585"/>
<text transform="translate(309.8 456.8) scale(1 1.1)" font-size="7" fill="#333333">0.5</text>
<circle cx="301.1" cy="463.7" r="4.7" fill="#e77585"/>
<text transform="translate(309.8 466.2) scale(1 1.1)" font-size="7" fill="#333333">1.0</text>
<circle cx="301.1" cy="475.2" r="5.4" fill="#e77585"/>
<text transform="translate(309.8 477.7) scale(1 1.1)" font-size="7" fill="#333333">1.5</text>
<circle cx="301.1" cy="488.5" r="5.9" fill="#e77585"/>
<text transform="translate(309.8 491) scale(1 1.1)" font-size="7" fill="#333333">2.0</text>
<circle cx="301.1" cy="503.1" r="6.4" fill="#e77585"/>
<text transform="translate(309.8 505.6) scale(1 1.1)" font-size="7" fill="#333333">2.5</text>
<text transform="translate(356.4 414.9)" font-size="14" font-weight="bold">e</text>
<path d="M390.5 492.5 L395.67 491.34 L400.83 490.03 L406 488.59 L411.16 487 L416.32 485.27 L421.49 483.41 L426.66 481.4 L431.82 479.25 L436.99 476.97 L442.15 474.54 L447.31 471.97 L452.48 469.21 L457.64 466.2 L462.81 462.96 L467.98 459.48 L473.14 455.76 L478.31 451.81 L483.47 447.61 L488.63 443.17 L493.8 438.5 L493.8 475.3 L488.63 475.89 L483.47 476.71 L478.31 477.77 L473.14 479.08 L467.98 480.62 L462.81 482.4 L457.64 484.42 L452.48 486.67 L447.31 489.17 L442.15 491.86 L436.99 494.69 L431.82 497.67 L426.66 500.78 L421.49 504.03 L416.32 507.43 L411.16 510.96 L406 514.63 L400.83 518.45 L395.67 522.4 L390.5 526.5 Z" fill="#fdd3d3"/>
<line x1="390.5" y1="509.5" x2="493.8" y2="456.9" stroke="#111" stroke-width="1.2"/>
<circle cx="454" cy="423.4" r="2.05" fill="#ef8b82" stroke="#222" stroke-width="0.55"/>
<circle cx="456.9" cy="426.7" r="2.05" fill="#ef8b82" stroke="#222" stroke-width="0.55"/>
<circle cx="434.7" cy="449.5" r="2.05" fill="#ef8b82" stroke="#222" stroke-width="0.55"/>
<circle cx="476.1" cy="449" r="2.05" fill="#ef8b82" stroke="#222" stroke-width="0.55"/>
<circle cx="464.5" cy="459.3" r="2.05" fill="#ef8b82" stroke="#222" stroke-width="0.55"/>
<circle cx="468" cy="459.3" r="2.05" fill="#ef8b82" stroke="#222" stroke-width="0.55"/>
<circle cx="396.2" cy="475.5" r="2.05" fill="#ef8b82" stroke="#222" stroke-width="0.55"/>
<circle cx="460.6" cy="473.8" r="2.05" fill="#ef8b82" stroke="#222" stroke-width="0.55"/>
<circle cx="476.6" cy="474.4" r="2.05" fill="#ef8b82" stroke="#222" stroke-width="0.55"/>
<circle cx="456.2" cy="478.8" r="2.05" fill="#ef8b82" stroke="#222" stroke-width="0.55"/>
<circle cx="469.3" cy="479.3" r="2.05" fill="#ef8b82" stroke="#222" stroke-width="0.55"/>
<circle cx="493.6" cy="480.1" r="2.05" fill="#ef8b82" stroke="#222" stroke-width="0.55"/>
<circle cx="457.3" cy="488.9" r="2.05" fill="#ef8b82" stroke="#222" stroke-width="0.55"/>
<circle cx="464.5" cy="488.7" r="2.05" fill="#ef8b82" stroke="#222" stroke-width="0.55"/>
<circle cx="432.3" cy="501.2" r="2.05" fill="#ef8b82" stroke="#222" stroke-width="0.55"/>
<circle cx="444.6" cy="497.4" r="2.05" fill="#ef8b82" stroke="#222" stroke-width="0.55"/>
<circle cx="448.5" cy="502.7" r="2.05" fill="#ef8b82" stroke="#222" stroke-width="0.55"/>
<circle cx="463.2" cy="505.5" r="2.05" fill="#ef8b82" stroke="#222" stroke-width="0.55"/>
<circle cx="390.3" cy="509.5" r="2.05" fill="#ef8b82" stroke="#222" stroke-width="0.55"/>
<circle cx="391.2" cy="515" r="2.05" fill="#ef8b82" stroke="#222" stroke-width="0.55"/>
<circle cx="395.5" cy="514.1" r="2.05" fill="#ef8b82" stroke="#222" stroke-width="0.55"/>
<circle cx="404.3" cy="513.6" r="2.05" fill="#ef8b82" stroke="#222" stroke-width="0.55"/>
<circle cx="406.9" cy="513.4" r="2.05" fill="#ef8b82" stroke="#222" stroke-width="0.55"/>
<circle cx="390.1" cy="518.9" r="2.05" fill="#ef8b82" stroke="#222" stroke-width="0.55"/>
<circle cx="394" cy="520.4" r="2.05" fill="#ef8b82" stroke="#222" stroke-width="0.55"/>
<rect x="385.5" y="418.4" width="113" height="113.4" fill="none" stroke="#333" stroke-width="0.9"/>
<line x1="383.2" y1="442.7" x2="385.5" y2="442.7" stroke="#333" stroke-width="0.8"/>
<text transform="translate(381.2 445.3) scale(1 1.1)" font-size="7.5" text-anchor="end" fill="#333333">0.3</text>
<line x1="383.2" y1="468.6" x2="385.5" y2="468.6" stroke="#333" stroke-width="0.8"/>
<text transform="translate(381.2 471.2) scale(1 1.1)" font-size="7.5" text-anchor="end" fill="#333333">0.2</text>
<line x1="383.2" y1="494.5" x2="385.5" y2="494.5" stroke="#333" stroke-width="0.8"/>
<text transform="translate(381.2 497.1) scale(1 1.1)" font-size="7.5" text-anchor="end" fill="#333333">0.1</text>
<line x1="383.2" y1="520.4" x2="385.5" y2="520.4" stroke="#333" stroke-width="0.8"/>
<text transform="translate(381.2 523) scale(1 1.1)" font-size="7.5" text-anchor="end" fill="#333333">0.0</text>
<line x1="406.85" y1="531.8" x2="406.85" y2="534" stroke="#333" stroke-width="0.8"/>
<text transform="translate(406.85 542.3) scale(1 1.1)" font-size="7.5" text-anchor="middle" fill="#333333">0.1</text>
<line x1="429.3" y1="531.8" x2="429.3" y2="534" stroke="#333" stroke-width="0.8"/>
<text transform="translate(429.3 542.3) scale(1 1.1)" font-size="7.5" text-anchor="middle" fill="#333333">0.2</text>
<line x1="451.75" y1="531.8" x2="451.75" y2="534" stroke="#333" stroke-width="0.8"/>
<text transform="translate(451.75 542.3) scale(1 1.1)" font-size="7.5" text-anchor="middle" fill="#333333">0.3</text>
<line x1="474.2" y1="531.8" x2="474.2" y2="534" stroke="#333" stroke-width="0.8"/>
<text transform="translate(474.2 542.3) scale(1 1.1)" font-size="7.5" text-anchor="middle" fill="#333333">0.4</text>
<line x1="496.65" y1="531.8" x2="496.65" y2="534" stroke="#333" stroke-width="0.8"/>
<text transform="translate(496.65 542.3) scale(1 1.1)" font-size="7.5" text-anchor="middle" fill="#333333">0.5</text>
<text transform="translate(408.7 553.3) scale(1 1.1)" font-size="7.3" fill="#333333">Ratio of&#160; LY6E+ Mac</text>
<text transform="translate(362.3 475.5) rotate(-90) scale(1 1.1)" font-size="7.3" text-anchor="middle" fill="#333333">CD8 Tex clonity</text>
<text transform="translate(389.4 428.5) scale(1 1.1)" font-size="7.3" fill="#333333"><tspan font-style="italic">r</tspan> = 0.61, <tspan font-style="italic">P</tspan> = 0.001</text>
<text transform="translate(525.3 414.5)" font-size="14" font-weight="bold">f</text>
<circle cx="563.3" cy="482.9" r="2.2" fill="#111"/>
<circle cx="562.4" cy="508.5" r="2.2" fill="#111"/>
<circle cx="568.9" cy="506.9" r="2.2" fill="#111"/>
<circle cx="569.6" cy="508.5" r="2.2" fill="#111"/>
<circle cx="577.1" cy="490.8" r="2.2" fill="#111"/>
<circle cx="579.3" cy="495.8" r="2.2" fill="#111"/>
<circle cx="579.3" cy="499.2" r="2.2" fill="#111"/>
<circle cx="580.2" cy="501" r="2.2" fill="#111"/>
<circle cx="582" cy="481.8" r="2.2" fill="#111"/>
<circle cx="583.9" cy="506.6" r="2.2" fill="#111"/>
<circle cx="586.1" cy="484" r="2.2" fill="#111"/>
<circle cx="587.7" cy="475" r="2.2" fill="#111"/>
<circle cx="588.4" cy="505.1" r="2.2" fill="#111"/>
<circle cx="590.6" cy="503.9" r="2.2" fill="#111"/>
<circle cx="591.1" cy="466.6" r="2.2" fill="#111"/>
<circle cx="594" cy="486.5" r="2.2" fill="#111"/>
<circle cx="594.5" cy="499.2" r="2.2" fill="#111"/>
<circle cx="595.2" cy="476.1" r="2.2" fill="#111"/>
<circle cx="595.6" cy="464.8" r="2.2" fill="#111"/>
<circle cx="596.1" cy="470.4" r="2.2" fill="#111"/>
<circle cx="595.6" cy="513" r="2.2" fill="#111"/>
<circle cx="597.9" cy="514.1" r="2.2" fill="#111"/>
<circle cx="598.6" cy="454.6" r="2.2" fill="#111"/>
<circle cx="598.6" cy="480" r="2.2" fill="#111"/>
<circle cx="599" cy="504.4" r="2.2" fill="#111"/>
<circle cx="600.2" cy="494.2" r="2.2" fill="#111"/>
<circle cx="600.2" cy="508.2" r="2.2" fill="#111"/>
<circle cx="600.6" cy="484.7" r="2.2" fill="#111"/>
<circle cx="602" cy="476.1" r="2.2" fill="#111"/>
<circle cx="602.4" cy="491.9" r="2.2" fill="#111"/>
<circle cx="603.1" cy="489.7" r="2.2" fill="#111"/>
<circle cx="603.5" cy="505.5" r="2.2" fill="#111"/>
<circle cx="604.7" cy="487.9" r="2.2" fill="#111"/>
<circle cx="605.8" cy="485.2" r="2.2" fill="#111"/>
<circle cx="606.5" cy="507.8" r="2.2" fill="#111"/>
<circle cx="607.4" cy="494.2" r="2.2" fill="#111"/>
<circle cx="608.1" cy="481.8" r="2.2" fill="#111"/>
<circle cx="609.2" cy="478.4" r="2.2" fill="#111"/>
<circle cx="610.6" cy="479.5" r="2.2" fill="#111"/>
<circle cx="611.9" cy="477.5" r="2.2" fill="#111"/>
<circle cx="612.6" cy="484" r="2.2" fill="#111"/>
<circle cx="613.7" cy="469.3" r="2.2" fill="#111"/>
<circle cx="614.2" cy="485.6" r="2.2" fill="#111"/>
<circle cx="614.9" cy="470.4" r="2.2" fill="#111"/>
<circle cx="611" cy="490.8" r="2.2" fill="#111"/>
<circle cx="612.6" cy="495.3" r="2.2" fill="#111"/>
<circle cx="613.3" cy="497.6" r="2.2" fill="#111"/>
<circle cx="613.7" cy="499.9" r="2.2" fill="#111"/>
<circle cx="615.1" cy="487" r="2.2" fill="#111"/>
<circle cx="620.5" cy="491.5" r="2.2" fill="#111"/>
<circle cx="621.2" cy="496.9" r="2.2" fill="#111"/>
<circle cx="621.4" cy="470.9" r="2.2" fill="#111"/>
<circle cx="621.6" cy="431.3" r="2.2" fill="#111"/>
<circle cx="624.6" cy="437.2" r="2.2" fill="#111"/>
<circle cx="623.9" cy="442.6" r="2.2" fill="#111"/>
<circle cx="625" cy="453.5" r="2.2" fill="#111"/>
<circle cx="620.5" cy="451.7" r="2.2" fill="#111"/>
<circle cx="625" cy="473.4" r="2.2" fill="#111"/>
<circle cx="627.3" cy="495.3" r="2.2" fill="#111"/>
<circle cx="628.9" cy="469.8" r="2.2" fill="#111"/>
<circle cx="632.3" cy="482.9" r="2.2" fill="#111"/>
<circle cx="635.7" cy="487.4" r="2.2" fill="#111"/>
<circle cx="636.4" cy="466.6" r="2.2" fill="#111"/>
<circle cx="636.8" cy="463.7" r="2.2" fill="#111"/>
<circle cx="637" cy="443.3" r="2.2" fill="#111"/>
<circle cx="638.6" cy="475.6" r="2.2" fill="#111"/>
<circle cx="640.2" cy="499.2" r="2.2" fill="#111"/>
<circle cx="641.3" cy="446.9" r="2.2" fill="#111"/>
<circle cx="641.8" cy="422.9" r="2.2" fill="#111"/>
<circle cx="642" cy="429" r="2.2" fill="#111"/>
<circle cx="644.3" cy="458.4" r="2.2" fill="#111"/>
<circle cx="645" cy="444.4" r="2.2" fill="#111"/>
<circle cx="647" cy="469.3" r="2.2" fill="#111"/>
<circle cx="653.3" cy="439.4" r="2.2" fill="#111"/>
<circle cx="658.5" cy="437.2" r="2.2" fill="#111"/>
<circle cx="668.9" cy="423.6" r="2.2" fill="#111"/>
<path d="M562.8 503.9 L568.06 501.26 L573.32 498.51 L578.58 495.65 L583.84 492.68 L589.1 489.59 L594.36 486.4 L599.62 483.09 L604.88 479.67 L610.14 476.13 L615.4 472.5 L620.66 468.76 L625.92 464.93 L631.18 460.99 L636.44 456.96 L641.7 452.83 L646.96 448.6 L652.22 444.28 L657.48 439.85 L662.74 435.32 L668 430.7 L668 452.7 L662.74 455.25 L657.48 457.89 L652.22 460.63 L646.96 463.48 L641.7 466.42 L636.44 469.46 L631.18 472.6 L625.92 475.83 L620.66 479.17 L615.4 482.6 L610.14 486.14 L604.88 489.77 L599.62 493.52 L594.36 497.38 L589.1 501.36 L583.84 505.44 L578.58 509.64 L573.32 513.95 L568.06 518.37 L562.8 522.9 Z" fill="#f08a8a" fill-opacity="0.4"/>
<line x1="562.8" y1="513.4" x2="668" y2="441.7" stroke="#3b3aa8" stroke-width="1.2"/>
<rect x="557.6" y="418.4" width="115.4" height="108.6" fill="none" stroke="#333" stroke-width="0.9"/>
<line x1="555" y1="426.3" x2="557.6" y2="426.3" stroke="#333" stroke-width="0.8"/>
<text transform="translate(553.2 429) scale(1 1.1)" font-size="7.8" text-anchor="end" fill="#333333">0.2</text>
<line x1="555" y1="459.1" x2="557.6" y2="459.1" stroke="#333" stroke-width="0.8"/>
<text transform="translate(553.2 461.8) scale(1 1.1)" font-size="7.8" text-anchor="end" fill="#333333">0.0</text>
<line x1="555" y1="491.9" x2="557.6" y2="491.9" stroke="#333" stroke-width="0.8"/>
<text transform="translate(553.2 494.6) scale(1 1.1)" font-size="7.8" text-anchor="end" fill="#333333">−0.2</text>
<line x1="555" y1="525.2" x2="557.6" y2="525.2" stroke="#333" stroke-width="0.8"/>
<text transform="translate(553.2 527.9) scale(1 1.1)" font-size="7.8" text-anchor="end" fill="#333333">−0.4</text>
<line x1="573.4" y1="527" x2="573.4" y2="529.4" stroke="#333" stroke-width="0.8"/>
<text transform="translate(573.4 538.5) scale(1 1.1)" font-size="7.6" text-anchor="middle" fill="#333333">0.2</text>
<line x1="594" y1="527" x2="594" y2="529.4" stroke="#333" stroke-width="0.8"/>
<text transform="translate(594 538.5) scale(1 1.1)" font-size="7.6" text-anchor="middle" fill="#333333">0.3</text>
<line x1="614.9" y1="527" x2="614.9" y2="529.4" stroke="#333" stroke-width="0.8"/>
<text transform="translate(614.9 538.5) scale(1 1.1)" font-size="7.6" text-anchor="middle" fill="#333333">0.4</text>
<line x1="635.5" y1="527" x2="635.5" y2="529.4" stroke="#333" stroke-width="0.8"/>
<text transform="translate(635.5 538.5) scale(1 1.1)" font-size="7.6" text-anchor="middle" fill="#333333">0.5</text>
<line x1="656" y1="527" x2="656" y2="529.4" stroke="#333" stroke-width="0.8"/>
<text transform="translate(656 538.5) scale(1 1.1)" font-size="7.6" text-anchor="middle" fill="#333333">0.6</text>
<text transform="translate(570.3 550.1) scale(1 1.1)" font-size="7.3" fill="#333333">LY6E+ Mac signature score</text>
<text transform="translate(532 472.8) rotate(-90) scale(1 1.1)" font-size="7.4" text-anchor="middle" fill="#333333">CD8 Tex signature score</text>
<text transform="translate(560.5 427.4) scale(1 1.1)" font-size="7.3" fill="#333333"><tspan font-style="italic">r</tspan> = 0.65,<tspan font-style="italic">P</tspan> &lt; 0.001</text>
<text transform="translate(-0.6 613.5)" font-size="14" font-weight="bold">g</text>
<defs><filter id="eb" x="-20%" y="-20%" width="140%" height="140%"><feGaussianBlur stdDeviation="0.35"/></filter></defs>
<g filter="url(#eb)">
<path d="M82.1 679.9 C84 712 95 735 116.9 750.6" fill="none" stroke="#dacdf4" stroke-width="1.3" stroke-linecap="round"/>
<path d="M116.9 688 C114.5 712 113.5 735 116.9 750.6" fill="none" stroke="#dacdf4" stroke-width="1.7" stroke-linecap="round"/>
<path d="M53.9 701.7 C72 722 95 740 116.9 750.6" fill="none" stroke="#dacdf4" stroke-width="2.6" stroke-linecap="round"/>
<path d="M132.6 719.3 C126 730 120 741 116.9 750.6" fill="none" stroke="#dacdf4" stroke-width="1.6" stroke-linecap="round"/>
<path d="M54.2 736.4 C80 744 100 748 116.9 750.6" fill="none" stroke="#dacdf4" stroke-width="1.8" stroke-linecap="round"/>
<path d="M82.1 758.4 C98 757.5 108 755 116.9 750.6" fill="none" stroke="#dacdf4" stroke-width="1.8" stroke-linecap="round"/>
<path d="M116.9 750.6 C114.5 758 118.5 765 123.5 764.2 C128.5 763.4 126 756 116.9 750.6Z" fill="#ece4fa" stroke="#dacdf4" stroke-width="2.6"/>
<circle cx="116.9" cy="750.6" r="2" fill="#d5c5f0"/>
</g>
<circle cx="82.1" cy="679.9" r="1.9" fill="#4cbf4f"/>
<circle cx="116.9" cy="687.8" r="2.3" fill="#2b89c8"/>
<circle cx="53.9" cy="701.7" r="2" fill="#a352c2"/>
<circle cx="132.6" cy="719.3" r="3.9" fill="#d63b32"/>
<circle cx="54.2" cy="736.4" r="1.3" fill="#f0a024"/>
<circle cx="82.1" cy="758.4" r="1.2" fill="#f48ab8"/>
<text transform="translate(42.7 675.4) scale(1 1.1)" font-size="7.3" fill="#333333">CD8–CX3CR1</text>
<text transform="translate(95.6 683.1) scale(1 1.1)" font-size="7.3" fill="#333333">CD8–XCL1</text>
<text transform="translate(4.5 704.2) scale(1 1.1)" font-size="7.3" fill="#333333">CD8–PDCD1</text>
<text transform="translate(120.4 712.6) scale(1 1.1)" font-size="7.3" fill="#333333">CD8–GZMK</text>
<text transform="translate(9.2 738.9) scale(1 1.1)" font-size="7.3" fill="#333333">CD8–ISG15</text>
<text transform="translate(124.6 749.8) scale(1 1.1)" font-size="7.3" fill="#333333">Macro–LY6E</text>
<text transform="translate(37.2 761.3) scale(1 1.1)" font-size="7.3" fill="#333333">CD8–MKI67</text>
<text transform="translate(166.5 614.6)" font-size="14" font-weight="bold">h</text>
<text transform="translate(195 611.9) scale(1 1.1)" font-size="8.6" fill="#333333">Ligand activity</text>
<text transform="translate(415.9 603.3) scale(1 1.1)" font-size="10.3" fill="#333333">Predicted target genes</text>
<rect x="232" y="644.25" width="8.2" height="8.28" fill="#f39a1e"/>
<text transform="translate(229.7 650.94) scale(1 1.1)" font-size="7.1" text-anchor="end" fill="#e0383b">CSF1</text>
<rect x="252.65" y="644.25" width="5.92" height="8.28" fill="#d385d1"/>
<rect x="259.47" y="644.25" width="5.92" height="8.28" fill="#d385d1"/>
<rect x="266.29" y="644.25" width="5.92" height="8.28" fill="#d385d1"/>
<rect x="273.11" y="644.25" width="5.92" height="8.28" fill="#d385d1"/>
<rect x="279.93" y="644.25" width="5.92" height="8.28" fill="#d385d1"/>
<rect x="286.75" y="644.25" width="5.92" height="8.28" fill="#d385d1"/>
<rect x="293.57" y="644.25" width="5.92" height="8.28" fill="#d385d1"/>
<rect x="300.39" y="644.25" width="5.92" height="8.28" fill="#d385d1"/>
<rect x="307.21" y="644.25" width="5.92" height="8.28" fill="#d385d1"/>
<rect x="314.03" y="644.25" width="5.92" height="8.28" fill="#dc9cdc"/>
<rect x="320.85" y="644.25" width="5.92" height="8.28" fill="#d385d1"/>
<rect x="327.67" y="644.25" width="5.92" height="8.28" fill="#d385d1"/>
<rect x="334.49" y="644.25" width="5.92" height="8.28" fill="#d385d1"/>
<rect x="341.31" y="644.25" width="5.92" height="8.28" fill="#b84fb6"/>
<rect x="348.13" y="644.25" width="5.92" height="8.28" fill="#d385d1"/>
<rect x="354.95" y="644.25" width="5.92" height="8.28" fill="#d385d1"/>
<rect x="361.77" y="644.25" width="5.92" height="8.28" fill="#d385d1"/>
<rect x="368.59" y="644.25" width="5.92" height="8.28" fill="#d385d1"/>
<rect x="375.41" y="644.25" width="5.92" height="8.28" fill="#cd76cb"/>
<rect x="382.23" y="644.25" width="5.92" height="8.28" fill="#ebcdec"/>
<rect x="389.05" y="644.25" width="5.92" height="8.28" fill="#ebcdec"/>
<rect x="395.87" y="644.25" width="5.92" height="8.28" fill="#ebcdec"/>
<rect x="402.69" y="644.25" width="5.92" height="8.28" fill="#e1a9e1"/>
<rect x="409.51" y="644.25" width="5.92" height="8.28" fill="#f8f7fa"/>
<rect x="416.33" y="644.25" width="5.92" height="8.28" fill="#e1a9e1"/>
<rect x="423.15" y="644.25" width="5.92" height="8.28" fill="#ebcdec"/>
<rect x="429.97" y="644.25" width="5.92" height="8.28" fill="#f3eef6"/>
<rect x="436.79" y="644.25" width="5.92" height="8.28" fill="#f3eef6"/>
<rect x="443.61" y="644.25" width="5.92" height="8.28" fill="#ebcdec"/>
<rect x="450.43" y="644.25" width="5.92" height="8.28" fill="#e1a9e1"/>
<rect x="457.25" y="644.25" width="5.92" height="8.28" fill="#f3eef6"/>
<rect x="464.07" y="644.25" width="5.92" height="8.28" fill="#f8f7fa"/>
<rect x="470.89" y="644.25" width="5.92" height="8.28" fill="#ebcdec"/>
<rect x="477.71" y="644.25" width="5.92" height="8.28" fill="#ebcdec"/>
<rect x="484.53" y="644.25" width="5.92" height="8.28" fill="#ebcdec"/>
<rect x="491.35" y="644.25" width="5.92" height="8.28" fill="#f3eef6"/>
<rect x="498.17" y="644.25" width="5.92" height="8.28" fill="#f8f7fa"/>
<rect x="504.99" y="644.25" width="5.92" height="8.28" fill="#ebcdec"/>
<rect x="511.81" y="644.25" width="5.92" height="8.28" fill="#ebcdec"/>
<rect x="518.63" y="644.25" width="5.92" height="8.28" fill="#ebcdec"/>
<rect x="525.45" y="644.25" width="5.92" height="8.28" fill="#f3eef6"/>
<rect x="532.27" y="644.25" width="5.92" height="8.28" fill="#d994d8"/>
<rect x="539.09" y="644.25" width="5.92" height="8.28" fill="#ebcdec"/>
<rect x="545.91" y="644.25" width="5.92" height="8.28" fill="#ebcdec"/>
<rect x="552.73" y="644.25" width="5.92" height="8.28" fill="#f3eef6"/>
<rect x="559.55" y="644.25" width="5.92" height="8.28" fill="#ebcdec"/>
<rect x="566.37" y="644.25" width="5.92" height="8.28" fill="#ebcdec"/>
<rect x="573.19" y="644.25" width="5.92" height="8.28" fill="#f8f7fa"/>
<rect x="580.01" y="644.25" width="5.92" height="8.28" fill="#ebcdec"/>
<rect x="586.83" y="644.25" width="5.92" height="8.28" fill="#ebcdec"/>
<rect x="593.65" y="644.25" width="5.92" height="8.28" fill="#ebcdec"/>
<rect x="600.47" y="644.25" width="5.92" height="8.28" fill="#f8f7fa"/>
<rect x="607.29" y="644.25" width="5.92" height="8.28" fill="#ebcdec"/>
<rect x="614.11" y="644.25" width="5.92" height="8.28" fill="#f8f7fa"/>
<rect x="620.93" y="644.25" width="5.92" height="8.28" fill="#ebcdec"/>
<rect x="627.75" y="644.25" width="5.92" height="8.28" fill="#f8f7fa"/>
<rect x="634.57" y="644.25" width="5.92" height="8.28" fill="#f8f7fa"/>
<rect x="641.39" y="644.25" width="5.92" height="8.28" fill="#f3eef6"/>
<rect x="648.21" y="644.25" width="5.92" height="8.28" fill="#f8f7fa"/>
<rect x="655.03" y="644.25" width="5.92" height="8.28" fill="#ebcdec"/>
<rect x="661.85" y="644.25" width="5.92" height="8.28" fill="#ebcdec"/>
<rect x="668.67" y="644.25" width="5.92" height="8.28" fill="#f8f7fa"/>
<rect x="232" y="653.43" width="8.2" height="8.28" fill="#f9c590"/>
<text transform="translate(229.7 660.12) scale(1 1.1)" font-size="7.1" text-anchor="end" fill="#333333">CCL3</text>
<rect x="252.65" y="653.43" width="5.92" height="8.28" fill="#f8f7fa"/>
<rect x="259.47" y="653.43" width="5.92" height="8.28" fill="#f8f7fa"/>
<rect x="266.29" y="653.43" width="5.92" height="8.28" fill="#f8f7fa"/>
<rect x="273.11" y="653.43" width="5.92" height="8.28" fill="#f8f7fa"/>
<rect x="279.93" y="653.43" width="5.92" height="8.28" fill="#f8f7fa"/>
<rect x="286.75" y="653.43" width="5.92" height="8.28" fill="#f8f7fa"/>
<rect x="293.57" y="653.43" width="5.92" height="8.28" fill="#f8f7fa"/>
<rect x="300.39" y="653.43" width="5.92" height="8.28" fill="#f8f7fa"/>
<rect x="307.21" y="653.43" width="5.92" height="8.28" fill="#f8f7fa"/>
<rect x="314.03" y="653.43" width="5.92" height="8.28" fill="#f3eef6"/>
<rect x="320.85" y="653.43" width="5.92" height="8.28" fill="#f8f7fa"/>
<rect x="327.67" y="653.43" width="5.92" height="8.28" fill="#f8f7fa"/>
<rect x="334.49" y="653.43" width="5.92" height="8.28" fill="#f8f7fa"/>
<rect x="341.31" y="653.43" width="5.92" height="8.28" fill="#f8f7fa"/>
<rect x="348.13" y="653.43" width="5.92" height="8.28" fill="#f8f7fa"/>
<rect x="354.95" y="653.43" width="5.92" height="8.28" fill="#f8f7fa"/>
<rect x="361.77" y="653.43" width="5.92" height="8.28" fill="#f8f7fa"/>
<rect x="368.59" y="653.43" width="5.92" height="8.28" fill="#f8f7fa"/>
<rect x="375.41" y="653.43" width="5.92" height="8.28" fill="#f8f7fa"/>
<rect x="382.23" y="653.43" width="5.92" height="8.28" fill="#f3eef6"/>
<rect x="389.05" y="653.43" width="5.92" height="8.28" fill="#ebcdec"/>
<rect x="395.87" y="653.43" width="5.92" height="8.28" fill="#f3eef6"/>
<rect x="402.69" y="653.43" width="5.92" height="8.28" fill="#f3eef6"/>
<rect x="409.51" y="653.43" width="5.92" height="8.28" fill="#f3eef6"/>
<rect x="416.33" y="653.43" width="5.92" height="8.28" fill="#f3eef6"/>
<rect x="423.15" y="653.43" width="5.92" height="8.28" fill="#f3eef6"/>
<rect x="429.97" y="653.43" width="5.92" height="8.28" fill="#f3eef6"/>
<rect x="436.79" y="653.43" width="5.92" height="8.28" fill="#f3eef6"/>
<rect x="443.61" y="653.43" width="5.92" height="8.28" fill="#f3eef6"/>
<rect x="450.43" y="653.43" width="5.92" height="8.28" fill="#f3eef6"/>
<rect x="457.25" y="653.43" width="5.92" height="8.28" fill="#ebcdec"/>
<rect x="464.07" y="653.43" width="5.92" height="8.28" fill="#f3eef6"/>
<rect x="470.89" y="653.43" width="5.92" height="8.28" fill="#f3eef6"/>
<rect x="477.71" y="653.43" width="5.92" height="8.28" fill="#f3eef6"/>
<rect x="484.53" y="653.43" width="5.92" height="8.28" fill="#f3eef6"/>
<rect x="491.35" y="653.43" width="5.92" height="8.28" fill="#f3eef6"/>
<rect x="498.17" y="653.43" width="5.92" height="8.28" fill="#ebcdec"/>
<rect x="504.99" y="653.43" width="5.92" height="8.28" fill="#f3eef6"/>
<rect x="511.81" y="653.43" width="5.92" height="8.28" fill="#ebcdec"/>
<rect x="518.63" y="653.43" width="5.92" height="8.28" fill="#f8f7fa"/>
<rect x="525.45" y="653.43" width="5.92" height="8.28" fill="#f3eef6"/>
<rect x="532.27" y="653.43" width="5.92" height="8.28" fill="#f8f7fa"/>
<rect x="539.09" y="653.43" width="5.92" height="8.28" fill="#f8f7fa"/>
<rect x="545.91" y="653.43" width="5.92" height="8.28" fill="#f8f7fa"/>
<rect x="552.73" y="653.43" width="5.92" height="8.28" fill="#f8f7fa"/>
<rect x="559.55" y="653.43" width="5.92" height="8.28" fill="#f8f7fa"/>
<rect x="566.37" y="653.43" width="5.92" height="8.28" fill="#f8f7fa"/>
<rect x="573.19" y="653.43" width="5.92" height="8.28" fill="#f8f7fa"/>
<rect x="580.01" y="653.43" width="5.92" height="8.28" fill="#f8f7fa"/>
<rect x="586.83" y="653.43" width="5.92" height="8.28" fill="#f8f7fa"/>
<rect x="593.65" y="653.43" width="5.92" height="8.28" fill="#f8f7fa"/>
<rect x="600.47" y="653.43" width="5.92" height="8.28" fill="#f8f7fa"/>
<rect x="607.29" y="653.43" width="5.92" height="8.28" fill="#f8f7fa"/>
<rect x="614.11" y="653.43" width="5.92" height="8.28" fill="#f8f7fa"/>
<rect x="620.93" y="653.43" width="5.92" height="8.28" fill="#f8f7fa"/>
<rect x="627.75" y="653.43" width="5.92" height="8.28" fill="#f8f7fa"/>
<rect x="634.57" y="653.43" width="5.92" height="8.28" fill="#f8f7fa"/>
<rect x="641.39" y="653.43" width="5.92" height="8.28" fill="#f8f7fa"/>
<rect x="648.21" y="653.43" width="5.92" height="8.28" fill="#f8f7fa"/>
<rect x="655.03" y="653.43" width="5.92" height="8.28" fill="#f8f7fa"/>
<rect x="661.85" y="653.43" width="5.92" height="8.28" fill="#f8f7fa"/>
<rect x="668.67" y="653.43" width="5.92" height="8.28" fill="#f8f7fa"/>
<rect x="232" y="662.61" width="8.2" height="8.28" fill="#fad3b0"/>
<text transform="translate(229.7 669.3) scale(1 1.1)" font-size="7.1" text-anchor="end" fill="#333333">CCL4</text>
<rect x="252.65" y="662.61" width="5.92" height="8.28" fill="#f8f7fa"/>
<rect x="259.47" y="662.61" width="5.92" height="8.28" fill="#f8f7fa"/>
<rect x="266.29" y="662.61" width="5.92" height="8.28" fill="#f8f7fa"/>
<rect x="273.11" y="662.61" width="5.92" height="8.28" fill="#f8f7fa"/>
<rect x="279.93" y="662.61" width="5.92" height="8.28" fill="#f8f7fa"/>
<rect x="286.75" y="662.61" width="5.92" height="8.28" fill="#f8f7fa"/>
<rect x="293.57" y="662.61" width="5.92" height="8.28" fill="#f8f7fa"/>
<rect x="300.39" y="662.61" width="5.92" height="8.28" fill="#f8f7fa"/>
<rect x="307.21" y="662.61" width="5.92" height="8.28" fill="#f8f7fa"/>
<rect x="314.03" y="662.61" width="5.92" height="8.28" fill="#f8f7fa"/>
<rect x="320.85" y="662.61" width="5.92" height="8.28" fill="#f8f7fa"/>
<rect x="327.67" y="662.61" width="5.92" height="8.28" fill="#f8f7fa"/>
<rect x="334.49" y="662.61" width="5.92" height="8.28" fill="#f8f7fa"/>
<rect x="341.31" y="662.61" width="5.92" height="8.28" fill="#f8f7fa"/>
<rect x="348.13" y="662.61" width="5.92" height="8.28" fill="#f8f7fa"/>
<rect x="354.95" y="662.61" width="5.92" height="8.28" fill="#f8f7fa"/>
<rect x="361.77" y="662.61" width="5.92" height="8.28" fill="#f8f7fa"/>
<rect x="368.59" y="662.61" width="5.92" height="8.28" fill="#f8f7fa"/>
<rect x="375.41" y="662.61" width="5.92" height="8.28" fill="#f8f7fa"/>
<rect x="382.23" y="662.61" width="5.92" height="8.28" fill="#f3eef6"/>
<rect x="389.05" y="662.61" width="5.92" height="8.28" fill="#f8f7fa"/>
<rect x="395.87" y="662.61" width="5.92" height="8.28" fill="#f3eef6"/>
<rect x="402.69" y="662.61" width="5.92" height="8.28" fill="#f3eef6"/>
<rect x="409.51" y="662.61" width="5.92" height="8.28" fill="#f8f7fa"/>
<rect x="416.33" y="662.61" width="5.92" height="8.28" fill="#f8f7fa"/>
<rect x="423.15" y="662.61" width="5.92" height="8.28" fill="#f3eef6"/>
<rect x="429.97" y="662.61" width="5.92" height="8.28" fill="#f8f7fa"/>
<rect x="436.79" y="662.61" width="5.92" height="8.28" fill="#f8f7fa"/>
<rect x="443.61" y="662.61" width="5.92" height="8.28" fill="#f8f7fa"/>
<rect x="450.43" y="662.61" width="5.92" height="8.28" fill="#ebcdec"/>
<rect x="457.25" y="662.61" width="5.92" height="8.28" fill="#ebcdec"/>
<rect x="464.07" y="662.61" width="5.92" height="8.28" fill="#f8f7fa"/>
<rect x="470.89" y="662.61" width="5.92" height="8.28" fill="#f8f7fa"/>
<rect x="477.71" y="662.61" width="5.92" height="8.28" fill="#f8f7fa"/>
<rect x="484.53" y="662.61" width="5.92" height="8.28" fill="#ebcdec"/>
<rect x="491.35" y="662.61" width="5.92" height="8.28" fill="#f8f7fa"/>
<rect x="498.17" y="662.61" width="5.92" height="8.28" fill="#f8f7fa"/>
<rect x="504.99" y="662.61" width="5.92" height="8.28" fill="#ebcdec"/>
<rect x="511.81" y="662.61" width="5.92" height="8.28" fill="#ebcdec"/>
<rect x="518.63" y="662.61" width="5.92" height="8.28" fill="#f8f7fa"/>
<rect x="525.45" y="662.61" width="5.92" height="8.28" fill="#f8f7fa"/>
<rect x="532.27" y="662.61" width="5.92" height="8.28" fill="#f8f7fa"/>
<rect x="539.09" y="662.61" width="5.92" height="8.28" fill="#f8f7fa"/>
<rect x="545.91" y="662.61" width="5.92" height="8.28" fill="#f8f7fa"/>
<rect x="552.73" y="662.61" width="5.92" height="8.28" fill="#f8f7fa"/>
<rect x="559.55" y="662.61" width="5.92" height="8.28" fill="#f8f7fa"/>
<rect x="566.37" y="662.61" width="5.92" height="8.28" fill="#f8f7fa"/>
<rect x="573.19" y="662.61" width="5.92" height="8.28" fill="#f8f7fa"/>
<rect x="580.01" y="662.61" width="5.92" height="8.28" fill="#f8f7fa"/>
<rect x="586.83" y="662.61" width="5.92" height="8.28" fill="#f8f7fa"/>
<rect x="593.65" y="662.61" width="5.92" height="8.28" fill="#f8f7fa"/>
<rect x="600.47" y="662.61" width="5.92" height="8.28" fill="#f8f7fa"/>
<rect x="607.29" y="662.61" width="5.92" height="8.28" fill="#f8f7fa"/>
<rect x="614.11" y="662.61" width="5.92" height="8.28" fill="#f8f7fa"/>
<rect x="620.93" y="662.61" width="5.92" height="8.28" fill="#f8f7fa"/>
<rect x="627.75" y="662.61" width="5.92" height="8.28" fill="#f8f7fa"/>
<rect x="634.57" y="662.61" width="5.92" height="8.28" fill="#f8f7fa"/>
<rect x="641.39" y="662.61" width="5.92" height="8.28" fill="#f8f7fa"/>
<rect x="648.21" y="662.61" width="5.92" height="8.28" fill="#f8f7fa"/>
<rect x="655.03" y="662.61" width="5.92" height="8.28" fill="#f8f7fa"/>
<rect x="661.85" y="662.61" width="5.92" height="8.28" fill="#f8f7fa"/>
<rect x="668.67" y="662.61" width="5.92" height="8.28" fill="#f8f7fa"/>
<rect x="232" y="671.79" width="8.2" height="8.28" fill="#fbe1cb"/>
<text transform="translate(229.7 678.48) scale(1 1.1)" font-size="7.1" text-anchor="end" fill="#333333">CD7</text>
<rect x="252.65" y="671.79" width="5.92" height="8.28" fill="#f8f7fa"/>
<rect x="259.47" y="671.79" width="5.92" height="8.28" fill="#f8f7fa"/>
<rect x="266.29" y="671.79" width="5.92" height="8.28" fill="#f8f7fa"/>
<rect x="273.11" y="671.79" width="5.92" height="8.28" fill="#f8f7fa"/>
<rect x="279.93" y="671.79" width="5.92" height="8.28" fill="#f8f7fa"/>
<rect x="286.75" y="671.79" width="5.92" height="8.28" fill="#f8f7fa"/>
<rect x="293.57" y="671.79" width="5.92" height="8.28" fill="#f8f7fa"/>
<rect x="300.39" y="671.79" width="5.92" height="8.28" fill="#f8f7fa"/>
<rect x="307.21" y="671.79" width="5.92" height="8.28" fill="#f8f7fa"/>
<rect x="314.03" y="671.79" width="5.92" height="8.28" fill="#f8f7fa"/>
<rect x="320.85" y="671.79" width="5.92" height="8.28" fill="#f8f7fa"/>
<rect x="327.67" y="671.79" width="5.92" height="8.28" fill="#f8f7fa"/>
<rect x="334.49" y="671.79" width="5.92" height="8.28" fill="#f8f7fa"/>
<rect x="341.31" y="671.79" width="5.92" height="8.28" fill="#f8f7fa"/>
<rect x="348.13" y="671.79" width="5.92" height="8.28" fill="#f8f7fa"/>
<rect x="354.95" y="671.79" width="5.92" height="8.28" fill="#f8f7fa"/>
<rect x="361.77" y="671.79" width="5.92" height="8.28" fill="#f8f7fa"/>
<rect x="368.59" y="671.79" width="5.92" height="8.28" fill="#f8f7fa"/>
<rect x="375.41" y="671.79" width="5.92" height="8.28" fill="#f8f7fa"/>
<rect x="382.23" y="671.79" width="5.92" height="8.28" fill="#f3eef6"/>
<rect x="389.05" y="671.79" width="5.92" height="8.28" fill="#f8f7fa"/>
<rect x="395.87" y="671.79" width="5.92" height="8.28" fill="#f3eef6"/>
<rect x="402.69" y="671.79" width="5.92" height="8.28" fill="#f3eef6"/>
<rect x="409.51" y="671.79" width="5.92" height="8.28" fill="#f8f7fa"/>
<rect x="416.33" y="671.79" width="5.92" height="8.28" fill="#f8f7fa"/>
<rect x="423.15" y="671.79" width="5.92" height="8.28" fill="#f3eef6"/>
<rect x="429.97" y="671.79" width="5.92" height="8.28" fill="#ebcdec"/>
<rect x="436.79" y="671.79" width="5.92" height="8.28" fill="#f8f7fa"/>
<rect x="443.61" y="671.79" width="5.92" height="8.28" fill="#f8f7fa"/>
<rect x="450.43" y="671.79" width="5.92" height="8.28" fill="#f3eef6"/>
<rect x="457.25" y="671.79" width="5.92" height="8.28" fill="#f3eef6"/>
<rect x="464.07" y="671.79" width="5.92" height="8.28" fill="#f8f7fa"/>
<rect x="470.89" y="671.79" width="5.92" height="8.28" fill="#f3eef6"/>
<rect x="477.71" y="671.79" width="5.92" height="8.28" fill="#f8f7fa"/>
<rect x="484.53" y="671.79" width="5.92" height="8.28" fill="#f3eef6"/>
<rect x="491.35" y="671.79" width="5.92" height="8.28" fill="#f3eef6"/>
<rect x="498.17" y="671.79" width="5.92" height="8.28" fill="#f8f7fa"/>
<rect x="504.99" y="671.79" width="5.92" height="8.28" fill="#f3eef6"/>
<rect x="511.81" y="671.79" width="5.92" height="8.28" fill="#f3eef6"/>
<rect x="518.63" y="671.79" width="5.92" height="8.28" fill="#f8f7fa"/>
<rect x="525.45" y="671.79" width="5.92" height="8.28" fill="#f8f7fa"/>
<rect x="532.27" y="671.79" width="5.92" height="8.28" fill="#f8f7fa"/>
<rect x="539.09" y="671.79" width="5.92" height="8.28" fill="#f8f7fa"/>
<rect x="545.91" y="671.79" width="5.92" height="8.28" fill="#f8f7fa"/>
<rect x="552.73" y="671.79" width="5.92" height="8.28" fill="#ebcdec"/>
<rect x="559.55" y="671.79" width="5.92" height="8.28" fill="#f8f7fa"/>
<rect x="566.37" y="671.79" width="5.92" height="8.28" fill="#f8f7fa"/>
<rect x="573.19" y="671.79" width="5.92" height="8.28" fill="#f8f7fa"/>
<rect x="580.01" y="671.79" width="5.92" height="8.28" fill="#f8f7fa"/>
<rect x="586.83" y="671.79" width="5.92" height="8.28" fill="#f8f7fa"/>
<rect x="593.65" y="671.79" width="5.92" height="8.28" fill="#f8f7fa"/>
<rect x="600.47" y="671.79" width="5.92" height="8.28" fill="#f8f7fa"/>
<rect x="607.29" y="671.79" width="5.92" height="8.28" fill="#f8f7fa"/>
<rect x="614.11" y="671.79" width="5.92" height="8.28" fill="#f8f7fa"/>
<rect x="620.93" y="671.79" width="5.92" height="8.28" fill="#f8f7fa"/>
<rect x="627.75" y="671.79" width="5.92" height="8.28" fill="#f8f7fa"/>
<rect x="634.57" y="671.79" width="5.92" height="8.28" fill="#f8f7fa"/>
<rect x="641.39" y="671.79" width="5.92" height="8.28" fill="#f8f7fa"/>
<rect x="648.21" y="671.79" width="5.92" height="8.28" fill="#f8f7fa"/>
<rect x="655.03" y="671.79" width="5.92" height="8.28" fill="#f8f7fa"/>
<rect x="661.85" y="671.79" width="5.92" height="8.28" fill="#f8f7fa"/>
<rect x="668.67" y="671.79" width="5.92" height="8.28" fill="#f8f7fa"/>
<rect x="232" y="680.97" width="8.2" height="8.28" fill="#fbe2cf"/>
<text transform="translate(229.7 687.66) scale(1 1.1)" font-size="7.1" text-anchor="end" fill="#333333">CD38</text>
<rect x="252.65" y="680.97" width="5.92" height="8.28" fill="#f8f7fa"/>
<rect x="259.47" y="680.97" width="5.92" height="8.28" fill="#f8f7fa"/>
<rect x="266.29" y="680.97" width="5.92" height="8.28" fill="#f8f7fa"/>
<rect x="273.11" y="680.97" width="5.92" height="8.28" fill="#f8f7fa"/>
<rect x="279.93" y="680.97" width="5.92" height="8.28" fill="#f8f7fa"/>
<rect x="286.75" y="680.97" width="5.92" height="8.28" fill="#f8f7fa"/>
<rect x="293.57" y="680.97" width="5.92" height="8.28" fill="#f8f7fa"/>
<rect x="300.39" y="680.97" width="5.92" height="8.28" fill="#f8f7fa"/>
<rect x="307.21" y="680.97" width="5.92" height="8.28" fill="#f8f7fa"/>
<rect x="314.03" y="680.97" width="5.92" height="8.28" fill="#f3eef6"/>
<rect x="320.85" y="680.97" width="5.92" height="8.28" fill="#f8f7fa"/>
<rect x="327.67" y="680.97" width="5.92" height="8.28" fill="#f8f7fa"/>
<rect x="334.49" y="680.97" width="5.92" height="8.28" fill="#f8f7fa"/>
<rect x="341.31" y="680.97" width="5.92" height="8.28" fill="#f3eef6"/>
<rect x="348.13" y="680.97" width="5.92" height="8.28" fill="#f8f7fa"/>
<rect x="354.95" y="680.97" width="5.92" height="8.28" fill="#f8f7fa"/>
<rect x="361.77" y="680.97" width="5.92" height="8.28" fill="#f8f7fa"/>
<rect x="368.59" y="680.97" width="5.92" height="8.28" fill="#f3eef6"/>
<rect x="375.41" y="680.97" width="5.92" height="8.28" fill="#f8f7fa"/>
<rect x="382.23" y="680.97" width="5.92" height="8.28" fill="#f3eef6"/>
<rect x="389.05" y="680.97" width="5.92" height="8.28" fill="#f8f7fa"/>
<rect x="395.87" y="680.97" width="5.92" height="8.28" fill="#f1e5f3"/>
<rect x="402.69" y="680.97" width="5.92" height="8.28" fill="#f3eef6"/>
<rect x="409.51" y="680.97" width="5.92" height="8.28" fill="#f3eef6"/>
<rect x="416.33" y="680.97" width="5.92" height="8.28" fill="#f8f7fa"/>
<rect x="423.15" y="680.97" width="5.92" height="8.28" fill="#f3eef6"/>
<rect x="429.97" y="680.97" width="5.92" height="8.28" fill="#f3eef6"/>
<rect x="436.79" y="680.97" width="5.92" height="8.28" fill="#f8f7fa"/>
<rect x="443.61" y="680.97" width="5.92" height="8.28" fill="#f3eef6"/>
<rect x="450.43" y="680.97" width="5.92" height="8.28" fill="#f3eef6"/>
<rect x="457.25" y="680.97" width="5.92" height="8.28" fill="#f3eef6"/>
<rect x="464.07" y="680.97" width="5.92" height="8.28" fill="#f8f7fa"/>
<rect x="470.89" y="680.97" width="5.92" height="8.28" fill="#f3eef6"/>
<rect x="477.71" y="680.97" width="5.92" height="8.28" fill="#f3eef6"/>
<rect x="484.53" y="680.97" width="5.92" height="8.28" fill="#f3eef6"/>
<rect x="491.35" y="680.97" width="5.92" height="8.28" fill="#f3eef6"/>
<rect x="498.17" y="680.97" width="5.92" height="8.28" fill="#f8f7fa"/>
<rect x="504.99" y="680.97" width="5.92" height="8.28" fill="#f3eef6"/>
<rect x="511.81" y="680.97" width="5.92" height="8.28" fill="#f3eef6"/>
<rect x="518.63" y="680.97" width="5.92" height="8.28" fill="#ebcdec"/>
<rect x="525.45" y="680.97" width="5.92" height="8.28" fill="#f8f7fa"/>
<rect x="532.27" y="680.97" width="5.92" height="8.28" fill="#f8f7fa"/>
<rect x="539.09" y="680.97" width="5.92" height="8.28" fill="#f8f7fa"/>
<rect x="545.91" y="680.97" width="5.92" height="8.28" fill="#f8f7fa"/>
<rect x="552.73" y="680.97" width="5.92" height="8.28" fill="#f3eef6"/>
<rect x="559.55" y="680.97" width="5.92" height="8.28" fill="#f8f7fa"/>
<rect x="566.37" y="680.97" width="5.92" height="8.28" fill="#f8f7fa"/>
<rect x="573.19" y="680.97" width="5.92" height="8.28" fill="#f3eef6"/>
<rect x="580.01" y="680.97" width="5.92" height="8.28" fill="#f8f7fa"/>
<rect x="586.83" y="680.97" width="5.92" height="8.28" fill="#f8f7fa"/>
<rect x="593.65" y="680.97" width="5.92" height="8.28" fill="#f8f7fa"/>
<rect x="600.47" y="680.97" width="5.92" height="8.28" fill="#f8f7fa"/>
<rect x="607.29" y="680.97" width="5.92" height="8.28" fill="#f8f7fa"/>
<rect x="614.11" y="680.97" width="5.92" height="8.28" fill="#f8f7fa"/>
<rect x="620.93" y="680.97" width="5.92" height="8.28" fill="#f8f7fa"/>
<rect x="627.75" y="680.97" width="5.92" height="8.28" fill="#f8f7fa"/>
<rect x="634.57" y="680.97" width="5.92" height="8.28" fill="#f8f7fa"/>
<rect x="641.39" y="680.97" width="5.92" height="8.28" fill="#f8f7fa"/>
<rect x="648.21" y="680.97" width="5.92" height="8.28" fill="#f8f7fa"/>
<rect x="655.03" y="680.97" width="5.92" height="8.28" fill="#f8f7fa"/>
<rect x="661.85" y="680.97" width="5.92" height="8.28" fill="#f8f7fa"/>
<rect x="668.67" y="680.97" width="5.92" height="8.28" fill="#f8f7fa"/>
<rect x="232" y="690.15" width="8.2" height="8.28" fill="#fbe5d3"/>
<text transform="translate(229.7 696.84) scale(1 1.1)" font-size="7.1" text-anchor="end" fill="#333333">ANXA1</text>
<rect x="252.65" y="690.15" width="5.92" height="8.28" fill="#f8f7fa"/>
<rect x="259.47" y="690.15" width="5.92" height="8.28" fill="#f8f7fa"/>
<rect x="266.29" y="690.15" width="5.92" height="8.28" fill="#f8f7fa"/>
<rect x="273.11" y="690.15" width="5.92" height="8.28" fill="#f8f7fa"/>
<rect x="279.93" y="690.15" width="5.92" height="8.28" fill="#f8f7fa"/>
<rect x="286.75" y="690.15" width="5.92" height="8.28" fill="#f8f7fa"/>
<rect x="293.57" y="690.15" width="5.92" height="8.28" fill="#f8f7fa"/>
<rect x="300.39" y="690.15" width="5.92" height="8.28" fill="#f8f7fa"/>
<rect x="307.21" y="690.15" width="5.92" height="8.28" fill="#f8f7fa"/>
<rect x="314.03" y="690.15" width="5.92" height="8.28" fill="#f8f7fa"/>
<rect x="320.85" y="690.15" width="5.92" height="8.28" fill="#f8f7fa"/>
<rect x="327.67" y="690.15" width="5.92" height="8.28" fill="#f8f7fa"/>
<rect x="334.49" y="690.15" width="5.92" height="8.28" fill="#f8f7fa"/>
<rect x="341.31" y="690.15" width="5.92" height="8.28" fill="#f8f7fa"/>
<rect x="348.13" y="690.15" width="5.92" height="8.28" fill="#f8f7fa"/>
<rect x="354.95" y="690.15" width="5.92" height="8.28" fill="#f8f7fa"/>
<rect x="361.77" y="690.15" width="5.92" height="8.28" fill="#f8f7fa"/>
<rect x="368.59" y="690.15" width="5.92" height="8.28" fill="#f8f7fa"/>
<rect x="375.41" y="690.15" width="5.92" height="8.28" fill="#f8f7fa"/>
<rect x="382.23" y="690.15" width="5.92" height="8.28" fill="#f3eef6"/>
<rect x="389.05" y="690.15" width="5.92" height="8.28" fill="#f8f7fa"/>
<rect x="395.87" y="690.15" width="5.92" height="8.28" fill="#f1e5f3"/>
<rect x="402.69" y="690.15" width="5.92" height="8.28" fill="#f8f7fa"/>
<rect x="409.51" y="690.15" width="5.92" height="8.28" fill="#f8f7fa"/>
<rect x="416.33" y="690.15" width="5.92" height="8.28" fill="#f8f7fa"/>
<rect x="423.15" y="690.15" width="5.92" height="8.28" fill="#f3eef6"/>
<rect x="429.97" y="690.15" width="5.92" height="8.28" fill="#f8f7fa"/>
<rect x="436.79" y="690.15" width="5.92" height="8.28" fill="#f8f7fa"/>
<rect x="443.61" y="690.15" width="5.92" height="8.28" fill="#f8f7fa"/>
<rect x="450.43" y="690.15" width="5.92" height="8.28" fill="#f1e5f3"/>
<rect x="457.25" y="690.15" width="5.92" height="8.28" fill="#eedaf0"/>
<rect x="464.07" y="690.15" width="5.92" height="8.28" fill="#f8f7fa"/>
<rect x="470.89" y="690.15" width="5.92" height="8.28" fill="#f8f7fa"/>
<rect x="477.71" y="690.15" width="5.92" height="8.28" fill="#f8f7fa"/>
<rect x="484.53" y="690.15" width="5.92" height="8.28" fill="#f3eef6"/>
<rect x="491.35" y="690.15" width="5.92" height="8.28" fill="#f8f7fa"/>
<rect x="498.17" y="690.15" width="5.92" height="8.28" fill="#f8f7fa"/>
<rect x="504.99" y="690.15" width="5.92" height="8.28" fill="#f1e5f3"/>
<rect x="511.81" y="690.15" width="5.92" height="8.28" fill="#f3eef6"/>
<rect x="518.63" y="690.15" width="5.92" height="8.28" fill="#f8f7fa"/>
<rect x="525.45" y="690.15" width="5.92" height="8.28" fill="#f8f7fa"/>
<rect x="532.27" y="690.15" width="5.92" height="8.28" fill="#f8f7fa"/>
<rect x="539.09" y="690.15" width="5.92" height="8.28" fill="#f8f7fa"/>
<rect x="545.91" y="690.15" width="5.92" height="8.28" fill="#f8f7fa"/>
<rect x="552.73" y="690.15" width="5.92" height="8.28" fill="#f8f7fa"/>
<rect x="559.55" y="690.15" width="5.92" height="8.28" fill="#f8f7fa"/>
<rect x="566.37" y="690.15" width="5.92" height="8.28" fill="#f8f7fa"/>
<rect x="573.19" y="690.15" width="5.92" height="8.28" fill="#f8f7fa"/>
<rect x="580.01" y="690.15" width="5.92" height="8.28" fill="#eedaf0"/>
<rect x="586.83" y="690.15" width="5.92" height="8.28" fill="#f8f7fa"/>
<rect x="593.65" y="690.15" width="5.92" height="8.28" fill="#f8f7fa"/>
<rect x="600.47" y="690.15" width="5.92" height="8.28" fill="#f8f7fa"/>
<rect x="607.29" y="690.15" width="5.92" height="8.28" fill="#f8f7fa"/>
<rect x="614.11" y="690.15" width="5.92" height="8.28" fill="#f8f7fa"/>
<rect x="620.93" y="690.15" width="5.92" height="8.28" fill="#f8f7fa"/>
<rect x="627.75" y="690.15" width="5.92" height="8.28" fill="#f8f7fa"/>
<rect x="634.57" y="690.15" width="5.92" height="8.28" fill="#f8f7fa"/>
<rect x="641.39" y="690.15" width="5.92" height="8.28" fill="#f8f7fa"/>
<rect x="648.21" y="690.15" width="5.92" height="8.28" fill="#f8f7fa"/>
<rect x="655.03" y="690.15" width="5.92" height="8.28" fill="#f8f7fa"/>
<rect x="661.85" y="690.15" width="5.92" height="8.28" fill="#f8f7fa"/>
<rect x="668.67" y="690.15" width="5.92" height="8.28" fill="#f8f7fa"/>
<rect x="232" y="699.33" width="8.2" height="8.28" fill="#fbe5d3"/>
<text transform="translate(229.7 706.02) scale(1 1.1)" font-size="7.1" text-anchor="end" fill="#333333">GLG1</text>
<rect x="252.65" y="699.33" width="5.92" height="8.28" fill="#f8f7fa"/>
<rect x="259.47" y="699.33" width="5.92" height="8.28" fill="#f8f7fa"/>
<rect x="266.29" y="699.33" width="5.92" height="8.28" fill="#f8f7fa"/>
<rect x="273.11" y="699.33" width="5.92" height="8.28" fill="#f8f7fa"/>
<rect x="279.93" y="699.33" width="5.92" height="8.28" fill="#f3eef6"/>
<rect x="286.75" y="699.33" width="5.92" height="8.28" fill="#f8f7fa"/>
<rect x="293.57" y="699.33" width="5.92" height="8.28" fill="#f8f7fa"/>
<rect x="300.39" y="699.33" width="5.92" height="8.28" fill="#f8f7fa"/>
<rect x="307.21" y="699.33" width="5.92" height="8.28" fill="#f8f7fa"/>
<rect x="314.03" y="699.33" width="5.92" height="8.28" fill="#f3eef6"/>
<rect x="320.85" y="699.33" width="5.92" height="8.28" fill="#f8f7fa"/>
<rect x="327.67" y="699.33" width="5.92" height="8.28" fill="#f8f7fa"/>
<rect x="334.49" y="699.33" width="5.92" height="8.28" fill="#f3eef6"/>
<rect x="341.31" y="699.33" width="5.92" height="8.28" fill="#f1e5f3"/>
<rect x="348.13" y="699.33" width="5.92" height="8.28" fill="#f8f7fa"/>
<rect x="354.95" y="699.33" width="5.92" height="8.28" fill="#f3eef6"/>
<rect x="361.77" y="699.33" width="5.92" height="8.28" fill="#f8f7fa"/>
<rect x="368.59" y="699.33" width="5.92" height="8.28" fill="#f1e5f3"/>
<rect x="375.41" y="699.33" width="5.92" height="8.28" fill="#f8f7fa"/>
<rect x="382.23" y="699.33" width="5.92" height="8.28" fill="#f1e5f3"/>
<rect x="389.05" y="699.33" width="5.92" height="8.28" fill="#f1e5f3"/>
<rect x="395.87" y="699.33" width="5.92" height="8.28" fill="#f1e5f3"/>
<rect x="402.69" y="699.33" width="5.92" height="8.28" fill="#f1e5f3"/>
<rect x="409.51" y="699.33" width="5.92" height="8.28" fill="#f3eef6"/>
<rect x="416.33" y="699.33" width="5.92" height="8.28" fill="#f3eef6"/>
<rect x="423.15" y="699.33" width="5.92" height="8.28" fill="#f1e5f3"/>
<rect x="429.97" y="699.33" width="5.92" height="8.28" fill="#f1e5f3"/>
<rect x="436.79" y="699.33" width="5.92" height="8.28" fill="#f8f7fa"/>
<rect x="443.61" y="699.33" width="5.92" height="8.28" fill="#f1e5f3"/>
<rect x="450.43" y="699.33" width="5.92" height="8.28" fill="#f3eef6"/>
<rect x="457.25" y="699.33" width="5.92" height="8.28" fill="#f1e5f3"/>
<rect x="464.07" y="699.33" width="5.92" height="8.28" fill="#f3eef6"/>
<rect x="470.89" y="699.33" width="5.92" height="8.28" fill="#f1e5f3"/>
<rect x="477.71" y="699.33" width="5.92" height="8.28" fill="#f3eef6"/>
<rect x="484.53" y="699.33" width="5.92" height="8.28" fill="#f3eef6"/>
<rect x="491.35" y="699.33" width="5.92" height="8.28" fill="#f3eef6"/>
<rect x="498.17" y="699.33" width="5.92" height="8.28" fill="#f8f7fa"/>
<rect x="504.99" y="699.33" width="5.92" height="8.28" fill="#f3eef6"/>
<rect x="511.81" y="699.33" width="5.92" height="8.28" fill="#f1e5f3"/>
<rect x="518.63" y="699.33" width="5.92" height="8.28" fill="#f3eef6"/>
<rect x="525.45" y="699.33" width="5.92" height="8.28" fill="#f3eef6"/>
<rect x="532.27" y="699.33" width="5.92" height="8.28" fill="#f1e5f3"/>
<rect x="539.09" y="699.33" width="5.92" height="8.28" fill="#f3eef6"/>
<rect x="545.91" y="699.33" width="5.92" height="8.28" fill="#f1e5f3"/>
<rect x="552.73" y="699.33" width="5.92" height="8.28" fill="#f1e5f3"/>
<rect x="559.55" y="699.33" width="5.92" height="8.28" fill="#f3eef6"/>
<rect x="566.37" y="699.33" width="5.92" height="8.28" fill="#f1e5f3"/>
<rect x="573.19" y="699.33" width="5.92" height="8.28" fill="#f3eef6"/>
<rect x="580.01" y="699.33" width="5.92" height="8.28" fill="#f3eef6"/>
<rect x="586.83" y="699.33" width="5.92" height="8.28" fill="#f1e5f3"/>
<rect x="593.65" y="699.33" width="5.92" height="8.28" fill="#f1e5f3"/>
<rect x="600.47" y="699.33" width="5.92" height="8.28" fill="#f3eef6"/>
<rect x="607.29" y="699.33" width="5.92" height="8.28" fill="#f1e5f3"/>
<rect x="614.11" y="699.33" width="5.92" height="8.28" fill="#f1e5f3"/>
<rect x="620.93" y="699.33" width="5.92" height="8.28" fill="#f3eef6"/>
<rect x="627.75" y="699.33" width="5.92" height="8.28" fill="#f3eef6"/>
<rect x="634.57" y="699.33" width="5.92" height="8.28" fill="#f1e5f3"/>
<rect x="641.39" y="699.33" width="5.92" height="8.28" fill="#f3eef6"/>
<rect x="648.21" y="699.33" width="5.92" height="8.28" fill="#f8f7fa"/>
<rect x="655.03" y="699.33" width="5.92" height="8.28" fill="#f1e5f3"/>
<rect x="661.85" y="699.33" width="5.92" height="8.28" fill="#f8f7fa"/>
<rect x="668.67" y="699.33" width="5.92" height="8.28" fill="#f8f7fa"/>
<rect x="232" y="708.51" width="8.2" height="8.28" fill="#f8ede5"/>
<text transform="translate(229.7 715.2) scale(1 1.1)" font-size="7.1" text-anchor="end" fill="#333333">HLA.C</text>
<rect x="252.65" y="708.51" width="5.92" height="8.28" fill="#f8f7fa"/>
<rect x="259.47" y="708.51" width="5.92" height="8.28" fill="#f8f7fa"/>
<rect x="266.29" y="708.51" width="5.92" height="8.28" fill="#f8f7fa"/>
<rect x="273.11" y="708.51" width="5.92" height="8.28" fill="#f8f7fa"/>
<rect x="279.93" y="708.51" width="5.92" height="8.28" fill="#f8f7fa"/>
<rect x="286.75" y="708.51" width="5.92" height="8.28" fill="#f8f7fa"/>
<rect x="293.57" y="708.51" width="5.92" height="8.28" fill="#f8f7fa"/>
<rect x="300.39" y="708.51" width="5.92" height="8.28" fill="#f8f7fa"/>
<rect x="307.21" y="708.51" width="5.92" height="8.28" fill="#f8f7fa"/>
<rect x="314.03" y="708.51" width="5.92" height="8.28" fill="#f8f7fa"/>
<rect x="320.85" y="708.51" width="5.92" height="8.28" fill="#f8f7fa"/>
<rect x="327.67" y="708.51" width="5.92" height="8.28" fill="#f8f7fa"/>
<rect x="334.49" y="708.51" width="5.92" height="8.28" fill="#f8f7fa"/>
<rect x="341.31" y="708.51" width="5.92" height="8.28" fill="#f8f7fa"/>
<rect x="348.13" y="708.51" width="5.92" height="8.28" fill="#f8f7fa"/>
<rect x="354.95" y="708.51" width="5.92" height="8.28" fill="#f8f7fa"/>
<rect x="361.77" y="708.51" width="5.92" height="8.28" fill="#f8f7fa"/>
<rect x="368.59" y="708.51" width="5.92" height="8.28" fill="#f8f7fa"/>
<rect x="375.41" y="708.51" width="5.92" height="8.28" fill="#f8f7fa"/>
<rect x="382.23" y="708.51" width="5.92" height="8.28" fill="#f3eef6"/>
<rect x="389.05" y="708.51" width="5.92" height="8.28" fill="#f8f7fa"/>
<rect x="395.87" y="708.51" width="5.92" height="8.28" fill="#f3eef6"/>
<rect x="402.69" y="708.51" width="5.92" height="8.28" fill="#f8f7fa"/>
<rect x="409.51" y="708.51" width="5.92" height="8.28" fill="#f8f7fa"/>
<rect x="416.33" y="708.51" width="5.92" height="8.28" fill="#f8f7fa"/>
<rect x="423.15" y="708.51" width="5.92" height="8.28" fill="#f3eef6"/>
<rect x="429.97" y="708.51" width="5.92" height="8.28" fill="#f8f7fa"/>
<rect x="436.79" y="708.51" width="5.92" height="8.28" fill="#f8f7fa"/>
<rect x="443.61" y="708.51" width="5.92" height="8.28" fill="#f8f7fa"/>
<rect x="450.43" y="708.51" width="5.92" height="8.28" fill="#f8f7fa"/>
<rect x="457.25" y="708.51" width="5.92" height="8.28" fill="#f3eef6"/>
<rect x="464.07" y="708.51" width="5.92" height="8.28" fill="#f8f7fa"/>
<rect x="470.89" y="708.51" width="5.92" height="8.28" fill="#f8f7fa"/>
<rect x="477.71" y="708.51" width="5.92" height="8.28" fill="#f8f7fa"/>
<rect x="484.53" y="708.51" width="5.92" height="8.28" fill="#f3eef6"/>
<rect x="491.35" y="708.51" width="5.92" height="8.28" fill="#f8f7fa"/>
<rect x="498.17" y="708.51" width="5.92" height="8.28" fill="#f8f7fa"/>
<rect x="504.99" y="708.51" width="5.92" height="8.28" fill="#f3eef6"/>
<rect x="511.81" y="708.51" width="5.92" height="8.28" fill="#f3eef6"/>
<rect x="518.63" y="708.51" width="5.92" height="8.28" fill="#f8f7fa"/>
<rect x="525.45" y="708.51" width="5.92" height="8.28" fill="#f8f7fa"/>
<rect x="532.27" y="708.51" width="5.92" height="8.28" fill="#f8f7fa"/>
<rect x="539.09" y="708.51" width="5.92" height="8.28" fill="#f8f7fa"/>
<rect x="545.91" y="708.51" width="5.92" height="8.28" fill="#f8f7fa"/>
<rect x="552.73" y="708.51" width="5.92" height="8.28" fill="#f8f7fa"/>
<rect x="559.55" y="708.51" width="5.92" height="8.28" fill="#f8f7fa"/>
<rect x="566.37" y="708.51" width="5.92" height="8.28" fill="#f8f7fa"/>
<rect x="573.19" y="708.51" width="5.92" height="8.28" fill="#f8f7fa"/>
<rect x="580.01" y="708.51" width="5.92" height="8.28" fill="#f8f7fa"/>
<rect x="586.83" y="708.51" width="5.92" height="8.28" fill="#f8f7fa"/>
<rect x="593.65" y="708.51" width="5.92" height="8.28" fill="#f8f7fa"/>
<rect x="600.47" y="708.51" width="5.92" height="8.28" fill="#f8f7fa"/>
<rect x="607.29" y="708.51" width="5.92" height="8.28" fill="#f8f7fa"/>
<rect x="614.11" y="708.51" width="5.92" height="8.28" fill="#f8f7fa"/>
<rect x="620.93" y="708.51" width="5.92" height="8.28" fill="#f8f7fa"/>
<rect x="627.75" y="708.51" width="5.92" height="8.28" fill="#f8f7fa"/>
<rect x="634.57" y="708.51" width="5.92" height="8.28" fill="#f8f7fa"/>
<rect x="641.39" y="708.51" width="5.92" height="8.28" fill="#f8f7fa"/>
<rect x="648.21" y="708.51" width="5.92" height="8.28" fill="#f8f7fa"/>
<rect x="655.03" y="708.51" width="5.92" height="8.28" fill="#f8f7fa"/>
<rect x="661.85" y="708.51" width="5.92" height="8.28" fill="#f8f7fa"/>
<rect x="668.67" y="708.51" width="5.92" height="8.28" fill="#f8f7fa"/>
<rect x="232" y="717.69" width="8.2" height="8.28" fill="#f8ede5"/>
<text transform="translate(229.7 724.38) scale(1 1.1)" font-size="7.1" text-anchor="end" fill="#333333">S100A8</text>
<rect x="252.65" y="717.69" width="5.92" height="8.28" fill="#f8f7fa"/>
<rect x="259.47" y="717.69" width="5.92" height="8.28" fill="#f8f7fa"/>
<rect x="266.29" y="717.69" width="5.92" height="8.28" fill="#f8f7fa"/>
<rect x="273.11" y="717.69" width="5.92" height="8.28" fill="#f8f7fa"/>
<rect x="279.93" y="717.69" width="5.92" height="8.28" fill="#f8f7fa"/>
<rect x="286.75" y="717.69" width="5.92" height="8.28" fill="#f8f7fa"/>
<rect x="293.57" y="717.69" width="5.92" height="8.28" fill="#f8f7fa"/>
<rect x="300.39" y="717.69" width="5.92" height="8.28" fill="#f8f7fa"/>
<rect x="307.21" y="717.69" width="5.92" height="8.28" fill="#f8f7fa"/>
<rect x="314.03" y="717.69" width="5.92" height="8.28" fill="#f3eef6"/>
<rect x="320.85" y="717.69" width="5.92" height="8.28" fill="#f8f7fa"/>
<rect x="327.67" y="717.69" width="5.92" height="8.28" fill="#f8f7fa"/>
<rect x="334.49" y="717.69" width="5.92" height="8.28" fill="#f8f7fa"/>
<rect x="341.31" y="717.69" width="5.92" height="8.28" fill="#f3eef6"/>
<rect x="348.13" y="717.69" width="5.92" height="8.28" fill="#f8f7fa"/>
<rect x="354.95" y="717.69" width="5.92" height="8.28" fill="#f8f7fa"/>
<rect x="361.77" y="717.69" width="5.92" height="8.28" fill="#f8f7fa"/>
<rect x="368.59" y="717.69" width="5.92" height="8.28" fill="#f3eef6"/>
<rect x="375.41" y="717.69" width="5.92" height="8.28" fill="#f8f7fa"/>
<rect x="382.23" y="717.69" width="5.92" height="8.28" fill="#f1e5f3"/>
<rect x="389.05" y="717.69" width="5.92" height="8.28" fill="#f3eef6"/>
<rect x="395.87" y="717.69" width="5.92" height="8.28" fill="#f1e5f3"/>
<rect x="402.69" y="717.69" width="5.92" height="8.28" fill="#ebcdec"/>
<rect x="409.51" y="717.69" width="5.92" height="8.28" fill="#f3eef6"/>
<rect x="416.33" y="717.69" width="5.92" height="8.28" fill="#f3eef6"/>
<rect x="423.15" y="717.69" width="5.92" height="8.28" fill="#f1e5f3"/>
<rect x="429.97" y="717.69" width="5.92" height="8.28" fill="#f3eef6"/>
<rect x="436.79" y="717.69" width="5.92" height="8.28" fill="#f3eef6"/>
<rect x="443.61" y="717.69" width="5.92" height="8.28" fill="#f3eef6"/>
<rect x="450.43" y="717.69" width="5.92" height="8.28" fill="#ebcdec"/>
<rect x="457.25" y="717.69" width="5.92" height="8.28" fill="#e7bde8"/>
<rect x="464.07" y="717.69" width="5.92" height="8.28" fill="#f3eef6"/>
<rect x="470.89" y="717.69" width="5.92" height="8.28" fill="#f3eef6"/>
<rect x="477.71" y="717.69" width="5.92" height="8.28" fill="#f3eef6"/>
<rect x="484.53" y="717.69" width="5.92" height="8.28" fill="#f1e5f3"/>
<rect x="491.35" y="717.69" width="5.92" height="8.28" fill="#f3eef6"/>
<rect x="498.17" y="717.69" width="5.92" height="8.28" fill="#f3eef6"/>
<rect x="504.99" y="717.69" width="5.92" height="8.28" fill="#ebcdec"/>
<rect x="511.81" y="717.69" width="5.92" height="8.28" fill="#f1e5f3"/>
<rect x="518.63" y="717.69" width="5.92" height="8.28" fill="#f3eef6"/>
<rect x="525.45" y="717.69" width="5.92" height="8.28" fill="#f3eef6"/>
<rect x="532.27" y="717.69" width="5.92" height="8.28" fill="#f3eef6"/>
<rect x="539.09" y="717.69" width="5.92" height="8.28" fill="#f3eef6"/>
<rect x="545.91" y="717.69" width="5.92" height="8.28" fill="#f3eef6"/>
<rect x="552.73" y="717.69" width="5.92" height="8.28" fill="#f3eef6"/>
<rect x="559.55" y="717.69" width="5.92" height="8.28" fill="#f3eef6"/>
<rect x="566.37" y="717.69" width="5.92" height="8.28" fill="#f3eef6"/>
<rect x="573.19" y="717.69" width="5.92" height="8.28" fill="#f8f7fa"/>
<rect x="580.01" y="717.69" width="5.92" height="8.28" fill="#f3eef6"/>
<rect x="586.83" y="717.69" width="5.92" height="8.28" fill="#f3eef6"/>
<rect x="593.65" y="717.69" width="5.92" height="8.28" fill="#f3eef6"/>
<rect x="600.47" y="717.69" width="5.92" height="8.28" fill="#f8f7fa"/>
<rect x="607.29" y="717.69" width="5.92" height="8.28" fill="#f3eef6"/>
<rect x="614.11" y="717.69" width="5.92" height="8.28" fill="#f3eef6"/>
<rect x="620.93" y="717.69" width="5.92" height="8.28" fill="#f3eef6"/>
<rect x="627.75" y="717.69" width="5.92" height="8.28" fill="#f8f7fa"/>
<rect x="634.57" y="717.69" width="5.92" height="8.28" fill="#f8f7fa"/>
<rect x="641.39" y="717.69" width="5.92" height="8.28" fill="#f3eef6"/>
<rect x="648.21" y="717.69" width="5.92" height="8.28" fill="#ebcdec"/>
<rect x="655.03" y="717.69" width="5.92" height="8.28" fill="#f3eef6"/>
<rect x="661.85" y="717.69" width="5.92" height="8.28" fill="#f8f7fa"/>
<rect x="668.67" y="717.69" width="5.92" height="8.28" fill="#f8f7fa"/>
<rect x="232" y="726.87" width="8.2" height="8.28" fill="#f7efe8"/>
<text transform="translate(229.7 733.56) scale(1 1.1)" font-size="7.1" text-anchor="end" fill="#333333">VCAM1</text>
<rect x="252.65" y="726.87" width="5.92" height="8.28" fill="#f8f7fa"/>
<rect x="259.47" y="726.87" width="5.92" height="8.28" fill="#f8f7fa"/>
<rect x="266.29" y="726.87" width="5.92" height="8.28" fill="#f8f7fa"/>
<rect x="273.11" y="726.87" width="5.92" height="8.28" fill="#f8f7fa"/>
<rect x="279.93" y="726.87" width="5.92" height="8.28" fill="#f8f7fa"/>
<rect x="286.75" y="726.87" width="5.92" height="8.28" fill="#f8f7fa"/>
<rect x="293.57" y="726.87" width="5.92" height="8.28" fill="#f8f7fa"/>
<rect x="300.39" y="726.87" width="5.92" height="8.28" fill="#f8f7fa"/>
<rect x="307.21" y="726.87" width="5.92" height="8.28" fill="#f8f7fa"/>
<rect x="314.03" y="726.87" width="5.92" height="8.28" fill="#f8f7fa"/>
<rect x="320.85" y="726.87" width="5.92" height="8.28" fill="#f8f7fa"/>
<rect x="327.67" y="726.87" width="5.92" height="8.28" fill="#f8f7fa"/>
<rect x="334.49" y="726.87" width="5.92" height="8.28" fill="#f8f7fa"/>
<rect x="341.31" y="726.87" width="5.92" height="8.28" fill="#f8f7fa"/>
<rect x="348.13" y="726.87" width="5.92" height="8.28" fill="#f8f7fa"/>
<rect x="354.95" y="726.87" width="5.92" height="8.28" fill="#f8f7fa"/>
<rect x="361.77" y="726.87" width="5.92" height="8.28" fill="#f8f7fa"/>
<rect x="368.59" y="726.87" width="5.92" height="8.28" fill="#f8f7fa"/>
<rect x="375.41" y="726.87" width="5.92" height="8.28" fill="#f8f7fa"/>
<rect x="382.23" y="726.87" width="5.92" height="8.28" fill="#f3eef6"/>
<rect x="389.05" y="726.87" width="5.92" height="8.28" fill="#f8f7fa"/>
<rect x="395.87" y="726.87" width="5.92" height="8.28" fill="#f3eef6"/>
<rect x="402.69" y="726.87" width="5.92" height="8.28" fill="#f8f7fa"/>
<rect x="409.51" y="726.87" width="5.92" height="8.28" fill="#f8f7fa"/>
<rect x="416.33" y="726.87" width="5.92" height="8.28" fill="#f8f7fa"/>
<rect x="423.15" y="726.87" width="5.92" height="8.28" fill="#f3eef6"/>
<rect x="429.97" y="726.87" width="5.92" height="8.28" fill="#f8f7fa"/>
<rect x="436.79" y="726.87" width="5.92" height="8.28" fill="#f8f7fa"/>
<rect x="443.61" y="726.87" width="5.92" height="8.28" fill="#f8f7fa"/>
<rect x="450.43" y="726.87" width="5.92" height="8.28" fill="#f8f7fa"/>
<rect x="457.25" y="726.87" width="5.92" height="8.28" fill="#f3eef6"/>
<rect x="464.07" y="726.87" width="5.92" height="8.28" fill="#f8f7fa"/>
<rect x="470.89" y="726.87" width="5.92" height="8.28" fill="#f8f7fa"/>
<rect x="477.71" y="726.87" width="5.92" height="8.28" fill="#f8f7fa"/>
<rect x="484.53" y="726.87" width="5.92" height="8.28" fill="#f8f7fa"/>
<rect x="491.35" y="726.87" width="5.92" height="8.28" fill="#f8f7fa"/>
<rect x="498.17" y="726.87" width="5.92" height="8.28" fill="#f8f7fa"/>
<rect x="504.99" y="726.87" width="5.92" height="8.28" fill="#f8f7fa"/>
<rect x="511.81" y="726.87" width="5.92" height="8.28" fill="#f3eef6"/>
<rect x="518.63" y="726.87" width="5.92" height="8.28" fill="#f8f7fa"/>
<rect x="525.45" y="726.87" width="5.92" height="8.28" fill="#f8f7fa"/>
<rect x="532.27" y="726.87" width="5.92" height="8.28" fill="#f8f7fa"/>
<rect x="539.09" y="726.87" width="5.92" height="8.28" fill="#f8f7fa"/>
<rect x="545.91" y="726.87" width="5.92" height="8.28" fill="#f8f7fa"/>
<rect x="552.73" y="726.87" width="5.92" height="8.28" fill="#f8f7fa"/>
<rect x="559.55" y="726.87" width="5.92" height="8.28" fill="#f8f7fa"/>
<rect x="566.37" y="726.87" width="5.92" height="8.28" fill="#f8f7fa"/>
<rect x="573.19" y="726.87" width="5.92" height="8.28" fill="#f8f7fa"/>
<rect x="580.01" y="726.87" width="5.92" height="8.28" fill="#f8f7fa"/>
<rect x="586.83" y="726.87" width="5.92" height="8.28" fill="#f8f7fa"/>
<rect x="593.65" y="726.87" width="5.92" height="8.28" fill="#f8f7fa"/>
<rect x="600.47" y="726.87" width="5.92" height="8.28" fill="#f8f7fa"/>
<rect x="607.29" y="726.87" width="5.92" height="8.28" fill="#f8f7fa"/>
<rect x="614.11" y="726.87" width="5.92" height="8.28" fill="#f8f7fa"/>
<rect x="620.93" y="726.87" width="5.92" height="8.28" fill="#f8f7fa"/>
<rect x="627.75" y="726.87" width="5.92" height="8.28" fill="#f8f7fa"/>
<rect x="634.57" y="726.87" width="5.92" height="8.28" fill="#f8f7fa"/>
<rect x="641.39" y="726.87" width="5.92" height="8.28" fill="#f8f7fa"/>
<rect x="648.21" y="726.87" width="5.92" height="8.28" fill="#f8f7fa"/>
<rect x="655.03" y="726.87" width="5.92" height="8.28" fill="#f8f7fa"/>
<rect x="661.85" y="726.87" width="5.92" height="8.28" fill="#f8f7fa"/>
<rect x="668.67" y="726.87" width="5.92" height="8.28" fill="#f8f7fa"/>
<rect x="232" y="736.05" width="8.2" height="8.28" fill="#f4f2f2"/>
<text transform="translate(229.7 742.74) scale(1 1.1)" font-size="7.1" text-anchor="end" fill="#333333">LGALS3</text>
<rect x="252.65" y="736.05" width="5.92" height="8.28" fill="#f8f7fa"/>
<rect x="259.47" y="736.05" width="5.92" height="8.28" fill="#f8f7fa"/>
<rect x="266.29" y="736.05" width="5.92" height="8.28" fill="#f8f7fa"/>
<rect x="273.11" y="736.05" width="5.92" height="8.28" fill="#f8f7fa"/>
<rect x="279.93" y="736.05" width="5.92" height="8.28" fill="#f8f7fa"/>
<rect x="286.75" y="736.05" width="5.92" height="8.28" fill="#f8f7fa"/>
<rect x="293.57" y="736.05" width="5.92" height="8.28" fill="#f8f7fa"/>
<rect x="300.39" y="736.05" width="5.92" height="8.28" fill="#f8f7fa"/>
<rect x="307.21" y="736.05" width="5.92" height="8.28" fill="#f8f7fa"/>
<rect x="314.03" y="736.05" width="5.92" height="8.28" fill="#f8f7fa"/>
<rect x="320.85" y="736.05" width="5.92" height="8.28" fill="#f8f7fa"/>
<rect x="327.67" y="736.05" width="5.92" height="8.28" fill="#f8f7fa"/>
<rect x="334.49" y="736.05" width="5.92" height="8.28" fill="#f8f7fa"/>
<rect x="341.31" y="736.05" width="5.92" height="8.28" fill="#f8f7fa"/>
<rect x="348.13" y="736.05" width="5.92" height="8.28" fill="#f8f7fa"/>
<rect x="354.95" y="736.05" width="5.92" height="8.28" fill="#f8f7fa"/>
<rect x="361.77" y="736.05" width="5.92" height="8.28" fill="#f8f7fa"/>
<rect x="368.59" y="736.05" width="5.92" height="8.28" fill="#f8f7fa"/>
<rect x="375.41" y="736.05" width="5.92" height="8.28" fill="#f8f7fa"/>
<rect x="382.23" y="736.05" width="5.92" height="8.28" fill="#f3eef6"/>
<rect x="389.05" y="736.05" width="5.92" height="8.28" fill="#f8f7fa"/>
<rect x="395.87" y="736.05" width="5.92" height="8.28" fill="#f3eef6"/>
<rect x="402.69" y="736.05" width="5.92" height="8.28" fill="#f8f7fa"/>
<rect x="409.51" y="736.05" width="5.92" height="8.28" fill="#f8f7fa"/>
<rect x="416.33" y="736.05" width="5.92" height="8.28" fill="#f8f7fa"/>
<rect x="423.15" y="736.05" width="5.92" height="8.28" fill="#f3eef6"/>
<rect x="429.97" y="736.05" width="5.92" height="8.28" fill="#f8f7fa"/>
<rect x="436.79" y="736.05" width="5.92" height="8.28" fill="#f8f7fa"/>
<rect x="443.61" y="736.05" width="5.92" height="8.28" fill="#f8f7fa"/>
<rect x="450.43" y="736.05" width="5.92" height="8.28" fill="#f8f7fa"/>
<rect x="457.25" y="736.05" width="5.92" height="8.28" fill="#ebcdec"/>
<rect x="464.07" y="736.05" width="5.92" height="8.28" fill="#f8f7fa"/>
<rect x="470.89" y="736.05" width="5.92" height="8.28" fill="#f8f7fa"/>
<rect x="477.71" y="736.05" width="5.92" height="8.28" fill="#f8f7fa"/>
<rect x="484.53" y="736.05" width="5.92" height="8.28" fill="#f3eef6"/>
<rect x="491.35" y="736.05" width="5.92" height="8.28" fill="#ebcdec"/>
<rect x="498.17" y="736.05" width="5.92" height="8.28" fill="#f8f7fa"/>
<rect x="504.99" y="736.05" width="5.92" height="8.28" fill="#f8f7fa"/>
<rect x="511.81" y="736.05" width="5.92" height="8.28" fill="#f3eef6"/>
<rect x="518.63" y="736.05" width="5.92" height="8.28" fill="#f8f7fa"/>
<rect x="525.45" y="736.05" width="5.92" height="8.28" fill="#f8f7fa"/>
<rect x="532.27" y="736.05" width="5.92" height="8.28" fill="#ebcdec"/>
<rect x="539.09" y="736.05" width="5.92" height="8.28" fill="#f8f7fa"/>
<rect x="545.91" y="736.05" width="5.92" height="8.28" fill="#ebcdec"/>
<rect x="552.73" y="736.05" width="5.92" height="8.28" fill="#f8f7fa"/>
<rect x="559.55" y="736.05" width="5.92" height="8.28" fill="#f8f7fa"/>
<rect x="566.37" y="736.05" width="5.92" height="8.28" fill="#f8f7fa"/>
<rect x="573.19" y="736.05" width="5.92" height="8.28" fill="#f8f7fa"/>
<rect x="580.01" y="736.05" width="5.92" height="8.28" fill="#f8f7fa"/>
<rect x="586.83" y="736.05" width="5.92" height="8.28" fill="#f8f7fa"/>
<rect x="593.65" y="736.05" width="5.92" height="8.28" fill="#f8f7fa"/>
<rect x="600.47" y="736.05" width="5.92" height="8.28" fill="#f8f7fa"/>
<rect x="607.29" y="736.05" width="5.92" height="8.28" fill="#f8f7fa"/>
<rect x="614.11" y="736.05" width="5.92" height="8.28" fill="#f8f7fa"/>
<rect x="620.93" y="736.05" width="5.92" height="8.28" fill="#f8f7fa"/>
<rect x="627.75" y="736.05" width="5.92" height="8.28" fill="#f8f7fa"/>
<rect x="634.57" y="736.05" width="5.92" height="8.28" fill="#f8f7fa"/>
<rect x="641.39" y="736.05" width="5.92" height="8.28" fill="#f8f7fa"/>
<rect x="648.21" y="736.05" width="5.92" height="8.28" fill="#f8f7fa"/>
<rect x="655.03" y="736.05" width="5.92" height="8.28" fill="#f8f7fa"/>
<rect x="661.85" y="736.05" width="5.92" height="8.28" fill="#f8f7fa"/>
<rect x="668.67" y="736.05" width="5.92" height="8.28" fill="#f8f7fa"/>
<rect x="232" y="745.23" width="8.2" height="8.28" fill="#f3f2f3"/>
<text transform="translate(229.7 751.92) scale(1 1.1)" font-size="7.1" text-anchor="end" fill="#333333">NAMPT</text>
<rect x="252.65" y="745.23" width="5.92" height="8.28" fill="#f3eef6"/>
<rect x="259.47" y="745.23" width="5.92" height="8.28" fill="#f8f7fa"/>
<rect x="266.29" y="745.23" width="5.92" height="8.28" fill="#f8f7fa"/>
<rect x="273.11" y="745.23" width="5.92" height="8.28" fill="#f8f7fa"/>
<rect x="279.93" y="745.23" width="5.92" height="8.28" fill="#f8f7fa"/>
<rect x="286.75" y="745.23" width="5.92" height="8.28" fill="#f8f7fa"/>
<rect x="293.57" y="745.23" width="5.92" height="8.28" fill="#f8f7fa"/>
<rect x="300.39" y="745.23" width="5.92" height="8.28" fill="#f8f7fa"/>
<rect x="307.21" y="745.23" width="5.92" height="8.28" fill="#f8f7fa"/>
<rect x="314.03" y="745.23" width="5.92" height="8.28" fill="#f3eef6"/>
<rect x="320.85" y="745.23" width="5.92" height="8.28" fill="#f8f7fa"/>
<rect x="327.67" y="745.23" width="5.92" height="8.28" fill="#f3eef6"/>
<rect x="334.49" y="745.23" width="5.92" height="8.28" fill="#f3eef6"/>
<rect x="341.31" y="745.23" width="5.92" height="8.28" fill="#f3eef6"/>
<rect x="348.13" y="745.23" width="5.92" height="8.28" fill="#f3eef6"/>
<rect x="354.95" y="745.23" width="5.92" height="8.28" fill="#f3eef6"/>
<rect x="361.77" y="745.23" width="5.92" height="8.28" fill="#f8f7fa"/>
<rect x="368.59" y="745.23" width="5.92" height="8.28" fill="#f3eef6"/>
<rect x="375.41" y="745.23" width="5.92" height="8.28" fill="#f8f7fa"/>
<rect x="382.23" y="745.23" width="5.92" height="8.28" fill="#f1e5f3"/>
<rect x="389.05" y="745.23" width="5.92" height="8.28" fill="#f3eef6"/>
<rect x="395.87" y="745.23" width="5.92" height="8.28" fill="#f1e5f3"/>
<rect x="402.69" y="745.23" width="5.92" height="8.28" fill="#f3eef6"/>
<rect x="409.51" y="745.23" width="5.92" height="8.28" fill="#f3eef6"/>
<rect x="416.33" y="745.23" width="5.92" height="8.28" fill="#f3eef6"/>
<rect x="423.15" y="745.23" width="5.92" height="8.28" fill="#f1e5f3"/>
<rect x="429.97" y="745.23" width="5.92" height="8.28" fill="#ebcdec"/>
<rect x="436.79" y="745.23" width="5.92" height="8.28" fill="#f3eef6"/>
<rect x="443.61" y="745.23" width="5.92" height="8.28" fill="#f3eef6"/>
<rect x="450.43" y="745.23" width="5.92" height="8.28" fill="#ebcdec"/>
<rect x="457.25" y="745.23" width="5.92" height="8.28" fill="#e7bde8"/>
<rect x="464.07" y="745.23" width="5.92" height="8.28" fill="#f3eef6"/>
<rect x="470.89" y="745.23" width="5.92" height="8.28" fill="#f3eef6"/>
<rect x="477.71" y="745.23" width="5.92" height="8.28" fill="#f3eef6"/>
<rect x="484.53" y="745.23" width="5.92" height="8.28" fill="#f1e5f3"/>
<rect x="491.35" y="745.23" width="5.92" height="8.28" fill="#f3eef6"/>
<rect x="498.17" y="745.23" width="5.92" height="8.28" fill="#f3eef6"/>
<rect x="504.99" y="745.23" width="5.92" height="8.28" fill="#ebcdec"/>
<rect x="511.81" y="745.23" width="5.92" height="8.28" fill="#e7bde8"/>
<rect x="518.63" y="745.23" width="5.92" height="8.28" fill="#f3eef6"/>
<rect x="525.45" y="745.23" width="5.92" height="8.28" fill="#f3eef6"/>
<rect x="532.27" y="745.23" width="5.92" height="8.28" fill="#ebcdec"/>
<rect x="539.09" y="745.23" width="5.92" height="8.28" fill="#f3eef6"/>
<rect x="545.91" y="745.23" width="5.92" height="8.28" fill="#f3eef6"/>
<rect x="552.73" y="745.23" width="5.92" height="8.28" fill="#f3eef6"/>
<rect x="559.55" y="745.23" width="5.92" height="8.28" fill="#f3eef6"/>
<rect x="566.37" y="745.23" width="5.92" height="8.28" fill="#f3eef6"/>
<rect x="573.19" y="745.23" width="5.92" height="8.28" fill="#f3eef6"/>
<rect x="580.01" y="745.23" width="5.92" height="8.28" fill="#f3eef6"/>
<rect x="586.83" y="745.23" width="5.92" height="8.28" fill="#f3eef6"/>
<rect x="593.65" y="745.23" width="5.92" height="8.28" fill="#f3eef6"/>
<rect x="600.47" y="745.23" width="5.92" height="8.28" fill="#f8f7fa"/>
<rect x="607.29" y="745.23" width="5.92" height="8.28" fill="#f3eef6"/>
<rect x="614.11" y="745.23" width="5.92" height="8.28" fill="#f3eef6"/>
<rect x="620.93" y="745.23" width="5.92" height="8.28" fill="#f3eef6"/>
<rect x="627.75" y="745.23" width="5.92" height="8.28" fill="#f8f7fa"/>
<rect x="634.57" y="745.23" width="5.92" height="8.28" fill="#f8f7fa"/>
<rect x="641.39" y="745.23" width="5.92" height="8.28" fill="#f3eef6"/>
<rect x="648.21" y="745.23" width="5.92" height="8.28" fill="#f3eef6"/>
<rect x="655.03" y="745.23" width="5.92" height="8.28" fill="#f3eef6"/>
<rect x="661.85" y="745.23" width="5.92" height="8.28" fill="#f8f7fa"/>
<rect x="668.67" y="745.23" width="5.92" height="8.28" fill="#f8f7fa"/>
<rect x="232" y="754.41" width="8.2" height="8.28" fill="#f3f3f4"/>
<text transform="translate(229.7 761.1) scale(1 1.1)" font-size="7.1" text-anchor="end" fill="#333333">EZR</text>
<rect x="252.65" y="754.41" width="5.92" height="8.28" fill="#f8f7fa"/>
<rect x="259.47" y="754.41" width="5.92" height="8.28" fill="#f8f7fa"/>
<rect x="266.29" y="754.41" width="5.92" height="8.28" fill="#f8f7fa"/>
<rect x="273.11" y="754.41" width="5.92" height="8.28" fill="#f8f7fa"/>
<rect x="279.93" y="754.41" width="5.92" height="8.28" fill="#f8f7fa"/>
<rect x="286.75" y="754.41" width="5.92" height="8.28" fill="#f8f7fa"/>
<rect x="293.57" y="754.41" width="5.92" height="8.28" fill="#f8f7fa"/>
<rect x="300.39" y="754.41" width="5.92" height="8.28" fill="#f8f7fa"/>
<rect x="307.21" y="754.41" width="5.92" height="8.28" fill="#f8f7fa"/>
<rect x="314.03" y="754.41" width="5.92" height="8.28" fill="#f8f7fa"/>
<rect x="320.85" y="754.41" width="5.92" height="8.28" fill="#f8f7fa"/>
<rect x="327.67" y="754.41" width="5.92" height="8.28" fill="#f8f7fa"/>
<rect x="334.49" y="754.41" width="5.92" height="8.28" fill="#f8f7fa"/>
<rect x="341.31" y="754.41" width="5.92" height="8.28" fill="#f8f7fa"/>
<rect x="348.13" y="754.41" width="5.92" height="8.28" fill="#f8f7fa"/>
<rect x="354.95" y="754.41" width="5.92" height="8.28" fill="#f8f7fa"/>
<rect x="361.77" y="754.41" width="5.92" height="8.28" fill="#f8f7fa"/>
<rect x="368.59" y="754.41" width="5.92" height="8.28" fill="#f8f7fa"/>
<rect x="375.41" y="754.41" width="5.92" height="8.28" fill="#f8f7fa"/>
<rect x="382.23" y="754.41" width="5.92" height="8.28" fill="#f3eef6"/>
<rect x="389.05" y="754.41" width="5.92" height="8.28" fill="#f8f7fa"/>
<rect x="395.87" y="754.41" width="5.92" height="8.28" fill="#f3eef6"/>
<rect x="402.69" y="754.41" width="5.92" height="8.28" fill="#f3eef6"/>
<rect x="409.51" y="754.41" width="5.92" height="8.28" fill="#eedaf0"/>
<rect x="416.33" y="754.41" width="5.92" height="8.28" fill="#f8f7fa"/>
<rect x="423.15" y="754.41" width="5.92" height="8.28" fill="#f3eef6"/>
<rect x="429.97" y="754.41" width="5.92" height="8.28" fill="#f3eef6"/>
<rect x="436.79" y="754.41" width="5.92" height="8.28" fill="#f8f7fa"/>
<rect x="443.61" y="754.41" width="5.92" height="8.28" fill="#f8f7fa"/>
<rect x="450.43" y="754.41" width="5.92" height="8.28" fill="#f8f7fa"/>
<rect x="457.25" y="754.41" width="5.92" height="8.28" fill="#f3eef6"/>
<rect x="464.07" y="754.41" width="5.92" height="8.28" fill="#f8f7fa"/>
<rect x="470.89" y="754.41" width="5.92" height="8.28" fill="#f8f7fa"/>
<rect x="477.71" y="754.41" width="5.92" height="8.28" fill="#f8f7fa"/>
<rect x="484.53" y="754.41" width="5.92" height="8.28" fill="#eedaf0"/>
<rect x="491.35" y="754.41" width="5.92" height="8.28" fill="#f8f7fa"/>
<rect x="498.17" y="754.41" width="5.92" height="8.28" fill="#f8f7fa"/>
<rect x="504.99" y="754.41" width="5.92" height="8.28" fill="#f3eef6"/>
<rect x="511.81" y="754.41" width="5.92" height="8.28" fill="#f3eef6"/>
<rect x="518.63" y="754.41" width="5.92" height="8.28" fill="#eedaf0"/>
<rect x="525.45" y="754.41" width="5.92" height="8.28" fill="#f8f7fa"/>
<rect x="532.27" y="754.41" width="5.92" height="8.28" fill="#f8f7fa"/>
<rect x="539.09" y="754.41" width="5.92" height="8.28" fill="#f8f7fa"/>
<rect x="545.91" y="754.41" width="5.92" height="8.28" fill="#f8f7fa"/>
<rect x="552.73" y="754.41" width="5.92" height="8.28" fill="#f8f7fa"/>
<rect x="559.55" y="754.41" width="5.92" height="8.28" fill="#f8f7fa"/>
<rect x="566.37" y="754.41" width="5.92" height="8.28" fill="#f8f7fa"/>
<rect x="573.19" y="754.41" width="5.92" height="8.28" fill="#f8f7fa"/>
<rect x="580.01" y="754.41" width="5.92" height="8.28" fill="#f8f7fa"/>
<rect x="586.83" y="754.41" width="5.92" height="8.28" fill="#f8f7fa"/>
<rect x="593.65" y="754.41" width="5.92" height="8.28" fill="#f8f7fa"/>
<rect x="600.47" y="754.41" width="5.92" height="8.28" fill="#f8f7fa"/>
<rect x="607.29" y="754.41" width="5.92" height="8.28" fill="#f8f7fa"/>
<rect x="614.11" y="754.41" width="5.92" height="8.28" fill="#f8f7fa"/>
<rect x="620.93" y="754.41" width="5.92" height="8.28" fill="#f8f7fa"/>
<rect x="627.75" y="754.41" width="5.92" height="8.28" fill="#f8f7fa"/>
<rect x="634.57" y="754.41" width="5.92" height="8.28" fill="#f8f7fa"/>
<rect x="641.39" y="754.41" width="5.92" height="8.28" fill="#f8f7fa"/>
<rect x="648.21" y="754.41" width="5.92" height="8.28" fill="#f8f7fa"/>
<rect x="655.03" y="754.41" width="5.92" height="8.28" fill="#f8f7fa"/>
<rect x="661.85" y="754.41" width="5.92" height="8.28" fill="#f8f7fa"/>
<rect x="668.67" y="754.41" width="5.92" height="8.28" fill="#f8f7fa"/>
<rect x="232" y="763.59" width="8.2" height="8.28" fill="#f3f3f5"/>
<text transform="translate(229.7 770.28) scale(1 1.1)" font-size="7.1" text-anchor="end" fill="#333333">LRPAP1</text>
<rect x="252.65" y="763.59" width="5.92" height="8.28" fill="#f8f7fa"/>
<rect x="259.47" y="763.59" width="5.92" height="8.28" fill="#f8f7fa"/>
<rect x="266.29" y="763.59" width="5.92" height="8.28" fill="#f8f7fa"/>
<rect x="273.11" y="763.59" width="5.92" height="8.28" fill="#f8f7fa"/>
<rect x="279.93" y="763.59" width="5.92" height="8.28" fill="#f8f7fa"/>
<rect x="286.75" y="763.59" width="5.92" height="8.28" fill="#f8f7fa"/>
<rect x="293.57" y="763.59" width="5.92" height="8.28" fill="#f8f7fa"/>
<rect x="300.39" y="763.59" width="5.92" height="8.28" fill="#f8f7fa"/>
<rect x="307.21" y="763.59" width="5.92" height="8.28" fill="#f8f7fa"/>
<rect x="314.03" y="763.59" width="5.92" height="8.28" fill="#f8f7fa"/>
<rect x="320.85" y="763.59" width="5.92" height="8.28" fill="#f8f7fa"/>
<rect x="327.67" y="763.59" width="5.92" height="8.28" fill="#f8f7fa"/>
<rect x="334.49" y="763.59" width="5.92" height="8.28" fill="#f8f7fa"/>
<rect x="341.31" y="763.59" width="5.92" height="8.28" fill="#f8f7fa"/>
<rect x="348.13" y="763.59" width="5.92" height="8.28" fill="#f8f7fa"/>
<rect x="354.95" y="763.59" width="5.92" height="8.28" fill="#f8f7fa"/>
<rect x="361.77" y="763.59" width="5.92" height="8.28" fill="#f8f7fa"/>
<rect x="368.59" y="763.59" width="5.92" height="8.28" fill="#f8f7fa"/>
<rect x="375.41" y="763.59" width="5.92" height="8.28" fill="#f8f7fa"/>
<rect x="382.23" y="763.59" width="5.92" height="8.28" fill="#f3eef6"/>
<rect x="389.05" y="763.59" width="5.92" height="8.28" fill="#f8f7fa"/>
<rect x="395.87" y="763.59" width="5.92" height="8.28" fill="#f3eef6"/>
<rect x="402.69" y="763.59" width="5.92" height="8.28" fill="#f8f7fa"/>
<rect x="409.51" y="763.59" width="5.92" height="8.28" fill="#f8f7fa"/>
<rect x="416.33" y="763.59" width="5.92" height="8.28" fill="#f8f7fa"/>
<rect x="423.15" y="763.59" width="5.92" height="8.28" fill="#f3eef6"/>
<rect x="429.97" y="763.59" width="5.92" height="8.28" fill="#f8f7fa"/>
<rect x="436.79" y="763.59" width="5.92" height="8.28" fill="#f8f7fa"/>
<rect x="443.61" y="763.59" width="5.92" height="8.28" fill="#f8f7fa"/>
<rect x="450.43" y="763.59" width="5.92" height="8.28" fill="#f8f7fa"/>
<rect x="457.25" y="763.59" width="5.92" height="8.28" fill="#f3eef6"/>
<rect x="464.07" y="763.59" width="5.92" height="8.28" fill="#f8f7fa"/>
<rect x="470.89" y="763.59" width="5.92" height="8.28" fill="#f8f7fa"/>
<rect x="477.71" y="763.59" width="5.92" height="8.28" fill="#f8f7fa"/>
<rect x="484.53" y="763.59" width="5.92" height="8.28" fill="#f3eef6"/>
<rect x="491.35" y="763.59" width="5.92" height="8.28" fill="#f8f7fa"/>
<rect x="498.17" y="763.59" width="5.92" height="8.28" fill="#f8f7fa"/>
<rect x="504.99" y="763.59" width="5.92" height="8.28" fill="#f3eef6"/>
<rect x="511.81" y="763.59" width="5.92" height="8.28" fill="#f3eef6"/>
<rect x="518.63" y="763.59" width="5.92" height="8.28" fill="#f8f7fa"/>
<rect x="525.45" y="763.59" width="5.92" height="8.28" fill="#f8f7fa"/>
<rect x="532.27" y="763.59" width="5.92" height="8.28" fill="#f3eef6"/>
<rect x="539.09" y="763.59" width="5.92" height="8.28" fill="#f8f7fa"/>
<rect x="545.91" y="763.59" width="5.92" height="8.28" fill="#f8f7fa"/>
<rect x="552.73" y="763.59" width="5.92" height="8.28" fill="#f8f7fa"/>
<rect x="559.55" y="763.59" width="5.92" height="8.28" fill="#f8f7fa"/>
<rect x="566.37" y="763.59" width="5.92" height="8.28" fill="#f8f7fa"/>
<rect x="573.19" y="763.59" width="5.92" height="8.28" fill="#f8f7fa"/>
<rect x="580.01" y="763.59" width="5.92" height="8.28" fill="#f8f7fa"/>
<rect x="586.83" y="763.59" width="5.92" height="8.28" fill="#f8f7fa"/>
<rect x="593.65" y="763.59" width="5.92" height="8.28" fill="#f8f7fa"/>
<rect x="600.47" y="763.59" width="5.92" height="8.28" fill="#f8f7fa"/>
<rect x="607.29" y="763.59" width="5.92" height="8.28" fill="#f8f7fa"/>
<rect x="614.11" y="763.59" width="5.92" height="8.28" fill="#f8f7fa"/>
<rect x="620.93" y="763.59" width="5.92" height="8.28" fill="#f8f7fa"/>
<rect x="627.75" y="763.59" width="5.92" height="8.28" fill="#f8f7fa"/>
<rect x="634.57" y="763.59" width="5.92" height="8.28" fill="#f8f7fa"/>
<rect x="641.39" y="763.59" width="5.92" height="8.28" fill="#f8f7fa"/>
<rect x="648.21" y="763.59" width="5.92" height="8.28" fill="#f8f7fa"/>
<rect x="655.03" y="763.59" width="5.92" height="8.28" fill="#f8f7fa"/>
<rect x="661.85" y="763.59" width="5.92" height="8.28" fill="#ebcdec"/>
<rect x="668.67" y="763.59" width="5.92" height="8.28" fill="#f8f7fa"/>
<rect x="232" y="772.77" width="8.2" height="8.28" fill="#f3f3f5"/>
<text transform="translate(229.7 779.46) scale(1 1.1)" font-size="7.1" text-anchor="end" fill="#333333">ITGB2</text>
<rect x="252.65" y="772.77" width="5.92" height="8.28" fill="#f8f7fa"/>
<rect x="259.47" y="772.77" width="5.92" height="8.28" fill="#f8f7fa"/>
<rect x="266.29" y="772.77" width="5.92" height="8.28" fill="#f8f7fa"/>
<rect x="273.11" y="772.77" width="5.92" height="8.28" fill="#f8f7fa"/>
<rect x="279.93" y="772.77" width="5.92" height="8.28" fill="#f8f7fa"/>
<rect x="286.75" y="772.77" width="5.92" height="8.28" fill="#f8f7fa"/>
<rect x="293.57" y="772.77" width="5.92" height="8.28" fill="#f8f7fa"/>
<rect x="300.39" y="772.77" width="5.92" height="8.28" fill="#f8f7fa"/>
<rect x="307.21" y="772.77" width="5.92" height="8.28" fill="#f8f7fa"/>
<rect x="314.03" y="772.77" width="5.92" height="8.28" fill="#f8f7fa"/>
<rect x="320.85" y="772.77" width="5.92" height="8.28" fill="#f8f7fa"/>
<rect x="327.67" y="772.77" width="5.92" height="8.28" fill="#f8f7fa"/>
<rect x="334.49" y="772.77" width="5.92" height="8.28" fill="#f8f7fa"/>
<rect x="341.31" y="772.77" width="5.92" height="8.28" fill="#f8f7fa"/>
<rect x="348.13" y="772.77" width="5.92" height="8.28" fill="#f8f7fa"/>
<rect x="354.95" y="772.77" width="5.92" height="8.28" fill="#f8f7fa"/>
<rect x="361.77" y="772.77" width="5.92" height="8.28" fill="#f8f7fa"/>
<rect x="368.59" y="772.77" width="5.92" height="8.28" fill="#f8f7fa"/>
<rect x="375.41" y="772.77" width="5.92" height="8.28" fill="#f8f7fa"/>
<rect x="382.23" y="772.77" width="5.92" height="8.28" fill="#f3eef6"/>
<rect x="389.05" y="772.77" width="5.92" height="8.28" fill="#f8f7fa"/>
<rect x="395.87" y="772.77" width="5.92" height="8.28" fill="#f3eef6"/>
<rect x="402.69" y="772.77" width="5.92" height="8.28" fill="#f3eef6"/>
<rect x="409.51" y="772.77" width="5.92" height="8.28" fill="#f8f7fa"/>
<rect x="416.33" y="772.77" width="5.92" height="8.28" fill="#f8f7fa"/>
<rect x="423.15" y="772.77" width="5.92" height="8.28" fill="#f3eef6"/>
<rect x="429.97" y="772.77" width="5.92" height="8.28" fill="#f3eef6"/>
<rect x="436.79" y="772.77" width="5.92" height="8.28" fill="#f8f7fa"/>
<rect x="443.61" y="772.77" width="5.92" height="8.28" fill="#f8f7fa"/>
<rect x="450.43" y="772.77" width="5.92" height="8.28" fill="#f8f7fa"/>
<rect x="457.25" y="772.77" width="5.92" height="8.28" fill="#f3eef6"/>
<rect x="464.07" y="772.77" width="5.92" height="8.28" fill="#f8f7fa"/>
<rect x="470.89" y="772.77" width="5.92" height="8.28" fill="#f8f7fa"/>
<rect x="477.71" y="772.77" width="5.92" height="8.28" fill="#f8f7fa"/>
<rect x="484.53" y="772.77" width="5.92" height="8.28" fill="#f3eef6"/>
<rect x="491.35" y="772.77" width="5.92" height="8.28" fill="#f8f7fa"/>
<rect x="498.17" y="772.77" width="5.92" height="8.28" fill="#f8f7fa"/>
<rect x="504.99" y="772.77" width="5.92" height="8.28" fill="#ebcdec"/>
<rect x="511.81" y="772.77" width="5.92" height="8.28" fill="#f3eef6"/>
<rect x="518.63" y="772.77" width="5.92" height="8.28" fill="#f8f7fa"/>
<rect x="525.45" y="772.77" width="5.92" height="8.28" fill="#f8f7fa"/>
<rect x="532.27" y="772.77" width="5.92" height="8.28" fill="#f8f7fa"/>
<rect x="539.09" y="772.77" width="5.92" height="8.28" fill="#f8f7fa"/>
<rect x="545.91" y="772.77" width="5.92" height="8.28" fill="#f8f7fa"/>
<rect x="552.73" y="772.77" width="5.92" height="8.28" fill="#f8f7fa"/>
<rect x="559.55" y="772.77" width="5.92" height="8.28" fill="#f8f7fa"/>
<rect x="566.37" y="772.77" width="5.92" height="8.28" fill="#f8f7fa"/>
<rect x="573.19" y="772.77" width="5.92" height="8.28" fill="#f8f7fa"/>
<rect x="580.01" y="772.77" width="5.92" height="8.28" fill="#f8f7fa"/>
<rect x="586.83" y="772.77" width="5.92" height="8.28" fill="#f8f7fa"/>
<rect x="593.65" y="772.77" width="5.92" height="8.28" fill="#f8f7fa"/>
<rect x="600.47" y="772.77" width="5.92" height="8.28" fill="#f8f7fa"/>
<rect x="607.29" y="772.77" width="5.92" height="8.28" fill="#f8f7fa"/>
<rect x="614.11" y="772.77" width="5.92" height="8.28" fill="#f8f7fa"/>
<rect x="620.93" y="772.77" width="5.92" height="8.28" fill="#f8f7fa"/>
<rect x="627.75" y="772.77" width="5.92" height="8.28" fill="#f8f7fa"/>
<rect x="634.57" y="772.77" width="5.92" height="8.28" fill="#f8f7fa"/>
<rect x="641.39" y="772.77" width="5.92" height="8.28" fill="#f8f7fa"/>
<rect x="648.21" y="772.77" width="5.92" height="8.28" fill="#f8f7fa"/>
<rect x="655.03" y="772.77" width="5.92" height="8.28" fill="#f8f7fa"/>
<rect x="661.85" y="772.77" width="5.92" height="8.28" fill="#f8f7fa"/>
<rect x="668.67" y="772.77" width="5.92" height="8.28" fill="#f1e5f3"/>
<text transform="translate(256.01 641.2) rotate(-90) scale(1 1.1)" font-size="5.4" font-style="italic" fill="#333333">ABCA1</text>
<text transform="translate(262.83 641.2) rotate(-90) scale(1 1.1)" font-size="5.4" font-style="italic" fill="#333333">ACP2</text>
<text transform="translate(269.65 641.2) rotate(-90) scale(1 1.1)" font-size="5.4" font-style="italic" fill="#333333">APOC1</text>
<text transform="translate(276.47 641.2) rotate(-90) scale(1 1.1)" font-size="5.4" font-style="italic" fill="#333333">CAPG</text>
<text transform="translate(283.29 641.2) rotate(-90) scale(1 1.1)" font-size="5.4" font-style="italic" fill="#333333">CTSB</text>
<text transform="translate(290.11 641.2) rotate(-90) scale(1 1.1)" font-size="5.4" font-style="italic" fill="#333333">CTSL</text>
<text transform="translate(296.93 641.2) rotate(-90) scale(1 1.1)" font-size="5.4" font-style="italic" fill="#333333">CYB5A</text>
<text transform="translate(303.75 641.2) rotate(-90) scale(1 1.1)" font-size="5.4" font-style="italic" fill="#333333">CYP27A1</text>
<text transform="translate(310.57 641.2) rotate(-90) scale(1 1.1)" font-size="5.4" font-style="italic" fill="#333333">GPNMB</text>
<text transform="translate(317.39 641.2) rotate(-90) scale(1 1.1)" font-size="5.4" font-style="italic" fill="#333333">JUNB</text>
<text transform="translate(324.21 641.2) rotate(-90) scale(1 1.1)" font-size="5.4" font-style="italic" fill="#333333">LHFPL2</text>
<text transform="translate(331.03 641.2) rotate(-90) scale(1 1.1)" font-size="5.4" font-style="italic" fill="#333333">NUPR1</text>
<text transform="translate(337.85 641.2) rotate(-90) scale(1 1.1)" font-size="5.4" font-style="italic" fill="#333333">OPTN</text>
<text transform="translate(344.67 641.2) rotate(-90) scale(1 1.1)" font-size="5.4" font-style="italic" fill="#333333">PLAU</text>
<text transform="translate(351.49 641.2) rotate(-90) scale(1 1.1)" font-size="5.4" font-style="italic" fill="#333333">RGL1</text>
<text transform="translate(358.31 641.2) rotate(-90) scale(1 1.1)" font-size="5.4" font-style="italic" fill="#333333">SLC7A5</text>
<text transform="translate(365.13 641.2) rotate(-90) scale(1 1.1)" font-size="5.4" font-style="italic" fill="#333333">STK17B</text>
<text transform="translate(371.95 641.2) rotate(-90) scale(1 1.1)" font-size="5.4" font-style="italic" fill="#333333">TNFAIP3</text>
<text transform="translate(378.77 641.2) rotate(-90) scale(1 1.1)" font-size="5.4" font-style="italic" fill="#333333">TNFRSF1A</text>
<text transform="translate(385.59 641.2) rotate(-90) scale(1 1.1)" font-size="5.4" font-style="italic" fill="#333333">BCL2</text>
<text transform="translate(392.41 641.2) rotate(-90) scale(1 1.1)" font-size="5.4" font-style="italic" fill="#333333">CCL5</text>
<text transform="translate(399.23 641.2) rotate(-90) scale(1 1.1)" font-size="5.4" font-style="italic" fill="#333333">CDKN1A</text>
<text transform="translate(406.05 641.2) rotate(-90) scale(1 1.1)" font-size="5.4" font-style="italic" fill="#333333">CXCL8</text>
<text transform="translate(412.87 641.2) rotate(-90) scale(1 1.1)" font-size="5.4" font-style="italic" fill="#333333">DDIT4</text>
<text transform="translate(419.69 641.2) rotate(-90) scale(1 1.1)" font-size="5.4" font-style="italic" fill="#333333">DUSP1</text>
<text transform="translate(426.51 641.2) rotate(-90) scale(1 1.1)" font-size="5.4" font-style="italic" fill="#333333">EGR1</text>
<text transform="translate(433.33 641.2) rotate(-90) scale(1 1.1)" font-size="5.4" font-style="italic" fill="#333333">ICAM1</text>
<text transform="translate(440.15 641.2) rotate(-90) scale(1 1.1)" font-size="5.4" font-style="italic" fill="#333333">ID3</text>
<text transform="translate(446.97 641.2) rotate(-90) scale(1 1.1)" font-size="5.4" font-style="italic" fill="#333333">IER3</text>
<text transform="translate(453.79 641.2) rotate(-90) scale(1 1.1)" font-size="5.4" font-style="italic" fill="#333333">IL1B</text>
<text transform="translate(460.61 641.2) rotate(-90) scale(1 1.1)" font-size="5.4" font-style="italic" fill="#333333">IL6</text>
<text transform="translate(467.43 641.2) rotate(-90) scale(1 1.1)" font-size="5.4" font-style="italic" fill="#333333">NDRG1</text>
<text transform="translate(474.25 641.2) rotate(-90) scale(1 1.1)" font-size="5.4" font-style="italic" fill="#333333">NFKBIA</text>
<text transform="translate(481.07 641.2) rotate(-90) scale(1 1.1)" font-size="5.4" font-style="italic" fill="#333333">PMAIP1</text>
<text transform="translate(487.89 641.2) rotate(-90) scale(1 1.1)" font-size="5.4" font-style="italic" fill="#333333">PTGS2</text>
<text transform="translate(494.71 641.2) rotate(-90) scale(1 1.1)" font-size="5.4" font-style="italic" fill="#333333">SOCS3</text>
<text transform="translate(501.53 641.2) rotate(-90) scale(1 1.1)" font-size="5.4" font-style="italic" fill="#333333">TGFB1</text>
<text transform="translate(508.35 641.2) rotate(-90) scale(1 1.1)" font-size="5.4" font-style="italic" fill="#333333">TNF</text>
<text transform="translate(515.17 641.2) rotate(-90) scale(1 1.1)" font-size="5.4" font-style="italic" fill="#333333">VEGFA</text>
<text transform="translate(521.99 641.2) rotate(-90) scale(1 1.1)" font-size="5.4" font-style="italic" fill="#333333">ATF3</text>
<text transform="translate(528.81 641.2) rotate(-90) scale(1 1.1)" font-size="5.4" font-style="italic" fill="#333333">BHLHE40</text>
<text transform="translate(535.63 641.2) rotate(-90) scale(1 1.1)" font-size="5.4" font-style="italic" fill="#333333">MMP9</text>
<text transform="translate(542.45 641.2) rotate(-90) scale(1 1.1)" font-size="5.4" font-style="italic" fill="#333333">PIM1</text>
<text transform="translate(549.27 641.2) rotate(-90) scale(1 1.1)" font-size="5.4" font-style="italic" fill="#333333">GADD45B</text>
<text transform="translate(556.09 641.2) rotate(-90) scale(1 1.1)" font-size="5.4" font-style="italic" fill="#333333">NFKB1</text>
<text transform="translate(562.91 641.2) rotate(-90) scale(1 1.1)" font-size="5.4" font-style="italic" fill="#333333">ZFP36</text>
<text transform="translate(569.73 641.2) rotate(-90) scale(1 1.1)" font-size="5.4" font-style="italic" fill="#333333">BIRC3</text>
<text transform="translate(576.55 641.2) rotate(-90) scale(1 1.1)" font-size="5.4" font-style="italic" fill="#333333">CFLAR</text>
<text transform="translate(583.37 641.2) rotate(-90) scale(1 1.1)" font-size="5.4" font-style="italic" fill="#333333">CXCL2</text>
<text transform="translate(590.19 641.2) rotate(-90) scale(1 1.1)" font-size="5.4" font-style="italic" fill="#333333">FN1</text>
<text transform="translate(597.01 641.2) rotate(-90) scale(1 1.1)" font-size="5.4" font-style="italic" fill="#333333">BCL3</text>
<text transform="translate(603.83 641.2) rotate(-90) scale(1 1.1)" font-size="5.4" font-style="italic" fill="#333333">BIRC2</text>
<text transform="translate(610.65 641.2) rotate(-90) scale(1 1.1)" font-size="5.4" font-style="italic" fill="#333333">CXCL1</text>
<text transform="translate(617.47 641.2) rotate(-90) scale(1 1.1)" font-size="5.4" font-style="italic" fill="#333333">EBI3</text>
<text transform="translate(624.29 641.2) rotate(-90) scale(1 1.1)" font-size="5.4" font-style="italic" fill="#333333">PPP1R15A</text>
<text transform="translate(631.11 641.2) rotate(-90) scale(1 1.1)" font-size="5.4" font-style="italic" fill="#333333">REL</text>
<text transform="translate(637.93 641.2) rotate(-90) scale(1 1.1)" font-size="5.4" font-style="italic" fill="#333333">RELB</text>
<text transform="translate(644.75 641.2) rotate(-90) scale(1 1.1)" font-size="5.4" font-style="italic" fill="#333333">TXNIP</text>
<text transform="translate(651.57 641.2) rotate(-90) scale(1 1.1)" font-size="5.4" font-style="italic" fill="#333333">MMP13</text>
<text transform="translate(658.39 641.2) rotate(-90) scale(1 1.1)" font-size="5.4" font-style="italic" fill="#333333">HES1</text>
<text transform="translate(665.21 641.2) rotate(-90) scale(1 1.1)" font-size="5.4" font-style="italic" fill="#333333">OLR1</text>
<text transform="translate(672.03 641.2) rotate(-90) scale(1 1.1)" font-size="5.4" font-style="italic" fill="#333333">UBE2L6</text>
<text transform="translate(195.8 713) rotate(-90) scale(1 1.1)" font-size="7.35" text-anchor="middle" fill="#333333">Prioritized ligands</text>
<text transform="translate(233.2 807.2) scale(1 1.1)" font-size="5.8" fill="#333333">AUPR</text>
<text transform="translate(233.2 814.4) scale(1 1.1)" font-size="5.85" fill="#333333">(target gene prediction ability)</text>
<rect x="331" y="799.6" width="51.9" height="10.4" fill="url(#og)"/>
<text transform="translate(332.9 817.4) rotate(-45) scale(1 1.1)" font-size="6.4" text-anchor="end" fill="#333333">0.100</text>
<line x1="341.75" y1="808" x2="341.75" y2="810" stroke="#fff" stroke-width="0.5"/>
<text transform="translate(343.55 817.4) rotate(-45) scale(1 1.1)" font-size="6.4" text-anchor="end" fill="#333333">0.105</text>
<line x1="352.4" y1="808" x2="352.4" y2="810" stroke="#fff" stroke-width="0.5"/>
<text transform="translate(354.2 817.4) rotate(-45) scale(1 1.1)" font-size="6.4" text-anchor="end" fill="#333333">0.110</text>
<line x1="363.05" y1="808" x2="363.05" y2="810" stroke="#fff" stroke-width="0.5"/>
<text transform="translate(364.85 817.4) rotate(-45) scale(1 1.1)" font-size="6.4" text-anchor="end" fill="#333333">0.115</text>
<line x1="373.7" y1="808" x2="373.7" y2="810" stroke="#fff" stroke-width="0.5"/>
<text transform="translate(375.5 817.4) rotate(-45) scale(1 1.1)" font-size="6.4" text-anchor="end" fill="#333333">0.120</text>
<text transform="translate(469.3 806.5) scale(1 1.1)" font-size="7.3" fill="#333333">Regulatory potential</text>
<rect x="537.1" y="799" width="51.8" height="9.8" fill="url(#pg)"/>
<text transform="translate(539.7 816.8) rotate(-45) scale(1 1.1)" font-size="7" text-anchor="end" fill="#333333">0.00</text>
<line x1="550.05" y1="806.8" x2="550.05" y2="808.8" stroke="#fff" stroke-width="0.5"/>
<text transform="translate(552.45 816.8) rotate(-45) scale(1 1.1)" font-size="7" text-anchor="end" fill="#333333">0.05</text>
<line x1="562.8" y1="806.8" x2="562.8" y2="808.8" stroke="#fff" stroke-width="0.5"/>
<text transform="translate(565.2 816.8) rotate(-45) scale(1 1.1)" font-size="7" text-anchor="end" fill="#333333">0.10</text>
<line x1="575.55" y1="806.8" x2="575.55" y2="808.8" stroke="#fff" stroke-width="0.5"/>
<text transform="translate(577.95 816.8) rotate(-45) scale(1 1.1)" font-size="7" text-anchor="end" fill="#333333">0.15</text>
<text transform="translate(590.7 816.8) rotate(-45) scale(1 1.1)" font-size="7" text-anchor="end" fill="#333333">0.20</text>
</svg>
</body></html>
